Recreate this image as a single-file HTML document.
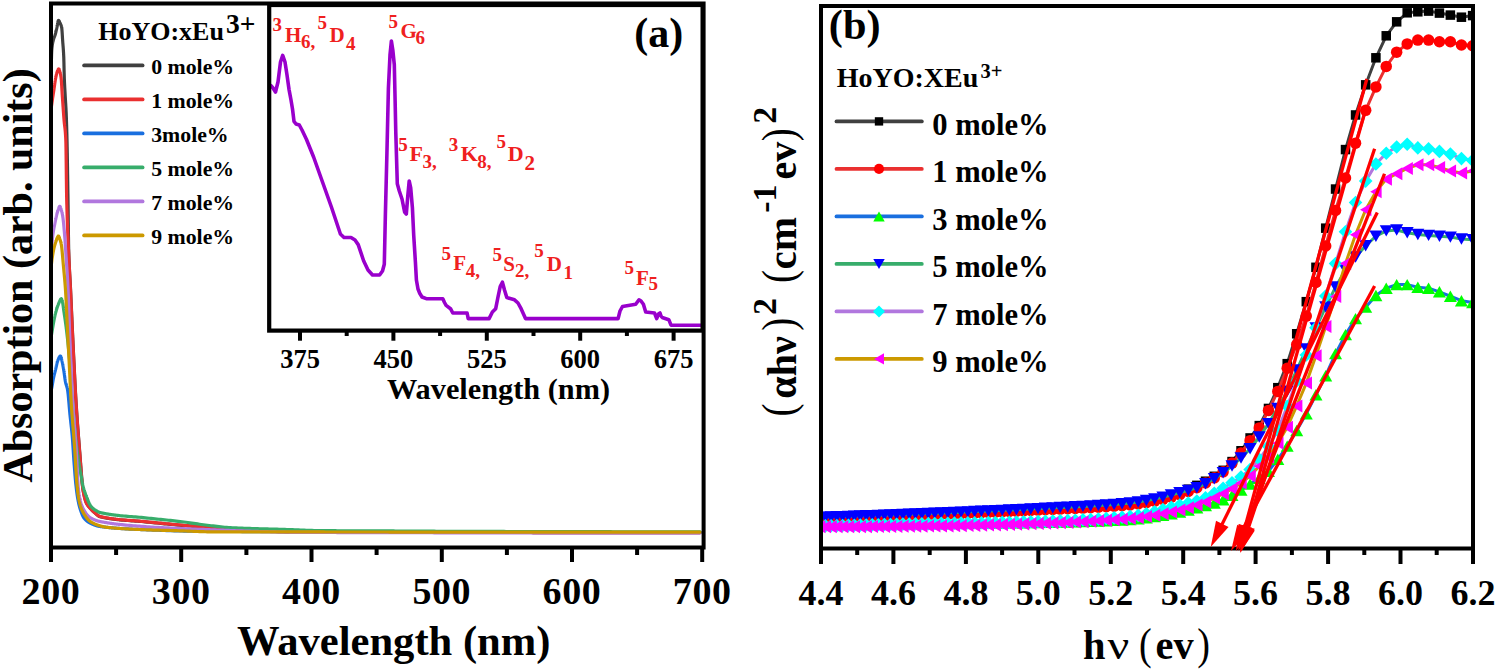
<!DOCTYPE html>
<html><head><meta charset="utf-8"><style>
html,body{margin:0;padding:0;background:#fff;}
svg{display:block;}
text{font-family:"Liberation Serif", serif;}
</style></head><body>
<svg width="1497" height="672" viewBox="0 0 1497 672">
<rect width="1497" height="672" fill="#fff"/>
<defs><clipPath id="clipL"><rect x="51" y="3.5" width="652.6" height="544.0"/></clipPath><clipPath id="clipR"><rect x="821" y="6" width="652" height="542.5"/></clipPath><clipPath id="clipI"><rect x="269.5" y="4.5" width="434" height="326"/></clipPath></defs>
<polyline points="51.20,68.30 51.26,66.08 51.31,63.84 51.37,61.62 51.43,59.46 51.49,57.40 51.54,55.47 51.60,53.72 51.66,52.19 51.72,50.92 51.77,49.94 51.83,49.25 51.89,48.62 51.95,48.03 52.00,47.47 52.06,46.95 52.12,46.45 52.18,45.98 52.23,45.54 52.29,45.12 52.35,44.73 52.41,44.36 52.46,44.01 52.52,43.67 52.58,43.36 52.63,43.06 52.69,42.77 52.75,42.50 52.81,42.24 52.86,41.98 52.92,41.74 52.98,41.50 53.04,41.26 53.09,41.03 53.15,40.80 53.21,40.57 53.27,40.34 53.32,40.11 53.38,39.88 53.44,39.66 53.50,39.45 53.55,39.25 53.61,39.05 53.67,38.86 53.72,38.68 53.78,38.50 53.84,38.33 53.90,38.16 53.95,38.00 54.01,37.84 54.07,37.68 54.13,37.53 54.18,37.38 54.24,37.23 54.30,37.09 54.36,36.94 54.41,36.80 54.47,36.66 54.53,36.51 54.59,36.37 54.64,36.22 54.70,36.08 54.76,35.93 54.82,35.78 54.87,35.62 54.93,35.47 54.99,35.31 55.04,35.14 55.10,34.97 55.16,34.80 55.22,34.62 55.27,34.43 55.33,34.24 55.39,34.04 55.45,33.83 55.50,33.62 55.56,33.40 55.62,33.18 55.68,32.95 55.73,32.71 55.79,32.48 55.85,32.23 55.91,31.98 55.96,31.73 56.02,31.48 56.08,31.22 56.13,30.96 56.19,30.70 56.25,30.44 56.31,30.17 56.36,29.91 56.42,29.64 56.48,29.38 56.54,29.11 56.59,28.84 56.65,28.58 56.71,28.31 56.77,28.05 56.82,27.79 56.88,27.53 56.94,27.27 57.00,27.02 57.05,26.76 57.11,26.48 57.17,26.19 57.23,25.89 57.28,25.57 57.34,25.25 57.40,24.91 57.45,24.58 57.51,24.24 57.57,23.91 57.63,23.57 57.68,23.25 57.74,22.92 57.80,22.61 57.86,22.31 57.91,22.02 57.97,21.75 58.03,21.50 58.09,21.27 58.14,21.06 58.20,20.87 58.26,20.72 58.32,20.59 58.37,20.49 58.43,20.43 58.49,20.40 58.54,20.40 58.60,20.42 58.66,20.45 58.72,20.49 58.77,20.54 58.83,20.60 58.89,20.68 58.95,20.76 59.00,20.84 59.06,20.94 59.12,21.04 59.18,21.15 59.23,21.27 59.29,21.39 59.35,21.51 59.41,21.64 59.46,21.77 59.52,21.90 59.58,22.04 59.64,22.17 59.69,22.30 59.75,22.44 59.81,22.57 59.86,22.70 59.92,22.83 59.98,22.96 60.04,23.08 60.09,23.20 60.15,23.31 60.21,23.43 60.27,23.54 60.32,23.65 60.38,23.77 60.44,23.88 60.50,23.99 60.55,24.11 60.61,24.23 60.67,24.35 60.73,24.48 60.78,24.61 60.84,24.74 60.90,24.88 60.95,25.03 61.01,25.18 61.07,25.34 61.13,25.50 61.18,25.68 61.24,25.86 61.30,26.05 61.36,26.25 61.41,26.47 61.47,26.69 61.53,26.92 61.59,27.17 61.64,27.43 61.70,27.70 61.76,28.04 61.82,28.47 61.87,29.00 61.93,29.61 61.99,30.29 62.05,31.04 62.10,31.84 62.16,32.69 62.22,33.57 62.27,34.49 62.33,35.42 62.39,36.36 62.45,37.31 62.50,38.24 62.56,39.16 62.62,40.05 62.68,40.91 62.73,41.72 62.79,42.50 62.85,43.26 62.91,43.99 62.96,44.71 63.02,45.42 63.08,46.14 63.14,46.87 63.19,47.61 63.25,48.37 63.31,49.16 63.36,49.99 63.42,50.86 63.48,51.78 63.54,52.75 63.59,53.80 63.65,54.91 63.71,56.10 63.77,57.39 63.82,59.05 63.88,61.10 63.94,63.42 64.00,65.92 64.05,68.50 64.11,71.05 64.17,73.47 64.23,75.66 64.28,77.52 64.34,79.05 64.40,80.47 64.46,81.81 64.51,83.08 64.57,84.28 64.63,85.43 64.68,86.53 64.74,87.59 64.80,88.62 64.86,89.63 64.91,90.63 64.97,91.62 65.03,92.62 65.09,93.63 65.14,94.66 65.20,95.72 65.26,96.77 65.32,97.78 65.37,98.76 65.43,99.72 65.49,100.65 65.55,101.57 65.60,102.49 65.66,103.41 65.72,104.35 65.77,105.30 65.83,106.27 65.89,107.28 65.95,108.33 66.00,109.42 66.06,110.57 66.12,111.78 66.18,113.05 66.23,114.41 66.29,115.84 66.35,117.36 66.41,118.96 66.46,120.63 66.52,122.38 66.58,124.22 66.64,126.12 66.69,128.11 66.75,130.17 66.81,132.31 66.87,134.52 66.92,136.80 66.98,139.15 67.04,141.61 67.09,144.24 67.15,147.06 67.21,150.03 67.27,153.15 67.32,156.41 67.38,159.78 67.44,163.26 67.50,166.84 67.55,170.49 67.61,174.20 67.67,177.97 67.73,181.77 67.78,185.59 67.84,189.42 67.90,193.25 67.96,197.06 68.01,200.84 68.07,204.90 68.13,209.28 68.18,213.90 68.24,218.66 68.30,223.46 68.36,228.20 68.41,232.79 68.47,237.13 68.53,241.12 68.59,244.66 68.64,247.67 68.70,250.04 68.76,252.03 68.82,253.92 68.87,255.71 68.93,257.42 68.99,259.04 69.05,260.59 69.10,262.06 69.16,263.46 69.22,264.80 69.28,266.08 69.33,267.30 69.39,268.47 69.45,269.60 69.50,270.69 69.56,271.74 69.62,272.76 69.68,273.75 69.73,274.73 69.79,275.68 69.85,276.62 69.91,277.56 69.96,278.49 70.02,279.42 70.08,280.36 70.14,281.31 70.19,282.28 70.25,283.27 70.31,284.28 70.37,285.32 70.42,286.40 70.48,287.52 70.54,288.68 70.59,289.89 70.65,291.13 70.71,292.38 70.77,293.64 70.82,294.90 70.88,296.17 70.94,297.45 71.00,298.73 71.05,300.01 71.11,301.29 71.17,302.58 71.23,303.87 71.28,305.17 71.34,306.46 71.40,307.76 71.46,309.05 71.51,310.35 71.57,311.65 71.63,312.94 71.69,314.23 71.74,315.52 71.80,316.81 71.86,318.10 71.91,319.38 71.97,320.66 72.03,321.93 72.09,323.19 72.14,324.46 72.20,325.71 72.26,326.96 72.32,328.20 72.37,329.44 72.43,330.66 72.49,331.89 72.55,333.11 72.60,334.32 72.66,335.54 72.72,336.75 72.78,337.96 72.83,339.16 72.89,340.37 72.95,341.57 73.00,342.76 73.06,343.96 73.12,345.15 73.18,346.34 73.23,347.52 73.29,348.70 73.35,349.88 73.41,351.06 73.46,352.23 73.52,353.40 73.58,354.56 73.64,355.73 73.69,356.88 73.75,358.04 73.81,359.19 73.87,360.34 73.92,361.49 73.98,362.63 74.04,363.77 74.10,364.90 74.15,366.04 74.21,367.18 74.27,368.32 74.32,369.46 74.38,370.61 74.44,371.75 74.50,372.90 74.55,374.04 74.61,375.19 74.67,376.33 74.73,377.48 74.78,378.62 74.84,379.75 74.90,380.88 74.96,382.01 75.01,383.13 75.07,384.25 75.13,385.36 75.19,386.46 75.24,387.56 75.30,388.65 75.36,389.72 75.41,390.79 75.47,391.85 75.53,392.90 75.59,393.93 75.64,394.96 75.70,395.97 75.76,396.97 75.82,397.95 75.87,398.92 75.93,399.88 75.99,400.82 76.05,401.74 76.10,402.66 76.16,403.57 76.22,404.48 76.28,405.38 76.33,406.27 76.39,407.16 76.45,408.04 76.51,408.91 76.56,409.78 76.62,410.64 76.68,411.50 76.73,412.35 76.79,413.20 76.85,414.04 76.91,414.88 76.96,415.71 77.02,416.53 77.08,417.35 77.14,418.17 77.19,418.98 77.25,419.79 77.31,420.59 77.37,421.39 77.42,422.18 77.48,422.97 77.54,423.76 77.60,424.54 77.65,425.32 77.71,426.09 77.77,426.86 77.82,427.63 77.88,428.39 77.94,429.15 78.00,429.91 78.05,430.66 78.11,431.42 78.17,432.16 78.23,432.91 78.28,433.65 78.34,434.39 78.40,435.13 78.46,435.87 78.51,436.60 78.57,437.34 78.63,438.07 78.69,438.79 78.74,439.52 78.80,440.25 78.86,440.97 78.92,441.69 78.97,442.41 79.03,443.13 79.09,443.85 79.14,444.57 79.20,445.29 79.26,446.00 79.32,446.72 79.37,447.43 79.43,448.15 79.49,448.86 79.55,449.58 79.60,450.30 79.66,451.03 79.72,451.76 79.78,452.50 79.83,453.24 79.89,453.99 79.95,454.74 80.01,455.50 80.06,456.26 80.12,457.02 80.18,457.78 80.23,458.54 80.29,459.31 80.35,460.07 80.41,460.84 80.46,461.61 80.52,462.37 80.58,463.14 80.64,463.91 80.69,464.67 80.75,465.43 80.81,466.19 80.87,466.95 80.92,467.70 80.98,468.45 81.04,469.20 81.10,469.94 81.15,470.67 81.21,471.41 81.27,472.13 81.33,472.85 81.38,473.57 81.44,474.27 81.50,474.97 81.55,475.67 81.61,476.35 81.67,477.03 81.73,477.69 81.78,478.35 81.84,479.00 81.90,479.64 81.96,480.27 82.01,480.88 82.07,481.49 82.13,482.09 82.19,482.67 82.24,483.24 82.30,483.80 82.36,484.34 82.42,484.87 82.47,485.39 82.53,485.89 82.59,486.37 82.64,486.85 82.70,487.30 82.76,487.74 82.82,488.17 82.87,488.57 82.93,488.96 82.99,489.33 83.05,489.69 83.10,490.02 83.16,490.35 83.22,490.67 83.28,490.99 83.33,491.30 83.39,491.61 83.45,491.91 83.51,492.22 83.56,492.51 83.62,492.81 83.68,493.10 83.74,493.39 83.79,493.67 83.85,493.95 83.91,494.23 83.96,494.50 84.02,494.77 84.08,495.03 84.14,495.29 84.19,495.55 84.25,495.80 84.31,496.06 84.37,496.30 84.42,496.55 84.48,496.78 84.54,497.02 84.60,497.25 84.65,497.48 84.71,497.71 84.77,497.93 84.83,498.15 84.88,498.36 84.94,498.57 85.00,498.78 85.05,498.98 85.11,499.19 85.17,499.38 85.23,499.58 85.28,499.77 85.34,499.95 85.40,500.14 85.46,500.32 85.51,500.49 85.57,500.67 85.63,500.84 85.69,501.00 85.74,501.16 85.80,501.32 85.86,501.48 85.92,501.63 85.97,501.78 86.03,501.93 86.09,502.07 86.15,502.21 86.20,502.35 86.26,502.48 86.32,502.61 86.37,502.74 86.43,502.86 86.49,502.98 86.55,503.10 86.60,503.21 86.66,503.32 86.72,503.44 86.78,503.55 86.83,503.65 86.89,503.76 86.95,503.86 87.01,503.97 87.06,504.07 87.12,504.17 87.18,504.27 87.24,504.36 87.29,504.46 87.35,504.55 87.41,504.65 87.46,504.74 87.52,504.83 87.58,504.92 87.64,505.01 87.69,505.09 87.75,505.18 87.81,505.26 87.87,505.34 87.92,505.43 87.98,505.51 88.04,505.59 88.10,505.66 88.15,505.74 88.21,505.82 88.27,505.90 88.33,505.97 88.38,506.04 88.44,506.12 88.50,506.19 88.56,506.26 88.61,506.33 88.67,506.40 88.73,506.47 88.78,506.54 88.84,506.61 88.90,506.68 88.96,506.75 89.01,506.82 89.07,506.88 89.13,506.95 89.19,507.02 89.24,507.08 89.30,507.15 89.36,507.21 89.42,507.28 89.47,507.34 89.53,507.41 89.59,507.47 89.65,507.53 89.70,507.60 89.76,507.66 89.82,507.73 89.87,507.79 89.93,507.86 89.99,507.92 90.05,507.98 90.10,508.05 90.16,508.11 90.22,508.18 90.28,508.24 90.33,508.31 90.39,508.37 90.45,508.44 90.51,508.51 90.56,508.57 90.62,508.64 90.68,508.71 90.74,508.77 90.79,508.84 90.85,508.90 90.91,508.97 90.97,509.03 91.02,509.10 91.08,509.16 91.14,509.22 91.19,509.29 91.25,509.35 91.31,509.41 91.37,509.48 91.42,509.54 91.48,509.60 91.54,509.67 91.60,509.73 91.65,509.79 91.71,509.85 91.77,509.91 91.83,509.97 91.88,510.03 91.94,510.09 92.00,510.15 92.06,510.21 92.11,510.27 92.17,510.33 92.23,510.39 92.28,510.45 92.34,510.51 92.40,510.57 92.46,510.63 92.51,510.69 92.57,510.74 92.63,510.80 92.69,510.86 92.74,510.92 92.80,510.97 92.86,511.03 92.92,511.09 92.97,511.14 93.03,511.20 93.09,511.26 93.15,511.31 93.20,511.37 93.26,511.42 93.32,511.48 93.38,511.53 93.43,511.59 93.49,511.64 93.55,511.70 93.60,511.75 93.66,511.80 93.72,511.86 93.78,511.91 93.83,511.96 93.89,512.02 93.95,512.07 94.01,512.12 94.06,512.18 94.12,512.23 94.18,512.28 94.24,512.33 94.29,512.38 94.35,512.43 94.41,512.48 94.47,512.54 94.52,512.59 94.58,512.64 94.64,512.69 94.69,512.74 94.75,512.79 94.81,512.84 94.87,512.89 94.92,512.94 94.98,512.98 95.04,513.03 95.10,513.08 95.15,513.13 95.21,513.18 95.27,513.23 95.33,513.28 95.38,513.33 95.44,513.39 95.50,513.44 95.56,513.49 95.61,513.54 95.67,513.59 95.73,513.64 95.79,513.70 95.84,513.75 95.90,513.80 95.96,513.85 96.01,513.90 96.07,513.96 96.13,514.01 96.19,514.06 96.24,514.12 96.30,514.17 96.36,514.22 96.42,514.27 96.47,514.32 96.53,514.38 96.59,514.43 96.65,514.48 96.70,514.53 96.76,514.59 96.82,514.64 96.88,514.69 96.93,514.74 96.99,514.79 97.05,514.84 97.10,514.89 97.16,514.94 97.22,514.99 97.28,515.04 97.33,515.09 97.39,515.14 97.45,515.19 97.51,515.24 97.56,515.28 97.62,515.33 97.68,515.38 97.74,515.42 97.79,515.47 97.85,515.52 97.91,515.56 97.97,515.60 98.02,515.65 98.08,515.69 98.14,515.73 98.20,515.78 98.25,515.82 98.31,515.86 98.37,515.90 98.42,515.94 98.48,515.98 98.54,516.02 98.60,516.05 98.65,516.09 98.71,516.13 98.77,516.16 98.83,516.20 98.88,516.23 98.94,516.26 99.00,516.29 99.06,516.33 99.11,516.36 99.17,516.38 99.23,516.41 99.29,516.44 99.34,516.47 99.40,516.49 99.46,516.52 99.51,516.54 99.57,516.56 99.63,516.59 99.69,516.61 99.74,516.63 99.80,516.64 99.86,516.66 99.92,516.68 99.97,516.69 100.03,516.71 100.09,516.72 100.15,516.74 100.20,516.75 100.26,516.76 100.32,516.78 100.38,516.79 100.43,516.80 100.49,516.82 100.55,516.83 100.61,516.85 100.66,516.86 100.72,516.87 100.78,516.89 100.83,516.90 100.89,516.91 100.95,516.93 101.01,516.94 101.06,516.95 101.12,516.97 101.18,516.98 101.24,516.99 101.29,517.01 101.35,517.02 101.41,517.03 101.47,517.05 101.52,517.06 101.58,517.07 101.64,517.09 101.70,517.10 101.75,517.11 101.81,517.13 101.87,517.14 101.92,517.15 101.98,517.16 102.04,517.18 102.10,517.19 102.15,517.20 102.21,517.22 102.27,517.23 102.33,517.24 102.38,517.25 102.44,517.27 102.50,517.28 102.56,517.29 102.61,517.30 102.67,517.32 102.73,517.33 102.79,517.34 102.84,517.35 102.90,517.37 102.96,517.38 103.02,517.39 103.07,517.40 103.13,517.41 103.19,517.43 103.24,517.44 103.30,517.45 103.36,517.46 103.42,517.48 103.47,517.49 103.53,517.50 103.59,517.51 103.65,517.52 103.70,517.54 103.76,517.55 103.82,517.56 103.88,517.57 103.93,517.58 103.99,517.59 104.05,517.61 104.11,517.62 104.16,517.63 104.22,517.64 104.28,517.65 104.33,517.66 104.39,517.68 104.45,517.69 104.51,517.70 104.56,517.71 104.62,517.72 104.68,517.73 104.74,517.74 104.79,517.76 104.85,517.77 104.91,517.78 104.97,517.79 105.02,517.80 105.08,517.81 105.14,517.82 105.20,517.83 105.25,517.84 105.31,517.86 105.37,517.87 105.43,517.88 105.48,517.89 105.54,517.90 105.60,517.91 105.65,517.92 105.71,517.93 105.77,517.94 105.83,517.95 105.88,517.96 105.94,517.97 106.00,517.99 106.06,518.00 106.11,518.01 106.17,518.02 106.23,518.03 106.29,518.04 106.34,518.05 106.40,518.06 106.46,518.07 106.52,518.08 106.57,518.09 106.63,518.10 106.69,518.11 106.74,518.12 106.80,518.13 106.86,518.14 106.92,518.15 106.97,518.16 107.03,518.17 107.09,518.18 107.15,518.19 107.20,518.20 107.26,518.21 107.32,518.22 107.38,518.23 107.43,518.24 107.49,518.25 107.55,518.26 107.61,518.27 107.66,518.28 107.72,518.29 107.78,518.30 107.84,518.31 107.89,518.32 107.95,518.33 108.01,518.34 108.06,518.35 108.12,518.36 108.18,518.37 108.24,518.38 108.29,518.39 108.35,518.40 108.41,518.41 108.47,518.42 108.52,518.43 108.58,518.44 108.64,518.45 108.70,518.46 108.75,518.47 108.81,518.47 108.87,518.48 108.93,518.49 108.98,518.50 109.04,518.51 109.10,518.52 109.15,518.53 109.21,518.54 109.27,518.55 109.33,518.56 109.38,518.57 109.44,518.58 109.50,518.58 109.56,518.59 109.61,518.60 109.67,518.61 109.73,518.62 109.79,518.63 109.84,518.64 109.90,518.65 109.96,518.66 110.02,518.66 110.07,518.67 110.13,518.68 110.19,518.69 110.25,518.70 110.30,518.71 110.36,518.72 110.42,518.73 110.47,518.73 110.53,518.74 110.59,518.75 110.65,518.76 110.70,518.77 110.76,518.78 110.82,518.78 110.88,518.79 110.93,518.80 110.99,518.81 111.05,518.82 111.11,518.83 111.16,518.84 111.22,518.84 111.28,518.85 111.34,518.86 111.39,518.87 111.45,518.88 111.51,518.88 111.56,518.89 111.62,518.90 111.68,518.91 111.74,518.92 111.79,518.93 111.85,518.93 111.91,518.94 111.97,518.95 112.02,518.96 112.08,518.97 112.14,518.97 112.20,518.98 112.25,518.99 112.31,519.00 112.37,519.00 112.43,519.01 112.48,519.02 112.54,519.03 112.60,519.04 112.66,519.04 112.71,519.05 112.77,519.06 112.83,519.07 112.88,519.07 112.94,519.08 113.00,519.09 113.06,519.10 113.11,519.10 113.17,519.11 113.23,519.12 113.29,519.13 113.34,519.13 113.40,519.14 113.46,519.15 113.52,519.16 113.57,519.16 113.63,519.17 113.69,519.18 113.75,519.19 113.80,519.19 113.86,519.20 113.92,519.21 113.97,519.22 114.03,519.22 114.09,519.23 114.15,519.24 114.20,519.24 114.26,519.25 114.32,519.26 114.38,519.27 114.43,519.27 114.49,519.28 114.55,519.29 114.61,519.29 114.66,519.30 114.72,519.31 114.78,519.31 114.84,519.32 114.89,519.33 114.95,519.34 115.01,519.34 115.07,519.35 115.12,519.36 115.18,519.36 115.24,519.37 115.29,519.38 115.35,519.38 115.41,519.39 115.47,519.40 115.52,519.40 115.58,519.41 115.64,519.42 115.70,519.42 115.75,519.43 115.81,519.44 115.87,519.44 115.93,519.45 115.98,519.46 116.04,519.46 116.10,519.47 116.16,519.48 116.21,519.48 116.27,519.49 116.33,519.50 116.38,519.50 116.44,519.51 116.50,519.51 116.56,519.52 116.61,519.53 116.67,519.53 116.73,519.54 116.79,519.55 116.84,519.55 116.90,519.56 116.96,519.57 117.02,519.57 117.07,519.58 117.13,519.58 117.19,519.59 117.25,519.60 117.30,519.60 117.36,519.61 117.42,519.61 117.48,519.62 117.53,519.63 117.59,519.63 117.65,519.64 117.70,519.65 117.76,519.65 117.82,519.66 117.88,519.66 117.93,519.67 117.99,519.68 118.05,519.68 118.11,519.69 118.16,519.69 118.22,519.70 118.28,519.70 118.34,519.71 118.39,519.72 118.45,519.72 118.51,519.73 118.57,519.73 118.62,519.74 118.68,519.75 118.74,519.75 118.79,519.76 118.85,519.76 118.91,519.77 118.97,519.77 119.02,519.78 119.08,519.79 119.14,519.79 119.20,519.80 119.25,519.80 119.31,519.81 119.37,519.81 119.43,519.82 119.48,519.83 119.54,519.83 119.60,519.84 119.66,519.84 119.71,519.85 119.77,519.85 119.83,519.86 119.89,519.86 119.94,519.87 120.00,519.87 121.94,520.05 123.88,520.21 125.82,520.37 127.76,520.51 129.70,520.65 131.64,520.79 133.58,520.92 135.52,521.06 137.46,521.20 139.40,521.34 141.34,521.50 143.28,521.66 145.22,521.84 147.16,522.04 149.10,522.24 151.04,522.44 152.98,522.63 154.92,522.83 156.86,523.03 158.80,523.22 160.74,523.41 162.68,523.60 164.62,523.79 166.56,523.98 168.49,524.16 170.43,524.34 172.37,524.52 174.31,524.70 176.25,524.87 178.19,525.04 180.13,525.21 182.07,525.38 184.01,525.54 185.95,525.70 187.89,525.86 189.83,526.01 191.77,526.16 193.71,526.32 195.65,526.46 197.59,526.61 199.53,526.76 201.47,526.91 203.41,527.05 205.35,527.20 207.29,527.34 209.23,527.49 211.17,527.64 213.11,527.79 215.05,527.94 216.99,528.09 218.93,528.25 220.87,528.41 222.81,528.58 224.75,528.74 226.69,528.90 228.63,529.06 230.57,529.22 232.51,529.37 234.45,529.53 236.39,529.67 238.33,529.81 240.27,529.95 242.21,530.08 244.15,530.20 246.09,530.31 248.03,530.41 249.97,530.50 251.91,530.58 253.85,530.67 255.79,530.75 257.73,530.83 259.67,530.91 261.61,530.99 263.55,531.07 265.48,531.15 267.42,531.23 269.36,531.30 271.30,531.37 273.24,531.44 275.18,531.50 277.12,531.57 279.06,531.63 281.00,531.68 282.94,531.73 284.88,531.78 286.82,531.83 288.76,531.87 290.70,531.90 292.64,531.93 294.58,531.96 296.52,531.98 298.46,531.99 300.40,532.00 302.34,532.01 304.28,532.02 306.22,532.02 308.16,532.03 310.10,532.04 312.04,532.04 313.98,532.05 315.92,532.06 317.86,532.06 319.80,532.07 321.74,532.08 323.68,532.08 325.62,532.09 327.56,532.10 329.50,532.10 331.44,532.11 333.38,532.12 335.32,532.12 337.26,532.13 339.20,532.14 341.14,532.14 343.08,532.15 345.02,532.15 346.96,532.16 348.90,532.17 350.84,532.17 352.78,532.18 354.72,532.18 356.66,532.19 358.60,532.19 360.54,532.20 362.47,532.21 364.41,532.21 366.35,532.22 368.29,532.22 370.23,532.23 372.17,532.23 374.11,532.24 376.05,532.24 377.99,532.25 379.93,532.25 381.87,532.26 383.81,532.26 385.75,532.27 387.69,532.27 389.63,532.28 391.57,532.28 393.51,532.29 395.45,532.29 397.39,532.30 399.33,532.30 401.27,532.31 403.21,532.31 405.15,532.32 407.09,532.32 409.03,532.32 410.97,532.33 412.91,532.33 414.85,532.34 416.79,532.34 418.73,532.35 420.67,532.35 422.61,532.35 424.55,532.36 426.49,532.36 428.43,532.37 430.37,532.37 432.31,532.37 434.25,532.38 436.19,532.38 438.13,532.39 440.07,532.39 442.01,532.39 443.95,532.40 445.89,532.40 447.83,532.40 449.77,532.41 451.71,532.41 453.65,532.42 455.59,532.42 457.53,532.42 459.46,532.43 461.40,532.43 463.34,532.43 465.28,532.44 467.22,532.44 469.16,532.44 471.10,532.44 473.04,532.45 474.98,532.45 476.92,532.45 478.86,532.46 480.80,532.46 482.74,532.46 484.68,532.47 486.62,532.47 488.56,532.47 490.50,532.47 492.44,532.48 494.38,532.48 496.32,532.48 498.26,532.48 500.20,532.49 502.14,532.49 504.08,532.49 506.02,532.49 507.96,532.50 509.90,532.50 511.84,532.50 513.78,532.50 515.72,532.51 517.66,532.51 519.60,532.51 521.54,532.51 523.48,532.52 525.42,532.52 527.36,532.52 529.30,532.52 531.24,532.52 533.18,532.53 535.12,532.53 537.06,532.53 539.00,532.53 540.94,532.53 542.88,532.53 544.82,532.54 546.76,532.54 548.70,532.54 550.64,532.54 552.58,532.54 554.52,532.55 556.45,532.55 558.39,532.55 560.33,532.55 562.27,532.55 564.21,532.55 566.15,532.55 568.09,532.56 570.03,532.56 571.97,532.56 573.91,532.56 575.85,532.56 577.79,532.56 579.73,532.56 581.67,532.57 583.61,532.57 585.55,532.57 587.49,532.57 589.43,532.57 591.37,532.57 593.31,532.57 595.25,532.57 597.19,532.57 599.13,532.58 601.07,532.58 603.01,532.58 604.95,532.58 606.89,532.58 608.83,532.58 610.77,532.58 612.71,532.58 614.65,532.58 616.59,532.58 618.53,532.58 620.47,532.59 622.41,532.59 624.35,532.59 626.29,532.59 628.23,532.59 630.17,532.59 632.11,532.59 634.05,532.59 635.99,532.59 637.93,532.59 639.87,532.59 641.81,532.59 643.75,532.59 645.69,532.59 647.63,532.59 649.57,532.59 651.51,532.59 653.44,532.60 655.38,532.60 657.32,532.60 659.26,532.60 661.20,532.60 663.14,532.60 665.08,532.60 667.02,532.60 668.96,532.60 670.90,532.60 672.84,532.60 674.78,532.60 676.72,532.60 678.66,532.60 680.60,532.60 682.54,532.60 684.48,532.60 686.42,532.60 688.36,532.60 690.30,532.60 692.24,532.60 694.18,532.60 696.12,532.60 698.06,532.60 700.00,532.60" fill="none" stroke="#404040" stroke-width="3.2" stroke-linejoin="round" stroke-linecap="round" clip-path="url(#clipL)"/>
<polyline points="50.50,113.60 50.56,113.15 50.62,112.70 50.67,112.25 50.73,111.80 50.79,111.35 50.85,110.91 50.91,110.46 50.96,110.02 51.02,109.58 51.08,109.14 51.14,108.70 51.20,108.27 51.25,107.83 51.31,107.40 51.37,106.97 51.43,106.54 51.49,106.11 51.54,105.69 51.60,105.27 51.66,104.84 51.72,104.42 51.78,104.01 51.83,103.59 51.89,103.18 51.95,102.76 52.01,102.35 52.07,101.95 52.12,101.54 52.18,101.14 52.24,100.73 52.30,100.34 52.35,99.94 52.41,99.55 52.47,99.16 52.53,98.77 52.59,98.38 52.64,97.99 52.70,97.61 52.76,97.23 52.82,96.85 52.88,96.47 52.93,96.09 52.99,95.71 53.05,95.33 53.11,94.96 53.17,94.58 53.22,94.20 53.28,93.83 53.34,93.45 53.40,93.08 53.46,92.70 53.51,92.32 53.57,91.95 53.63,91.57 53.69,91.19 53.75,90.81 53.80,90.43 53.86,90.05 53.92,89.67 53.98,89.28 54.04,88.89 54.09,88.49 54.15,88.08 54.21,87.67 54.27,87.26 54.33,86.85 54.38,86.44 54.44,86.02 54.50,85.60 54.56,85.18 54.62,84.77 54.67,84.35 54.73,83.94 54.79,83.53 54.85,83.12 54.91,82.72 54.96,82.32 55.02,81.92 55.08,81.54 55.14,81.15 55.20,80.78 55.25,80.41 55.31,80.05 55.37,79.70 55.43,79.36 55.48,79.03 55.54,78.71 55.60,78.40 55.66,78.10 55.72,77.82 55.77,77.54 55.83,77.26 55.89,76.99 55.95,76.71 56.01,76.44 56.06,76.18 56.12,75.91 56.18,75.65 56.24,75.40 56.30,75.14 56.35,74.90 56.41,74.65 56.47,74.41 56.53,74.17 56.59,73.94 56.64,73.71 56.70,73.49 56.76,73.27 56.82,73.06 56.88,72.85 56.93,72.65 56.99,72.45 57.05,72.26 57.11,72.08 57.17,71.90 57.22,71.73 57.28,71.56 57.34,71.40 57.40,71.25 57.46,71.11 57.51,70.97 57.57,70.83 57.63,70.69 57.69,70.55 57.75,70.41 57.80,70.27 57.86,70.13 57.92,69.99 57.98,69.86 58.04,69.73 58.09,69.61 58.15,69.50 58.21,69.39 58.27,69.29 58.33,69.20 58.38,69.12 58.44,69.05 58.50,68.99 58.56,68.95 58.62,68.92 58.67,68.90 58.73,68.90 58.79,68.92 58.85,68.96 58.90,69.02 58.96,69.09 59.02,69.17 59.08,69.28 59.14,69.39 59.19,69.52 59.25,69.65 59.31,69.80 59.37,69.96 59.43,70.12 59.48,70.30 59.54,70.48 59.60,70.66 59.66,70.85 59.72,71.04 59.77,71.24 59.83,71.43 59.89,71.63 59.95,71.83 60.01,72.02 60.06,72.22 60.12,72.43 60.18,72.65 60.24,72.88 60.30,73.12 60.35,73.38 60.41,73.65 60.47,73.93 60.53,74.22 60.59,74.52 60.64,74.84 60.70,75.18 60.76,75.53 60.82,75.89 60.88,76.27 60.93,76.67 60.99,77.08 61.05,77.51 61.11,77.96 61.17,78.46 61.22,79.04 61.28,79.69 61.34,80.39 61.40,81.15 61.46,81.97 61.51,82.82 61.57,83.72 61.63,84.64 61.69,85.60 61.75,86.57 61.80,87.55 61.86,88.55 61.92,89.54 61.98,90.53 62.04,91.52 62.09,92.48 62.15,93.42 62.21,94.34 62.27,95.22 62.32,96.06 62.38,96.90 62.44,97.74 62.50,98.58 62.56,99.42 62.61,100.26 62.67,101.11 62.73,101.95 62.79,102.79 62.85,103.63 62.90,104.47 62.96,105.31 63.02,106.14 63.08,106.97 63.14,107.80 63.19,108.62 63.25,109.45 63.31,110.26 63.37,111.07 63.43,111.88 63.48,112.68 63.54,113.48 63.60,114.27 63.66,115.05 63.72,115.82 63.77,116.59 63.83,117.35 63.89,118.10 63.95,118.84 64.01,119.57 64.06,120.28 64.12,120.94 64.18,121.56 64.24,122.15 64.30,122.72 64.35,123.25 64.41,123.77 64.47,124.27 64.53,124.76 64.59,125.23 64.64,125.71 64.70,126.17 64.76,126.65 64.82,127.13 64.88,127.62 64.93,128.12 64.99,128.64 65.05,129.18 65.11,129.75 65.17,130.35 65.22,130.99 65.28,131.66 65.34,132.37 65.40,133.13 65.45,133.94 65.51,134.80 65.57,135.72 65.63,136.71 65.69,137.75 65.74,138.87 65.80,140.06 65.86,141.74 65.92,144.19 65.98,147.29 66.03,150.96 66.09,155.08 66.15,159.55 66.21,164.27 66.27,169.15 66.32,174.06 66.38,178.92 66.44,183.62 66.50,188.06 66.56,192.14 66.61,195.74 66.67,198.78 66.73,201.23 66.79,203.53 66.85,205.75 66.90,207.90 66.96,209.97 67.02,211.98 67.08,213.92 67.14,215.80 67.19,217.62 67.25,219.39 67.31,221.10 67.37,222.76 67.43,224.38 67.48,225.96 67.54,227.49 67.60,228.99 67.66,230.46 67.72,231.89 67.77,233.30 67.83,234.69 67.89,236.05 67.95,237.40 68.01,238.73 68.06,240.06 68.12,241.37 68.18,242.68 68.24,243.99 68.30,245.30 68.35,246.62 68.41,247.95 68.47,249.28 68.53,250.63 68.59,251.96 68.64,253.26 68.70,254.54 68.76,255.80 68.82,257.04 68.87,258.26 68.93,259.46 68.99,260.65 69.05,261.82 69.11,262.98 69.16,264.12 69.22,265.25 69.28,266.38 69.34,267.49 69.40,268.60 69.45,269.70 69.51,270.80 69.57,271.89 69.63,272.98 69.69,274.07 69.74,275.16 69.80,276.26 69.86,277.35 69.92,278.45 69.98,279.56 70.03,280.67 70.09,281.79 70.15,282.91 70.21,284.05 70.27,285.21 70.32,286.37 70.38,287.55 70.44,288.74 70.50,289.96 70.56,291.18 70.61,292.42 70.67,293.67 70.73,294.93 70.79,296.19 70.85,297.47 70.90,298.75 70.96,300.04 71.02,301.34 71.08,302.64 71.14,303.94 71.19,305.25 71.25,306.56 71.31,307.88 71.37,309.19 71.43,310.51 71.48,311.83 71.54,313.14 71.60,314.46 71.66,315.77 71.72,317.08 71.77,318.39 71.83,319.70 71.89,320.99 71.95,322.29 72.01,323.57 72.06,324.85 72.12,326.13 72.18,327.39 72.24,328.64 72.29,329.89 72.35,331.13 72.41,332.36 72.47,333.59 72.53,334.82 72.58,336.05 72.64,337.27 72.70,338.49 72.76,339.71 72.82,340.92 72.87,342.13 72.93,343.34 72.99,344.54 73.05,345.74 73.11,346.94 73.16,348.14 73.22,349.33 73.28,350.52 73.34,351.70 73.40,352.89 73.45,354.07 73.51,355.24 73.57,356.41 73.63,357.58 73.69,358.75 73.74,359.91 73.80,361.07 73.86,362.22 73.92,363.37 73.98,364.52 74.03,365.67 74.09,366.82 74.15,367.97 74.21,369.12 74.27,370.28 74.32,371.44 74.38,372.60 74.44,373.75 74.50,374.91 74.56,376.07 74.61,377.22 74.67,378.37 74.73,379.52 74.79,380.67 74.85,381.81 74.90,382.94 74.96,384.07 75.02,385.19 75.08,386.31 75.14,387.41 75.19,388.51 75.25,389.60 75.31,390.68 75.37,391.75 75.42,392.81 75.48,393.86 75.54,394.90 75.60,395.92 75.66,396.93 75.71,397.92 75.77,398.90 75.83,399.87 75.89,400.82 75.95,401.75 76.00,402.68 76.06,403.60 76.12,404.52 76.18,405.42 76.24,406.33 76.29,407.22 76.35,408.11 76.41,408.99 76.47,409.87 76.53,410.74 76.58,411.61 76.64,412.47 76.70,413.32 76.76,414.17 76.82,415.01 76.87,415.85 76.93,416.68 76.99,417.51 77.05,418.34 77.11,419.15 77.16,419.97 77.22,420.78 77.28,421.58 77.34,422.38 77.40,423.18 77.45,423.97 77.51,424.76 77.57,425.55 77.63,426.33 77.69,427.10 77.74,427.88 77.80,428.65 77.86,429.41 77.92,430.18 77.98,430.94 78.03,431.70 78.09,432.45 78.15,433.21 78.21,433.96 78.27,434.70 78.32,435.45 78.38,436.19 78.44,436.93 78.50,437.67 78.56,438.41 78.61,439.14 78.67,439.87 78.73,440.61 78.79,441.34 78.84,442.07 78.90,442.79 78.96,443.52 79.02,444.25 79.08,444.97 79.13,445.69 79.19,446.42 79.25,447.14 79.31,447.86 79.37,448.58 79.42,449.31 79.48,450.03 79.54,450.77 79.60,451.51 79.66,452.25 79.71,453.00 79.77,453.75 79.83,454.51 79.89,455.27 79.95,456.03 80.00,456.79 80.06,457.56 80.12,458.33 80.18,459.10 80.24,459.88 80.29,460.65 80.35,461.42 80.41,462.19 80.47,462.96 80.53,463.74 80.58,464.50 80.64,465.27 80.70,466.04 80.76,466.80 80.82,467.56 80.87,468.32 80.93,469.07 80.99,469.81 81.05,470.56 81.11,471.30 81.16,472.03 81.22,472.75 81.28,473.47 81.34,474.19 81.40,474.89 81.45,475.59 81.51,476.28 81.57,476.97 81.63,477.64 81.69,478.30 81.74,478.96 81.80,479.60 81.86,480.24 81.92,480.86 81.97,481.47 82.03,482.07 82.09,482.66 82.15,483.24 82.21,483.80 82.26,484.35 82.32,484.89 82.38,485.41 82.44,485.92 82.50,486.41 82.55,486.89 82.61,487.35 82.67,487.79 82.73,488.22 82.79,488.63 82.84,489.03 82.90,489.41 82.96,489.77 83.02,490.11 83.08,490.44 83.13,490.77 83.19,491.10 83.25,491.42 83.31,491.74 83.37,492.05 83.42,492.36 83.48,492.67 83.54,492.97 83.60,493.27 83.66,493.57 83.71,493.86 83.77,494.15 83.83,494.43 83.89,494.71 83.95,494.99 84.00,495.26 84.06,495.53 84.12,495.80 84.18,496.06 84.24,496.31 84.29,496.57 84.35,496.82 84.41,497.06 84.47,497.31 84.53,497.54 84.58,497.78 84.64,498.01 84.70,498.24 84.76,498.46 84.82,498.68 84.87,498.89 84.93,499.11 84.99,499.31 85.05,499.52 85.11,499.72 85.16,499.92 85.22,500.11 85.28,500.30 85.34,500.48 85.39,500.66 85.45,500.84 85.51,501.01 85.57,501.18 85.63,501.35 85.68,501.51 85.74,501.67 85.80,501.83 85.86,501.98 85.92,502.12 85.97,502.27 86.03,502.41 86.09,502.54 86.15,502.67 86.21,502.80 86.26,502.93 86.32,503.05 86.38,503.16 86.44,503.28 86.50,503.40 86.55,503.51 86.61,503.62 86.67,503.73 86.73,503.84 86.79,503.94 86.84,504.05 86.90,504.15 86.96,504.25 87.02,504.35 87.08,504.45 87.13,504.54 87.19,504.64 87.25,504.73 87.31,504.82 87.37,504.91 87.42,505.00 87.48,505.09 87.54,505.18 87.60,505.26 87.66,505.35 87.71,505.43 87.77,505.51 87.83,505.60 87.89,505.68 87.95,505.75 88.00,505.83 88.06,505.91 88.12,505.99 88.18,506.06 88.24,506.14 88.29,506.21 88.35,506.28 88.41,506.35 88.47,506.43 88.53,506.50 88.58,506.57 88.64,506.64 88.70,506.70 88.76,506.77 88.81,506.84 88.87,506.91 88.93,506.97 88.99,507.04 89.05,507.11 89.10,507.17 89.16,507.24 89.22,507.30 89.28,507.37 89.34,507.43 89.39,507.50 89.45,507.56 89.51,507.62 89.57,507.69 89.63,507.75 89.68,507.82 89.74,507.88 89.80,507.94 89.86,508.01 89.92,508.07 89.97,508.14 90.03,508.20 90.09,508.26 90.15,508.33 90.21,508.39 90.26,508.46 90.32,508.52 90.38,508.59 90.44,508.66 90.50,508.72 90.55,508.79 90.61,508.85 90.67,508.91 90.73,508.98 90.79,509.04 90.84,509.10 90.90,509.17 90.96,509.23 91.02,509.29 91.08,509.35 91.13,509.42 91.19,509.48 91.25,509.54 91.31,509.60 91.37,509.66 91.42,509.72 91.48,509.78 91.54,509.84 91.60,509.90 91.66,509.96 91.71,510.02 91.77,510.08 91.83,510.14 91.89,510.19 91.94,510.25 92.00,510.31 92.06,510.37 92.12,510.43 92.18,510.48 92.23,510.54 92.29,510.60 92.35,510.65 92.41,510.71 92.47,510.77 92.52,510.82 92.58,510.88 92.64,510.93 92.70,510.99 92.76,511.04 92.81,511.10 92.87,511.15 92.93,511.20 92.99,511.26 93.05,511.31 93.10,511.37 93.16,511.42 93.22,511.47 93.28,511.52 93.34,511.58 93.39,511.63 93.45,511.68 93.51,511.73 93.57,511.78 93.63,511.84 93.68,511.89 93.74,511.94 93.80,511.99 93.86,512.04 93.92,512.09 93.97,512.14 94.03,512.19 94.09,512.24 94.15,512.29 94.21,512.34 94.26,512.39 94.32,512.44 94.38,512.49 94.44,512.54 94.50,512.58 94.55,512.63 94.61,512.68 94.67,512.73 94.73,512.78 94.79,512.82 94.84,512.87 94.90,512.92 94.96,512.97 95.02,513.01 95.08,513.06 95.13,513.11 95.19,513.16 95.25,513.20 95.31,513.25 95.36,513.30 95.42,513.35 95.48,513.40 95.54,513.45 95.60,513.50 95.65,513.55 95.71,513.60 95.77,513.65 95.83,513.70 95.89,513.75 95.94,513.80 96.00,513.85 96.06,513.90 96.12,513.95 96.18,514.00 96.23,514.05 96.29,514.10 96.35,514.15 96.41,514.20 96.47,514.25 96.52,514.30 96.58,514.35 96.64,514.40 96.70,514.44 96.76,514.49 96.81,514.54 96.87,514.59 96.93,514.64 96.99,514.69 97.05,514.74 97.10,514.79 97.16,514.83 97.22,514.88 97.28,514.93 97.34,514.97 97.39,515.02 97.45,515.07 97.51,515.11 97.57,515.16 97.63,515.20 97.68,515.25 97.74,515.29 97.80,515.34 97.86,515.38 97.92,515.42 97.97,515.46 98.03,515.51 98.09,515.55 98.15,515.59 98.21,515.63 98.26,515.67 98.32,515.71 98.38,515.74 98.44,515.78 98.49,515.82 98.55,515.85 98.61,515.89 98.67,515.93 98.73,515.96 98.78,515.99 98.84,516.03 98.90,516.06 98.96,516.09 99.02,516.12 99.07,516.15 99.13,516.18 99.19,516.21 99.25,516.23 99.31,516.26 99.36,516.28 99.42,516.31 99.48,516.33 99.54,516.36 99.60,516.38 99.65,516.40 99.71,516.42 99.77,516.44 99.83,516.45 99.89,516.47 99.94,516.49 100.00,516.50 100.06,516.51 100.12,516.53 100.18,516.54 100.23,516.56 100.29,516.57 100.35,516.58 100.41,516.60 100.47,516.61 100.52,516.63 100.58,516.64 100.64,516.65 100.70,516.67 100.76,516.68 100.81,516.69 100.87,516.71 100.93,516.72 100.99,516.73 101.05,516.75 101.10,516.76 101.16,516.77 101.22,516.79 101.28,516.80 101.34,516.81 101.39,516.83 101.45,516.84 101.51,516.85 101.57,516.87 101.63,516.88 101.68,516.89 101.74,516.91 101.80,516.92 101.86,516.93 101.91,516.94 101.97,516.96 102.03,516.97 102.09,516.98 102.15,517.00 102.20,517.01 102.26,517.02 102.32,517.03 102.38,517.05 102.44,517.06 102.49,517.07 102.55,517.08 102.61,517.10 102.67,517.11 102.73,517.12 102.78,517.13 102.84,517.15 102.90,517.16 102.96,517.17 103.02,517.18 103.07,517.20 103.13,517.21 103.19,517.22 103.25,517.23 103.31,517.24 103.36,517.26 103.42,517.27 103.48,517.28 103.54,517.29 103.60,517.30 103.65,517.32 103.71,517.33 103.77,517.34 103.83,517.35 103.89,517.36 103.94,517.37 104.00,517.39 104.06,517.40 104.12,517.41 104.18,517.42 104.23,517.43 104.29,517.44 104.35,517.46 104.41,517.47 104.47,517.48 104.52,517.49 104.58,517.50 104.64,517.51 104.70,517.53 104.76,517.54 104.81,517.55 104.87,517.56 104.93,517.57 104.99,517.58 105.05,517.59 105.10,517.60 105.16,517.61 105.22,517.63 105.28,517.64 105.33,517.65 105.39,517.66 105.45,517.67 105.51,517.68 105.57,517.69 105.62,517.70 105.68,517.71 105.74,517.72 105.80,517.74 105.86,517.75 105.91,517.76 105.97,517.77 106.03,517.78 106.09,517.79 106.15,517.80 106.20,517.81 106.26,517.82 106.32,517.83 106.38,517.84 106.44,517.85 106.49,517.86 106.55,517.87 106.61,517.88 106.67,517.89 106.73,517.90 106.78,517.91 106.84,517.92 106.90,517.93 106.96,517.95 107.02,517.96 107.07,517.97 107.13,517.98 107.19,517.99 107.25,518.00 107.31,518.01 107.36,518.02 107.42,518.03 107.48,518.04 107.54,518.05 107.60,518.06 107.65,518.07 107.71,518.08 107.77,518.09 107.83,518.10 107.89,518.10 107.94,518.11 108.00,518.12 108.06,518.13 108.12,518.14 108.18,518.15 108.23,518.16 108.29,518.17 108.35,518.18 108.41,518.19 108.46,518.20 108.52,518.21 108.58,518.22 108.64,518.23 108.70,518.24 108.75,518.25 108.81,518.26 108.87,518.27 108.93,518.28 108.99,518.29 109.04,518.30 109.10,518.30 109.16,518.31 109.22,518.32 109.28,518.33 109.33,518.34 109.39,518.35 109.45,518.36 109.51,518.37 109.57,518.38 109.62,518.39 109.68,518.40 109.74,518.40 109.80,518.41 109.86,518.42 109.91,518.43 109.97,518.44 110.03,518.45 110.09,518.46 110.15,518.47 110.20,518.47 110.26,518.48 110.32,518.49 110.38,518.50 110.44,518.51 110.49,518.52 110.55,518.53 110.61,518.54 110.67,518.54 110.73,518.55 110.78,518.56 110.84,518.57 110.90,518.58 110.96,518.59 111.02,518.60 111.07,518.60 111.13,518.61 111.19,518.62 111.25,518.63 111.31,518.64 111.36,518.65 111.42,518.65 111.48,518.66 111.54,518.67 111.60,518.68 111.65,518.69 111.71,518.69 111.77,518.70 111.83,518.71 111.88,518.72 111.94,518.73 112.00,518.73 112.06,518.74 112.12,518.75 112.17,518.76 112.23,518.77 112.29,518.77 112.35,518.78 112.41,518.79 112.46,518.80 112.52,518.81 112.58,518.81 112.64,518.82 112.70,518.83 112.75,518.84 112.81,518.84 112.87,518.85 112.93,518.86 112.99,518.87 113.04,518.88 113.10,518.88 113.16,518.89 113.22,518.90 113.28,518.91 113.33,518.91 113.39,518.92 113.45,518.93 113.51,518.94 113.57,518.94 113.62,518.95 113.68,518.96 113.74,518.97 113.80,518.97 113.86,518.98 113.91,518.99 113.97,518.99 114.03,519.00 114.09,519.01 114.15,519.02 114.20,519.02 114.26,519.03 114.32,519.04 114.38,519.05 114.44,519.05 114.49,519.06 114.55,519.07 114.61,519.07 114.67,519.08 114.73,519.09 114.78,519.09 114.84,519.10 114.90,519.11 114.96,519.12 115.02,519.12 115.07,519.13 115.13,519.14 115.19,519.14 115.25,519.15 115.30,519.16 115.36,519.16 115.42,519.17 115.48,519.18 115.54,519.18 115.59,519.19 115.65,519.20 115.71,519.20 115.77,519.21 115.83,519.22 115.88,519.22 115.94,519.23 116.00,519.24 116.06,519.24 116.12,519.25 116.17,519.26 116.23,519.26 116.29,519.27 116.35,519.28 116.41,519.28 116.46,519.29 116.52,519.30 116.58,519.30 116.64,519.31 116.70,519.32 116.75,519.32 116.81,519.33 116.87,519.34 116.93,519.34 116.99,519.35 117.04,519.35 117.10,519.36 117.16,519.37 117.22,519.37 117.28,519.38 117.33,519.39 117.39,519.39 117.45,519.40 117.51,519.40 117.57,519.41 117.62,519.42 117.68,519.42 117.74,519.43 117.80,519.44 117.86,519.44 117.91,519.45 117.97,519.45 118.03,519.46 118.09,519.47 118.15,519.47 118.20,519.48 118.26,519.48 118.32,519.49 118.38,519.50 118.43,519.50 118.49,519.51 118.55,519.51 118.61,519.52 118.67,519.52 118.72,519.53 118.78,519.54 118.84,519.54 118.90,519.55 118.96,519.55 119.01,519.56 119.07,519.57 119.13,519.57 119.19,519.58 119.25,519.58 119.30,519.59 119.36,519.59 119.42,519.60 119.48,519.61 119.54,519.61 119.59,519.62 119.65,519.62 119.71,519.63 119.77,519.63 119.83,519.64 119.88,519.64 119.94,519.65 120.00,519.66 121.94,519.83 123.88,520.00 125.82,520.15 127.76,520.30 129.70,520.44 131.64,520.58 133.58,520.71 135.52,520.85 137.46,520.99 139.40,521.14 141.34,521.29 143.28,521.46 145.22,521.64 147.16,521.84 149.10,522.04 151.04,522.24 152.98,522.43 154.92,522.63 156.86,522.83 158.80,523.02 160.74,523.21 162.68,523.40 164.62,523.59 166.56,523.78 168.49,523.96 170.43,524.14 172.37,524.32 174.31,524.50 176.25,524.67 178.19,524.84 180.13,525.01 182.07,525.18 184.01,525.34 185.95,525.50 187.89,525.66 189.83,525.81 191.77,525.96 193.71,526.12 195.65,526.26 197.59,526.41 199.53,526.56 201.47,526.71 203.41,526.85 205.35,527.00 207.29,527.14 209.23,527.29 211.17,527.44 213.11,527.58 215.05,527.74 216.99,527.89 218.93,528.05 220.87,528.21 222.81,528.37 224.75,528.53 226.69,528.69 228.63,528.84 230.57,529.00 232.51,529.16 234.45,529.31 236.39,529.45 238.33,529.59 240.27,529.73 242.21,529.86 244.15,529.98 246.09,530.10 248.03,530.20 249.97,530.30 251.91,530.39 253.85,530.48 255.79,530.57 257.73,530.67 259.67,530.76 261.61,530.85 263.55,530.94 265.48,531.02 267.42,531.11 269.36,531.19 271.30,531.28 273.24,531.35 275.18,531.43 277.12,531.50 279.06,531.57 281.00,531.63 282.94,531.69 284.88,531.75 286.82,531.80 288.76,531.85 290.70,531.89 292.64,531.92 294.58,531.95 296.52,531.98 298.46,531.99 300.40,532.00 302.34,532.01 304.28,532.02 306.22,532.02 308.16,532.03 310.10,532.04 312.04,532.04 313.98,532.05 315.92,532.06 317.86,532.06 319.80,532.07 321.74,532.08 323.68,532.09 325.62,532.09 327.56,532.10 329.50,532.10 331.44,532.11 333.38,532.12 335.32,532.12 337.26,532.13 339.20,532.14 341.14,532.14 343.08,532.15 345.02,532.15 346.96,532.16 348.90,532.17 350.84,532.17 352.78,532.18 354.72,532.18 356.66,532.19 358.60,532.20 360.54,532.20 362.47,532.21 364.41,532.21 366.35,532.22 368.29,532.22 370.23,532.23 372.17,532.23 374.11,532.24 376.05,532.24 377.99,532.25 379.93,532.26 381.87,532.26 383.81,532.27 385.75,532.27 387.69,532.28 389.63,532.28 391.57,532.29 393.51,532.29 395.45,532.29 397.39,532.30 399.33,532.30 401.27,532.31 403.21,532.31 405.15,532.32 407.09,532.32 409.03,532.33 410.97,532.33 412.91,532.34 414.85,532.34 416.79,532.34 418.73,532.35 420.67,532.35 422.61,532.36 424.55,532.36 426.49,532.36 428.43,532.37 430.37,532.37 432.31,532.38 434.25,532.38 436.19,532.38 438.13,532.39 440.07,532.39 442.01,532.40 443.95,532.40 445.89,532.40 447.83,532.41 449.77,532.41 451.71,532.41 453.65,532.42 455.59,532.42 457.53,532.42 459.46,532.43 461.40,532.43 463.34,532.43 465.28,532.44 467.22,532.44 469.16,532.44 471.10,532.45 473.04,532.45 474.98,532.45 476.92,532.46 478.86,532.46 480.80,532.46 482.74,532.46 484.68,532.47 486.62,532.47 488.56,532.47 490.50,532.48 492.44,532.48 494.38,532.48 496.32,532.48 498.26,532.49 500.20,532.49 502.14,532.49 504.08,532.49 506.02,532.50 507.96,532.50 509.90,532.50 511.84,532.50 513.78,532.51 515.72,532.51 517.66,532.51 519.60,532.51 521.54,532.51 523.48,532.52 525.42,532.52 527.36,532.52 529.30,532.52 531.24,532.52 533.18,532.53 535.12,532.53 537.06,532.53 539.00,532.53 540.94,532.53 542.88,532.54 544.82,532.54 546.76,532.54 548.70,532.54 550.64,532.54 552.58,532.54 554.52,532.55 556.45,532.55 558.39,532.55 560.33,532.55 562.27,532.55 564.21,532.55 566.15,532.56 568.09,532.56 570.03,532.56 571.97,532.56 573.91,532.56 575.85,532.56 577.79,532.56 579.73,532.57 581.67,532.57 583.61,532.57 585.55,532.57 587.49,532.57 589.43,532.57 591.37,532.57 593.31,532.57 595.25,532.57 597.19,532.58 599.13,532.58 601.07,532.58 603.01,532.58 604.95,532.58 606.89,532.58 608.83,532.58 610.77,532.58 612.71,532.58 614.65,532.58 616.59,532.58 618.53,532.59 620.47,532.59 622.41,532.59 624.35,532.59 626.29,532.59 628.23,532.59 630.17,532.59 632.11,532.59 634.05,532.59 635.99,532.59 637.93,532.59 639.87,532.59 641.81,532.59 643.75,532.59 645.69,532.59 647.63,532.59 649.57,532.59 651.51,532.60 653.44,532.60 655.38,532.60 657.32,532.60 659.26,532.60 661.20,532.60 663.14,532.60 665.08,532.60 667.02,532.60 668.96,532.60 670.90,532.60 672.84,532.60 674.78,532.60 676.72,532.60 678.66,532.60 680.60,532.60 682.54,532.60 684.48,532.60 686.42,532.60 688.36,532.60 690.30,532.60 692.24,532.60 694.18,532.60 696.12,532.60 698.06,532.60 700.00,532.60" fill="none" stroke="#EA3030" stroke-width="3.2" stroke-linejoin="round" stroke-linecap="round" clip-path="url(#clipL)"/>
<polyline points="51.30,390.00 51.36,389.75 51.41,389.50 51.47,389.24 51.53,388.99 51.59,388.72 51.64,388.46 51.70,388.18 51.76,387.91 51.82,387.62 51.87,387.33 51.93,387.03 51.99,386.72 52.04,386.40 52.10,386.08 52.16,385.75 52.22,385.42 52.27,385.08 52.33,384.74 52.39,384.40 52.45,384.05 52.50,383.70 52.56,383.35 52.62,383.00 52.68,382.65 52.73,382.30 52.79,381.95 52.85,381.61 52.90,381.26 52.96,380.92 53.02,380.59 53.08,380.25 53.13,379.93 53.19,379.61 53.25,379.29 53.31,378.98 53.36,378.68 53.42,378.39 53.48,378.11 53.53,377.84 53.59,377.57 53.65,377.30 53.71,377.04 53.76,376.78 53.82,376.53 53.88,376.28 53.94,376.03 53.99,375.79 54.05,375.55 54.11,375.31 54.16,375.07 54.22,374.84 54.28,374.61 54.34,374.38 54.39,374.15 54.45,373.93 54.51,373.70 54.57,373.48 54.62,373.25 54.68,373.03 54.74,372.81 54.80,372.58 54.85,372.36 54.91,372.14 54.97,371.92 55.02,371.69 55.08,371.47 55.14,371.24 55.20,371.01 55.25,370.79 55.31,370.56 55.37,370.32 55.43,370.09 55.48,369.85 55.54,369.61 55.60,369.36 55.65,369.12 55.71,368.87 55.77,368.62 55.83,368.37 55.88,368.11 55.94,367.86 56.00,367.61 56.06,367.35 56.11,367.10 56.17,366.84 56.23,366.58 56.28,366.33 56.34,366.07 56.40,365.82 56.46,365.57 56.51,365.32 56.57,365.07 56.63,364.82 56.69,364.57 56.74,364.33 56.80,364.09 56.86,363.85 56.92,363.61 56.97,363.38 57.03,363.15 57.09,362.92 57.14,362.70 57.20,362.48 57.26,362.27 57.32,362.06 57.37,361.86 57.43,361.66 57.49,361.46 57.55,361.27 57.60,361.09 57.66,360.91 57.72,360.74 57.77,360.58 57.83,360.42 57.89,360.27 57.95,360.13 58.00,359.99 58.06,359.86 58.12,359.72 58.18,359.59 58.23,359.45 58.29,359.32 58.35,359.18 58.40,359.05 58.46,358.91 58.52,358.78 58.58,358.65 58.63,358.51 58.69,358.38 58.75,358.25 58.81,358.12 58.86,358.00 58.92,357.87 58.98,357.75 59.04,357.63 59.09,357.52 59.15,357.40 59.21,357.29 59.26,357.18 59.32,357.08 59.38,356.98 59.44,356.88 59.49,356.79 59.55,356.70 59.61,356.61 59.67,356.53 59.72,356.46 59.78,356.39 59.84,356.32 59.89,356.26 59.95,356.21 60.01,356.16 60.07,356.12 60.12,356.08 60.18,356.05 60.24,356.03 60.30,356.01 60.35,356.00 60.41,356.00 60.47,356.02 60.52,356.05 60.58,356.11 60.64,356.18 60.70,356.28 60.75,356.39 60.81,356.51 60.87,356.66 60.93,356.81 60.98,356.98 61.04,357.16 61.10,357.35 61.16,357.55 61.21,357.76 61.27,357.98 61.33,358.20 61.38,358.44 61.44,358.67 61.50,358.91 61.56,359.15 61.61,359.39 61.67,359.64 61.73,359.88 61.79,360.12 61.84,360.36 61.90,360.60 61.96,360.83 62.01,361.06 62.07,361.29 62.13,361.53 62.19,361.77 62.24,362.03 62.30,362.29 62.36,362.55 62.42,362.82 62.47,363.10 62.53,363.39 62.59,363.68 62.64,363.97 62.70,364.27 62.76,364.58 62.82,364.89 62.87,365.20 62.93,365.52 62.99,365.84 63.05,366.16 63.10,366.49 63.16,366.82 63.22,367.15 63.28,367.49 63.33,367.82 63.39,368.16 63.45,368.50 63.50,368.84 63.56,369.18 63.62,369.52 63.68,369.86 63.73,370.20 63.79,370.55 63.85,370.89 63.91,371.25 63.96,371.62 64.02,372.00 64.08,372.38 64.13,372.78 64.19,373.18 64.25,373.59 64.31,374.00 64.36,374.42 64.42,374.84 64.48,375.27 64.54,375.69 64.59,376.11 64.65,376.54 64.71,376.96 64.76,377.37 64.82,377.79 64.88,378.20 64.94,378.60 64.99,378.99 65.05,379.38 65.11,379.75 65.17,380.12 65.22,380.48 65.28,380.82 65.34,381.15 65.40,381.46 65.45,381.76 65.51,382.05 65.57,382.32 65.62,382.57 65.68,382.82 65.74,383.06 65.80,383.29 65.85,383.50 65.91,383.72 65.97,383.92 66.03,384.12 66.08,384.31 66.14,384.50 66.20,384.68 66.25,384.86 66.31,385.04 66.37,385.21 66.43,385.39 66.48,385.56 66.54,385.74 66.60,385.92 66.66,386.10 66.71,386.28 66.77,386.47 66.83,386.66 66.88,386.85 66.94,387.06 67.00,387.26 67.06,387.48 67.11,387.71 67.17,387.94 67.23,388.19 67.29,388.44 67.34,388.71 67.40,388.99 67.46,389.28 67.52,389.58 67.57,389.91 67.63,390.27 67.69,390.64 67.74,391.04 67.80,391.47 67.86,391.91 67.92,392.38 67.97,392.86 68.03,393.36 68.09,393.88 68.15,394.42 68.20,394.97 68.26,395.54 68.32,396.12 68.37,396.71 68.43,397.32 68.49,397.93 68.55,398.56 68.60,399.20 68.66,399.84 68.72,400.49 68.78,401.15 68.83,401.81 68.89,402.48 68.95,403.15 69.01,403.82 69.06,404.50 69.12,405.18 69.18,405.85 69.23,406.53 69.29,407.20 69.35,407.87 69.41,408.54 69.46,409.20 69.52,409.86 69.58,410.51 69.64,411.15 69.69,411.78 69.75,412.41 69.81,413.02 69.86,413.62 69.92,414.22 69.98,414.79 70.04,415.36 70.09,415.91 70.15,416.46 70.21,417.01 70.27,417.54 70.32,418.08 70.38,418.60 70.44,419.13 70.49,419.65 70.55,420.16 70.61,420.67 70.67,421.18 70.72,421.69 70.78,422.20 70.84,422.71 70.90,423.21 70.95,423.72 71.01,424.23 71.07,424.73 71.13,425.25 71.18,425.76 71.24,426.27 71.30,426.79 71.35,427.32 71.41,427.85 71.47,428.38 71.53,428.92 71.58,429.46 71.64,430.01 71.70,430.57 71.76,431.14 71.81,431.71 71.87,432.29 71.93,432.89 71.98,433.49 72.04,434.10 72.10,434.72 72.16,435.36 72.21,436.00 72.27,436.66 72.33,437.33 72.39,438.03 72.44,438.76 72.50,439.51 72.56,440.28 72.61,441.07 72.67,441.89 72.73,442.72 72.79,443.56 72.84,444.42 72.90,445.29 72.96,446.17 73.02,447.07 73.07,447.96 73.13,448.87 73.19,449.77 73.25,450.68 73.30,451.59 73.36,452.50 73.42,453.40 73.47,454.30 73.53,455.19 73.59,456.07 73.65,456.95 73.70,457.81 73.76,458.65 73.82,459.48 73.88,460.30 73.93,461.09 73.99,461.87 74.05,462.63 74.10,463.39 74.16,464.15 74.22,464.91 74.28,465.67 74.33,466.43 74.39,467.19 74.45,467.94 74.51,468.69 74.56,469.44 74.62,470.19 74.68,470.93 74.73,471.67 74.79,472.40 74.85,473.13 74.91,473.85 74.96,474.56 75.02,475.27 75.08,475.97 75.14,476.66 75.19,477.34 75.25,478.01 75.31,478.67 75.37,479.32 75.42,479.96 75.48,480.59 75.54,481.21 75.59,481.81 75.65,482.40 75.71,482.98 75.77,483.54 75.82,484.09 75.88,484.62 75.94,485.14 76.00,485.66 76.05,486.17 76.11,486.67 76.17,487.17 76.22,487.66 76.28,488.15 76.34,488.63 76.40,489.11 76.45,489.58 76.51,490.04 76.57,490.50 76.63,490.96 76.68,491.40 76.74,491.85 76.80,492.28 76.85,492.71 76.91,493.14 76.97,493.56 77.03,493.97 77.08,494.38 77.14,494.78 77.20,495.17 77.26,495.56 77.31,495.94 77.37,496.32 77.43,496.68 77.49,497.05 77.54,497.40 77.60,497.75 77.66,498.09 77.71,498.43 77.77,498.76 77.83,499.08 77.89,499.39 77.94,499.70 78.00,500.00 78.06,500.30 78.12,500.59 78.17,500.88 78.23,501.17 78.29,501.45 78.34,501.73 78.40,502.00 78.46,502.27 78.52,502.54 78.57,502.81 78.63,503.07 78.69,503.33 78.75,503.58 78.80,503.84 78.86,504.09 78.92,504.33 78.97,504.58 79.03,504.82 79.09,505.05 79.15,505.29 79.20,505.52 79.26,505.75 79.32,505.97 79.38,506.19 79.43,506.41 79.49,506.63 79.55,506.84 79.61,507.05 79.66,507.26 79.72,507.47 79.78,507.67 79.83,507.87 79.89,508.06 79.95,508.26 80.01,508.45 80.06,508.64 80.12,508.83 80.18,509.01 80.24,509.19 80.29,509.37 80.35,509.55 80.41,509.72 80.46,509.89 80.52,510.06 80.58,510.23 80.64,510.40 80.69,510.57 80.75,510.74 80.81,510.90 80.87,511.07 80.92,511.23 80.98,511.39 81.04,511.56 81.09,511.72 81.15,511.88 81.21,512.04 81.27,512.20 81.32,512.36 81.38,512.51 81.44,512.67 81.50,512.82 81.55,512.98 81.61,513.13 81.67,513.28 81.73,513.43 81.78,513.58 81.84,513.72 81.90,513.87 81.95,514.01 82.01,514.16 82.07,514.30 82.13,514.44 82.18,514.58 82.24,514.71 82.30,514.85 82.36,514.98 82.41,515.11 82.47,515.25 82.53,515.37 82.58,515.50 82.64,515.63 82.70,515.75 82.76,515.87 82.81,515.99 82.87,516.11 82.93,516.22 82.99,516.34 83.04,516.45 83.10,516.56 83.16,516.67 83.21,516.77 83.27,516.88 83.33,516.98 83.39,517.08 83.44,517.18 83.50,517.27 83.56,517.36 83.62,517.46 83.67,517.54 83.73,517.63 83.79,517.71 83.85,517.79 83.90,517.87 83.96,517.95 84.02,518.02 84.07,518.09 84.13,518.17 84.19,518.24 84.25,518.31 84.30,518.38 84.36,518.45 84.42,518.52 84.48,518.58 84.53,518.65 84.59,518.72 84.65,518.79 84.70,518.85 84.76,518.92 84.82,518.98 84.88,519.05 84.93,519.11 84.99,519.17 85.05,519.24 85.11,519.30 85.16,519.36 85.22,519.42 85.28,519.48 85.33,519.54 85.39,519.60 85.45,519.66 85.51,519.72 85.56,519.78 85.62,519.83 85.68,519.89 85.74,519.95 85.79,520.00 85.85,520.06 85.91,520.11 85.97,520.17 86.02,520.22 86.08,520.28 86.14,520.33 86.19,520.38 86.25,520.43 86.31,520.49 86.37,520.54 86.42,520.59 86.48,520.64 86.54,520.69 86.60,520.74 86.65,520.79 86.71,520.83 86.77,520.88 86.82,520.93 86.88,520.98 86.94,521.02 87.00,521.07 87.05,521.12 87.11,521.16 87.17,521.21 87.23,521.25 87.28,521.29 87.34,521.34 87.40,521.38 87.45,521.43 87.51,521.47 87.57,521.51 87.63,521.55 87.68,521.59 87.74,521.63 87.80,521.68 87.86,521.72 87.91,521.76 87.97,521.80 88.03,521.84 88.09,521.87 88.14,521.91 88.20,521.95 88.26,521.99 88.31,522.03 88.37,522.06 88.43,522.10 88.49,522.14 88.54,522.17 88.60,522.21 88.66,522.25 88.72,522.28 88.77,522.32 88.83,522.35 88.89,522.39 88.94,522.42 89.00,522.45 89.06,522.49 89.12,522.52 89.17,522.55 89.23,522.59 89.29,522.62 89.35,522.65 89.40,522.68 89.46,522.71 89.52,522.75 89.57,522.78 89.63,522.81 89.69,522.84 89.75,522.87 89.80,522.90 89.86,522.93 89.92,522.96 89.98,522.99 90.03,523.02 90.09,523.05 90.15,523.08 90.21,523.10 90.26,523.13 90.32,523.16 90.38,523.19 90.43,523.22 90.49,523.25 90.55,523.28 90.61,523.31 90.66,523.33 90.72,523.36 90.78,523.39 90.84,523.42 90.89,523.45 90.95,523.47 91.01,523.50 91.06,523.53 91.12,523.56 91.18,523.59 91.24,523.61 91.29,523.64 91.35,523.67 91.41,523.70 91.47,523.72 91.52,523.75 91.58,523.78 91.64,523.80 91.69,523.83 91.75,523.86 91.81,523.89 91.87,523.91 91.92,523.94 91.98,523.96 92.04,523.99 92.10,524.02 92.15,524.04 92.21,524.07 92.27,524.10 92.33,524.12 92.38,524.15 92.44,524.17 92.50,524.20 92.55,524.22 92.61,524.25 92.67,524.28 92.73,524.30 92.78,524.33 92.84,524.35 92.90,524.38 92.96,524.40 93.01,524.43 93.07,524.45 93.13,524.47 93.18,524.50 93.24,524.52 93.30,524.55 93.36,524.57 93.41,524.60 93.47,524.62 93.53,524.64 93.59,524.67 93.64,524.69 93.70,524.71 93.76,524.74 93.81,524.76 93.87,524.78 93.93,524.81 93.99,524.83 94.04,524.85 94.10,524.88 94.16,524.90 94.22,524.92 94.27,524.94 94.33,524.97 94.39,524.99 94.45,525.01 94.50,525.03 94.56,525.05 94.62,525.07 94.67,525.10 94.73,525.12 94.79,525.14 94.85,525.16 94.90,525.18 94.96,525.20 95.02,525.22 95.08,525.24 95.13,525.26 95.19,525.28 95.25,525.31 95.30,525.33 95.36,525.35 95.42,525.37 95.48,525.39 95.53,525.41 95.59,525.42 95.65,525.44 95.71,525.46 95.76,525.48 95.82,525.50 95.88,525.52 95.93,525.54 95.99,525.56 96.05,525.58 96.11,525.59 96.16,525.61 96.22,525.63 96.28,525.65 96.34,525.67 96.39,525.68 96.45,525.70 96.51,525.72 96.57,525.74 96.62,525.75 96.68,525.77 96.74,525.79 96.79,525.81 96.85,525.82 96.91,525.84 96.97,525.85 97.02,525.87 97.08,525.89 97.14,525.90 97.20,525.92 97.25,525.93 97.31,525.95 97.37,525.96 97.42,525.98 97.48,525.99 97.54,526.01 97.60,526.02 97.65,526.04 97.71,526.05 97.77,526.07 97.83,526.08 97.88,526.10 97.94,526.11 98.00,526.12 98.05,526.14 98.11,526.15 98.17,526.16 98.23,526.18 98.28,526.19 98.34,526.20 98.40,526.21 98.46,526.23 98.51,526.24 98.57,526.25 98.63,526.26 98.69,526.28 98.74,526.29 98.80,526.30 98.86,526.31 98.91,526.32 98.97,526.33 99.03,526.34 99.09,526.35 99.14,526.36 99.20,526.37 99.26,526.38 99.32,526.39 99.37,526.40 99.43,526.41 99.49,526.42 99.54,526.43 99.60,526.44 99.66,526.45 99.72,526.46 99.77,526.47 99.83,526.48 99.89,526.48 99.95,526.49 100.00,526.50 100.06,526.51 100.12,526.52 100.17,526.52 100.23,526.53 100.29,526.54 100.35,526.55 100.40,526.56 100.46,526.56 100.52,526.57 100.58,526.58 100.63,526.59 100.69,526.59 100.75,526.60 100.81,526.61 100.86,526.62 100.92,526.62 100.98,526.63 101.03,526.64 101.09,526.65 101.15,526.65 101.21,526.66 101.26,526.67 101.32,526.68 101.38,526.68 101.44,526.69 101.49,526.70 101.55,526.71 101.61,526.71 101.66,526.72 101.72,526.73 101.78,526.74 101.84,526.74 101.89,526.75 101.95,526.76 102.01,526.77 102.07,526.77 102.12,526.78 102.18,526.79 102.24,526.80 102.29,526.80 102.35,526.81 102.41,526.82 102.47,526.82 102.52,526.83 102.58,526.84 102.64,526.85 102.70,526.85 102.75,526.86 102.81,526.87 102.87,526.88 102.93,526.88 102.98,526.89 103.04,526.90 103.10,526.90 103.15,526.91 103.21,526.92 103.27,526.93 103.33,526.93 103.38,526.94 103.44,526.95 103.50,526.95 103.56,526.96 103.61,526.97 103.67,526.97 103.73,526.98 103.78,526.99 103.84,526.99 103.90,527.00 103.96,527.01 104.01,527.02 104.07,527.02 104.13,527.03 104.19,527.04 104.24,527.04 104.30,527.05 104.36,527.06 104.42,527.06 104.47,527.07 104.53,527.08 104.59,527.08 104.64,527.09 104.70,527.10 104.76,527.10 104.82,527.11 104.87,527.12 104.93,527.12 104.99,527.13 105.05,527.14 105.10,527.14 105.16,527.15 105.22,527.16 105.27,527.16 105.33,527.17 105.39,527.18 105.45,527.18 105.50,527.19 105.56,527.20 105.62,527.20 105.68,527.21 105.73,527.22 105.79,527.22 105.85,527.23 105.90,527.24 105.96,527.24 106.02,527.25 106.08,527.26 106.13,527.26 106.19,527.27 106.25,527.27 106.31,527.28 106.36,527.29 106.42,527.29 106.48,527.30 106.54,527.31 106.59,527.31 106.65,527.32 106.71,527.33 106.76,527.33 106.82,527.34 106.88,527.34 106.94,527.35 106.99,527.36 107.05,527.36 107.11,527.37 107.17,527.37 107.22,527.38 107.28,527.39 107.34,527.39 107.39,527.40 107.45,527.41 107.51,527.41 107.57,527.42 107.62,527.42 107.68,527.43 107.74,527.44 107.80,527.44 107.85,527.45 107.91,527.45 107.97,527.46 108.02,527.47 108.08,527.47 108.14,527.48 108.20,527.48 108.25,527.49 108.31,527.50 108.37,527.50 108.43,527.51 108.48,527.51 108.54,527.52 108.60,527.53 108.66,527.53 108.71,527.54 108.77,527.54 108.83,527.55 108.88,527.56 108.94,527.56 109.00,527.57 109.06,527.57 109.11,527.58 109.17,527.58 109.23,527.59 109.29,527.60 109.34,527.60 109.40,527.61 109.46,527.61 109.51,527.62 109.57,527.62 109.63,527.63 109.69,527.64 109.74,527.64 109.80,527.65 109.86,527.65 109.92,527.66 109.97,527.66 110.03,527.67 110.09,527.68 110.14,527.68 110.20,527.69 110.26,527.69 110.32,527.70 110.37,527.70 110.43,527.71 110.49,527.71 110.55,527.72 110.60,527.73 110.66,527.73 110.72,527.74 110.78,527.74 110.83,527.75 110.89,527.75 110.95,527.76 111.00,527.76 111.06,527.77 111.12,527.77 111.18,527.78 111.23,527.78 111.29,527.79 111.35,527.80 111.41,527.80 111.46,527.81 111.52,527.81 111.58,527.82 111.63,527.82 111.69,527.83 111.75,527.83 111.81,527.84 111.86,527.84 111.92,527.85 111.98,527.85 112.04,527.86 112.09,527.86 112.15,527.87 112.21,527.87 112.26,527.88 112.32,527.89 112.38,527.89 112.44,527.90 112.49,527.90 112.55,527.91 112.61,527.91 112.67,527.92 112.72,527.92 112.78,527.93 112.84,527.93 112.90,527.94 112.95,527.94 113.01,527.95 113.07,527.95 113.12,527.96 113.18,527.96 113.24,527.97 113.30,527.97 113.35,527.98 113.41,527.98 113.47,527.99 113.53,527.99 113.58,528.00 113.64,528.00 113.70,528.01 113.75,528.01 113.81,528.02 113.87,528.02 113.93,528.03 113.98,528.03 114.04,528.04 114.10,528.04 114.16,528.05 114.21,528.05 114.27,528.06 114.33,528.06 114.38,528.06 114.44,528.07 114.50,528.07 114.56,528.08 114.61,528.08 114.67,528.09 114.73,528.09 114.79,528.10 114.84,528.10 114.90,528.11 114.96,528.11 115.02,528.12 115.07,528.12 115.13,528.13 115.19,528.13 115.24,528.14 115.30,528.14 115.36,528.15 115.42,528.15 115.47,528.15 115.53,528.16 115.59,528.16 115.65,528.17 115.70,528.17 115.76,528.18 115.82,528.18 115.87,528.19 115.93,528.19 115.99,528.20 116.05,528.20 116.10,528.21 116.16,528.21 116.22,528.21 116.28,528.22 116.33,528.22 116.39,528.23 116.45,528.23 116.50,528.24 116.56,528.24 116.62,528.25 116.68,528.25 116.73,528.25 116.79,528.26 116.85,528.26 116.91,528.27 116.96,528.27 117.02,528.28 117.08,528.28 117.14,528.29 117.19,528.29 117.25,528.29 117.31,528.30 117.36,528.30 117.42,528.31 117.48,528.31 117.54,528.32 117.59,528.32 117.65,528.32 117.71,528.33 117.77,528.33 117.82,528.34 117.88,528.34 117.94,528.35 117.99,528.35 118.05,528.35 118.11,528.36 118.17,528.36 118.22,528.37 118.28,528.37 118.34,528.37 118.40,528.38 118.45,528.38 118.51,528.39 118.57,528.39 118.62,528.40 118.68,528.40 118.74,528.40 118.80,528.41 118.85,528.41 118.91,528.42 118.97,528.42 119.03,528.42 119.08,528.43 119.14,528.43 119.20,528.44 119.26,528.44 119.31,528.44 119.37,528.45 119.43,528.45 119.48,528.46 119.54,528.46 119.60,528.46 119.66,528.47 119.71,528.47 119.77,528.48 119.83,528.48 119.89,528.48 119.94,528.49 120.00,528.49 121.94,528.62 123.88,528.74 125.82,528.86 127.76,528.96 129.70,529.06 131.64,529.16 133.58,529.25 135.52,529.34 137.46,529.42 139.40,529.50 141.34,529.58 143.28,529.66 145.22,529.74 147.16,529.81 149.10,529.89 151.04,529.97 152.98,530.05 154.92,530.13 156.86,530.20 158.80,530.27 160.74,530.35 162.68,530.42 164.62,530.49 166.56,530.56 168.49,530.62 170.43,530.69 172.37,530.75 174.31,530.81 176.25,530.87 178.19,530.92 180.13,530.97 182.07,531.02 184.01,531.07 185.95,531.11 187.89,531.15 189.83,531.18 191.77,531.21 193.71,531.24 195.65,531.26 197.59,531.28 199.53,531.30 201.47,531.31 203.41,531.32 205.35,531.33 207.29,531.34 209.23,531.35 211.17,531.36 213.11,531.37 215.05,531.38 216.99,531.39 218.93,531.41 220.87,531.42 222.81,531.43 224.75,531.44 226.69,531.45 228.63,531.46 230.57,531.47 232.51,531.48 234.45,531.49 236.39,531.50 238.33,531.51 240.27,531.52 242.21,531.53 244.15,531.54 246.09,531.55 248.03,531.56 249.97,531.57 251.91,531.57 253.85,531.58 255.79,531.59 257.73,531.60 259.67,531.61 261.61,531.62 263.55,531.63 265.48,531.64 267.42,531.65 269.36,531.66 271.30,531.67 273.24,531.68 275.18,531.68 277.12,531.69 279.06,531.70 281.00,531.71 282.94,531.72 284.88,531.73 286.82,531.74 288.76,531.74 290.70,531.75 292.64,531.76 294.58,531.77 296.52,531.78 298.46,531.78 300.40,531.79 302.34,531.80 304.28,531.81 306.22,531.82 308.16,531.82 310.10,531.83 312.04,531.84 313.98,531.85 315.92,531.86 317.86,531.86 319.80,531.87 321.74,531.88 323.68,531.88 325.62,531.89 327.56,531.90 329.50,531.91 331.44,531.91 333.38,531.92 335.32,531.93 337.26,531.94 339.20,531.94 341.14,531.95 343.08,531.96 345.02,531.96 346.96,531.97 348.90,531.98 350.84,531.98 352.78,531.99 354.72,532.00 356.66,532.00 358.60,532.01 360.54,532.02 362.47,532.02 364.41,532.03 366.35,532.03 368.29,532.04 370.23,532.05 372.17,532.05 374.11,532.06 376.05,532.06 377.99,532.07 379.93,532.08 381.87,532.08 383.81,532.09 385.75,532.09 387.69,532.10 389.63,532.11 391.57,532.11 393.51,532.12 395.45,532.12 397.39,532.13 399.33,532.13 401.27,532.14 403.21,532.14 405.15,532.15 407.09,532.15 409.03,532.16 410.97,532.16 412.91,532.17 414.85,532.17 416.79,532.18 418.73,532.18 420.67,532.19 422.61,532.19 424.55,532.20 426.49,532.20 428.43,532.21 430.37,532.21 432.31,532.22 434.25,532.22 436.19,532.23 438.13,532.23 440.07,532.24 442.01,532.24 443.95,532.24 445.89,532.25 447.83,532.25 449.77,532.26 451.71,532.26 453.65,532.27 455.59,532.27 457.53,532.27 459.46,532.28 461.40,532.28 463.34,532.29 465.28,532.29 467.22,532.29 469.16,532.30 471.10,532.30 473.04,532.30 474.98,532.31 476.92,532.31 478.86,532.32 480.80,532.32 482.74,532.32 484.68,532.33 486.62,532.33 488.56,532.33 490.50,532.34 492.44,532.34 494.38,532.34 496.32,532.35 498.26,532.35 500.20,532.35 502.14,532.36 504.08,532.36 506.02,532.36 507.96,532.36 509.90,532.37 511.84,532.37 513.78,532.37 515.72,532.38 517.66,532.38 519.60,532.38 521.54,532.38 523.48,532.39 525.42,532.39 527.36,532.39 529.30,532.40 531.24,532.40 533.18,532.40 535.12,532.40 537.06,532.41 539.00,532.41 540.94,532.41 542.88,532.41 544.82,532.42 546.76,532.42 548.70,532.42 550.64,532.42 552.58,532.42 554.52,532.43 556.45,532.43 558.39,532.43 560.33,532.43 562.27,532.43 564.21,532.44 566.15,532.44 568.09,532.44 570.03,532.44 571.97,532.44 573.91,532.45 575.85,532.45 577.79,532.45 579.73,532.45 581.67,532.45 583.61,532.45 585.55,532.46 587.49,532.46 589.43,532.46 591.37,532.46 593.31,532.46 595.25,532.46 597.19,532.46 599.13,532.47 601.07,532.47 603.01,532.47 604.95,532.47 606.89,532.47 608.83,532.47 610.77,532.47 612.71,532.48 614.65,532.48 616.59,532.48 618.53,532.48 620.47,532.48 622.41,532.48 624.35,532.48 626.29,532.48 628.23,532.48 630.17,532.48 632.11,532.49 634.05,532.49 635.99,532.49 637.93,532.49 639.87,532.49 641.81,532.49 643.75,532.49 645.69,532.49 647.63,532.49 649.57,532.49 651.51,532.49 653.44,532.49 655.38,532.49 657.32,532.49 659.26,532.49 661.20,532.50 663.14,532.50 665.08,532.50 667.02,532.50 668.96,532.50 670.90,532.50 672.84,532.50 674.78,532.50 676.72,532.50 678.66,532.50 680.60,532.50 682.54,532.50 684.48,532.50 686.42,532.50 688.36,532.50 690.30,532.50 692.24,532.50 694.18,532.50 696.12,532.50 698.06,532.50 700.00,532.50" fill="none" stroke="#1A6FDF" stroke-width="3.2" stroke-linejoin="round" stroke-linecap="round" clip-path="url(#clipL)"/>
<polyline points="51.30,336.00 51.36,335.65 51.41,335.31 51.47,334.96 51.53,334.62 51.59,334.28 51.64,333.93 51.70,333.59 51.76,333.25 51.82,332.91 51.87,332.56 51.93,332.22 51.99,331.88 52.04,331.53 52.10,331.19 52.16,330.84 52.22,330.49 52.27,330.15 52.33,329.80 52.39,329.45 52.45,329.11 52.50,328.76 52.56,328.42 52.62,328.07 52.68,327.73 52.73,327.39 52.79,327.04 52.85,326.71 52.90,326.37 52.96,326.03 53.02,325.70 53.08,325.37 53.13,325.04 53.19,324.71 53.25,324.39 53.31,324.07 53.36,323.75 53.42,323.43 53.48,323.12 53.53,322.81 53.59,322.51 53.65,322.20 53.71,321.89 53.76,321.58 53.82,321.27 53.88,320.96 53.94,320.66 53.99,320.35 54.05,320.05 54.11,319.74 54.16,319.44 54.22,319.14 54.28,318.84 54.34,318.55 54.39,318.26 54.45,317.96 54.51,317.68 54.57,317.39 54.62,317.11 54.68,316.83 54.74,316.56 54.80,316.29 54.85,316.02 54.91,315.76 54.97,315.50 55.02,315.25 55.08,315.00 55.14,314.76 55.20,314.52 55.25,314.28 55.31,314.06 55.37,313.83 55.43,313.61 55.48,313.39 55.54,313.17 55.60,312.95 55.65,312.73 55.71,312.52 55.77,312.31 55.83,312.09 55.88,311.88 55.94,311.68 56.00,311.47 56.06,311.26 56.11,311.06 56.17,310.86 56.23,310.66 56.28,310.46 56.34,310.26 56.40,310.06 56.46,309.87 56.51,309.67 56.57,309.48 56.63,309.29 56.69,309.11 56.74,308.92 56.80,308.73 56.86,308.55 56.92,308.37 56.97,308.19 57.03,308.01 57.09,307.83 57.14,307.66 57.20,307.49 57.26,307.31 57.32,307.14 57.37,306.98 57.43,306.81 57.49,306.64 57.55,306.48 57.60,306.32 57.66,306.16 57.72,306.00 57.77,305.84 57.83,305.69 57.89,305.53 57.95,305.38 58.00,305.23 58.06,305.08 58.12,304.94 58.18,304.79 58.23,304.65 58.29,304.50 58.35,304.36 58.40,304.23 58.46,304.09 58.52,303.95 58.58,303.82 58.63,303.68 58.69,303.54 58.75,303.40 58.81,303.25 58.86,303.11 58.92,302.96 58.98,302.82 59.04,302.67 59.09,302.52 59.15,302.37 59.21,302.23 59.26,302.08 59.32,301.93 59.38,301.79 59.44,301.64 59.49,301.50 59.55,301.36 59.61,301.21 59.67,301.07 59.72,300.94 59.78,300.80 59.84,300.67 59.89,300.54 59.95,300.41 60.01,300.29 60.07,300.16 60.12,300.05 60.18,299.93 60.24,299.82 60.30,299.71 60.35,299.61 60.41,299.51 60.47,299.42 60.52,299.33 60.58,299.24 60.64,299.17 60.70,299.09 60.75,299.02 60.81,298.96 60.87,298.91 60.93,298.86 60.98,298.81 61.04,298.78 61.10,298.75 61.16,298.72 61.21,298.71 61.27,298.70 61.33,298.70 61.38,298.73 61.44,298.77 61.50,298.84 61.56,298.92 61.61,299.02 61.67,299.14 61.73,299.28 61.79,299.43 61.84,299.59 61.90,299.77 61.96,299.95 62.01,300.15 62.07,300.35 62.13,300.56 62.19,300.78 62.24,301.00 62.30,301.22 62.36,301.45 62.42,301.67 62.47,301.90 62.53,302.12 62.59,302.37 62.64,302.65 62.70,302.94 62.76,303.26 62.82,303.60 62.87,303.95 62.93,304.33 62.99,304.71 63.05,305.11 63.10,305.52 63.16,305.94 63.22,306.36 63.28,306.80 63.33,307.23 63.39,307.67 63.45,308.11 63.50,308.54 63.56,308.97 63.62,309.40 63.68,309.82 63.73,310.24 63.79,310.64 63.85,311.03 63.91,311.42 63.96,311.82 64.02,312.21 64.08,312.60 64.13,312.98 64.19,313.37 64.25,313.76 64.31,314.15 64.36,314.53 64.42,314.92 64.48,315.31 64.54,315.69 64.59,316.08 64.65,316.47 64.71,316.85 64.76,317.24 64.82,317.63 64.88,318.02 64.94,318.41 64.99,318.81 65.05,319.20 65.11,319.59 65.17,319.99 65.22,320.39 65.28,320.79 65.34,321.19 65.40,321.60 65.45,322.00 65.51,322.41 65.57,322.83 65.62,323.24 65.68,323.66 65.74,324.08 65.80,324.50 65.85,324.93 65.91,325.36 65.97,325.79 66.03,326.23 66.08,326.67 66.14,327.11 66.20,327.56 66.25,328.01 66.31,328.47 66.37,328.93 66.43,329.40 66.48,329.87 66.54,330.34 66.60,330.82 66.66,331.30 66.71,331.78 66.77,332.27 66.83,332.76 66.88,333.25 66.94,333.75 67.00,334.25 67.06,334.75 67.11,335.25 67.17,335.76 67.23,336.27 67.29,336.78 67.34,337.30 67.40,337.82 67.46,338.34 67.52,338.87 67.57,339.40 67.63,339.93 67.69,340.47 67.74,341.01 67.80,341.55 67.86,342.09 67.92,342.64 67.97,343.20 68.03,343.75 68.09,344.31 68.15,344.87 68.20,345.44 68.26,346.01 68.32,346.58 68.37,347.15 68.43,347.73 68.49,348.32 68.55,348.90 68.60,349.49 68.66,350.09 68.72,350.68 68.78,351.28 68.83,351.89 68.89,352.50 68.95,353.11 69.01,353.72 69.06,354.34 69.12,354.96 69.18,355.59 69.23,356.22 69.29,356.85 69.35,357.49 69.41,358.13 69.46,358.77 69.52,359.42 69.58,360.08 69.64,360.73 69.69,361.39 69.75,362.06 69.81,362.72 69.86,363.40 69.92,364.07 69.98,364.75 70.04,365.44 70.09,366.14 70.15,366.86 70.21,367.60 70.27,368.35 70.32,369.11 70.38,369.89 70.44,370.69 70.49,371.49 70.55,372.31 70.61,373.13 70.67,373.97 70.72,374.81 70.78,375.67 70.84,376.53 70.90,377.39 70.95,378.26 71.01,379.14 71.07,380.02 71.13,380.91 71.18,381.79 71.24,382.68 71.30,383.57 71.35,384.46 71.41,385.35 71.47,386.23 71.53,387.12 71.58,388.00 71.64,388.87 71.70,389.75 71.76,390.61 71.81,391.47 71.87,392.33 71.93,393.17 71.98,394.01 72.04,394.83 72.10,395.65 72.16,396.45 72.21,397.25 72.27,398.03 72.33,398.79 72.39,399.54 72.44,400.28 72.50,401.00 72.56,401.71 72.61,402.42 72.67,403.13 72.73,403.84 72.79,404.55 72.84,405.25 72.90,405.95 72.96,406.65 73.02,407.35 73.07,408.05 73.13,408.75 73.19,409.44 73.25,410.13 73.30,410.82 73.36,411.51 73.42,412.20 73.47,412.88 73.53,413.56 73.59,414.24 73.65,414.92 73.70,415.59 73.76,416.27 73.82,416.94 73.88,417.60 73.93,418.27 73.99,418.93 74.05,419.59 74.10,420.25 74.16,420.90 74.22,421.56 74.28,422.21 74.33,422.85 74.39,423.50 74.45,424.14 74.51,424.78 74.56,425.41 74.62,426.04 74.68,426.67 74.73,427.30 74.79,427.92 74.85,428.54 74.91,429.16 74.96,429.77 75.02,430.38 75.08,430.98 75.14,431.59 75.19,432.18 75.25,432.78 75.31,433.37 75.37,433.96 75.42,434.54 75.48,435.13 75.54,435.70 75.59,436.28 75.65,436.84 75.71,437.41 75.77,437.97 75.82,438.53 75.88,439.08 75.94,439.63 76.00,440.18 76.05,440.72 76.11,441.25 76.17,441.78 76.22,442.31 76.28,442.84 76.34,443.35 76.40,443.87 76.45,444.38 76.51,444.88 76.57,445.38 76.63,445.88 76.68,446.37 76.74,446.86 76.80,447.34 76.85,447.81 76.91,448.29 76.97,448.75 77.03,449.21 77.08,449.67 77.14,450.13 77.20,450.57 77.26,451.02 77.31,451.46 77.37,451.90 77.43,452.33 77.49,452.76 77.54,453.19 77.60,453.61 77.66,454.03 77.71,454.45 77.77,454.86 77.83,455.27 77.89,455.67 77.94,456.08 78.00,456.48 78.06,456.87 78.12,457.27 78.17,457.66 78.23,458.04 78.29,458.43 78.34,458.81 78.40,459.19 78.46,459.57 78.52,459.95 78.57,460.32 78.63,460.69 78.69,461.06 78.75,461.43 78.80,461.79 78.86,462.15 78.92,462.51 78.97,462.87 79.03,463.23 79.09,463.58 79.15,463.94 79.20,464.29 79.26,464.64 79.32,464.99 79.38,465.34 79.43,465.68 79.49,466.03 79.55,466.37 79.61,466.72 79.66,467.06 79.72,467.40 79.78,467.74 79.83,468.08 79.89,468.42 79.95,468.76 80.01,469.10 80.06,469.44 80.12,469.77 80.18,470.11 80.24,470.45 80.29,470.78 80.35,471.12 80.41,471.46 80.46,471.79 80.52,472.13 80.58,472.47 80.64,472.80 80.69,473.14 80.75,473.48 80.81,473.82 80.87,474.17 80.92,474.51 80.98,474.85 81.04,475.19 81.09,475.53 81.15,475.88 81.21,476.22 81.27,476.56 81.32,476.90 81.38,477.24 81.44,477.58 81.50,477.91 81.55,478.25 81.61,478.58 81.67,478.92 81.73,479.25 81.78,479.58 81.84,479.91 81.90,480.24 81.95,480.56 82.01,480.88 82.07,481.20 82.13,481.52 82.18,481.83 82.24,482.14 82.30,482.45 82.36,482.76 82.41,483.06 82.47,483.36 82.53,483.65 82.58,483.95 82.64,484.23 82.70,484.52 82.76,484.80 82.81,485.07 82.87,485.35 82.93,485.61 82.99,485.87 83.04,486.13 83.10,486.38 83.16,486.63 83.21,486.87 83.27,487.11 83.33,487.34 83.39,487.57 83.44,487.79 83.50,488.00 83.56,488.21 83.62,488.42 83.67,488.62 83.73,488.83 83.79,489.02 83.85,489.22 83.90,489.41 83.96,489.60 84.02,489.78 84.07,489.97 84.13,490.15 84.19,490.32 84.25,490.50 84.30,490.67 84.36,490.85 84.42,491.02 84.48,491.18 84.53,491.35 84.59,491.51 84.65,491.67 84.70,491.83 84.76,491.99 84.82,492.15 84.88,492.30 84.93,492.46 84.99,492.61 85.05,492.76 85.11,492.91 85.16,493.06 85.22,493.21 85.28,493.36 85.33,493.51 85.39,493.65 85.45,493.80 85.51,493.94 85.56,494.09 85.62,494.23 85.68,494.38 85.74,494.52 85.79,494.66 85.85,494.81 85.91,494.95 85.97,495.10 86.02,495.24 86.08,495.39 86.14,495.53 86.19,495.68 86.25,495.82 86.31,495.97 86.37,496.12 86.42,496.27 86.48,496.42 86.54,496.57 86.60,496.72 86.65,496.87 86.71,497.03 86.77,497.18 86.82,497.34 86.88,497.50 86.94,497.66 87.00,497.82 87.05,497.98 87.11,498.14 87.17,498.30 87.23,498.46 87.28,498.63 87.34,498.79 87.40,498.95 87.45,499.11 87.51,499.28 87.57,499.44 87.63,499.60 87.68,499.76 87.74,499.92 87.80,500.08 87.86,500.24 87.91,500.40 87.97,500.55 88.03,500.71 88.09,500.86 88.14,501.01 88.20,501.16 88.26,501.31 88.31,501.45 88.37,501.60 88.43,501.74 88.49,501.88 88.54,502.02 88.60,502.15 88.66,502.28 88.72,502.41 88.77,502.53 88.83,502.66 88.89,502.78 88.94,502.89 89.00,503.00 89.06,503.11 89.12,503.22 89.17,503.33 89.23,503.44 89.29,503.55 89.35,503.65 89.40,503.76 89.46,503.86 89.52,503.96 89.57,504.07 89.63,504.17 89.69,504.27 89.75,504.37 89.80,504.47 89.86,504.56 89.92,504.66 89.98,504.76 90.03,504.85 90.09,504.95 90.15,505.04 90.21,505.13 90.26,505.22 90.32,505.31 90.38,505.40 90.43,505.49 90.49,505.58 90.55,505.67 90.61,505.75 90.66,505.84 90.72,505.92 90.78,506.00 90.84,506.08 90.89,506.16 90.95,506.24 91.01,506.32 91.06,506.40 91.12,506.47 91.18,506.55 91.24,506.62 91.29,506.69 91.35,506.77 91.41,506.84 91.47,506.91 91.52,506.98 91.58,507.04 91.64,507.11 91.69,507.17 91.75,507.24 91.81,507.30 91.87,507.36 91.92,507.42 91.98,507.48 92.04,507.54 92.10,507.60 92.15,507.65 92.21,507.71 92.27,507.77 92.33,507.82 92.38,507.88 92.44,507.93 92.50,507.98 92.55,508.04 92.61,508.09 92.67,508.14 92.73,508.19 92.78,508.24 92.84,508.29 92.90,508.34 92.96,508.39 93.01,508.44 93.07,508.49 93.13,508.53 93.18,508.58 93.24,508.63 93.30,508.67 93.36,508.72 93.41,508.77 93.47,508.81 93.53,508.86 93.59,508.90 93.64,508.94 93.70,508.99 93.76,509.03 93.81,509.07 93.87,509.12 93.93,509.16 93.99,509.20 94.04,509.24 94.10,509.28 94.16,509.32 94.22,509.36 94.27,509.40 94.33,509.44 94.39,509.48 94.45,509.52 94.50,509.56 94.56,509.60 94.62,509.63 94.67,509.67 94.73,509.71 94.79,509.75 94.85,509.79 94.90,509.82 94.96,509.86 95.02,509.90 95.08,509.93 95.13,509.97 95.19,510.00 95.25,510.04 95.30,510.08 95.36,510.11 95.42,510.15 95.48,510.18 95.53,510.22 95.59,510.25 95.65,510.29 95.71,510.32 95.76,510.36 95.82,510.39 95.88,510.43 95.93,510.46 95.99,510.50 96.05,510.53 96.11,510.56 96.16,510.60 96.22,510.63 96.28,510.67 96.34,510.70 96.39,510.74 96.45,510.77 96.51,510.81 96.57,510.84 96.62,510.88 96.68,510.91 96.74,510.95 96.79,510.98 96.85,511.02 96.91,511.05 96.97,511.09 97.02,511.12 97.08,511.16 97.14,511.19 97.20,511.22 97.25,511.26 97.31,511.29 97.37,511.33 97.42,511.36 97.48,511.39 97.54,511.43 97.60,511.46 97.65,511.49 97.71,511.52 97.77,511.56 97.83,511.59 97.88,511.62 97.94,511.65 98.00,511.68 98.05,511.71 98.11,511.75 98.17,511.78 98.23,511.81 98.28,511.83 98.34,511.86 98.40,511.89 98.46,511.92 98.51,511.95 98.57,511.98 98.63,512.00 98.69,512.03 98.74,512.06 98.80,512.08 98.86,512.11 98.91,512.13 98.97,512.16 99.03,512.18 99.09,512.21 99.14,512.23 99.20,512.25 99.26,512.27 99.32,512.29 99.37,512.31 99.43,512.34 99.49,512.35 99.54,512.37 99.60,512.39 99.66,512.41 99.72,512.43 99.77,512.44 99.83,512.46 99.89,512.47 99.95,512.49 100.00,512.50 100.06,512.51 100.12,512.53 100.17,512.54 100.23,512.55 100.29,512.57 100.35,512.58 100.40,512.59 100.46,512.61 100.52,512.62 100.58,512.63 100.63,512.64 100.69,512.66 100.75,512.67 100.81,512.68 100.86,512.70 100.92,512.71 100.98,512.72 101.03,512.73 101.09,512.75 101.15,512.76 101.21,512.77 101.26,512.78 101.32,512.80 101.38,512.81 101.44,512.82 101.49,512.83 101.55,512.85 101.61,512.86 101.66,512.87 101.72,512.88 101.78,512.90 101.84,512.91 101.89,512.92 101.95,512.93 102.01,512.94 102.07,512.96 102.12,512.97 102.18,512.98 102.24,512.99 102.29,513.00 102.35,513.02 102.41,513.03 102.47,513.04 102.52,513.05 102.58,513.06 102.64,513.08 102.70,513.09 102.75,513.10 102.81,513.11 102.87,513.12 102.93,513.14 102.98,513.15 103.04,513.16 103.10,513.17 103.15,513.18 103.21,513.19 103.27,513.20 103.33,513.22 103.38,513.23 103.44,513.24 103.50,513.25 103.56,513.26 103.61,513.27 103.67,513.28 103.73,513.30 103.78,513.31 103.84,513.32 103.90,513.33 103.96,513.34 104.01,513.35 104.07,513.36 104.13,513.37 104.19,513.39 104.24,513.40 104.30,513.41 104.36,513.42 104.42,513.43 104.47,513.44 104.53,513.45 104.59,513.46 104.64,513.47 104.70,513.48 104.76,513.50 104.82,513.51 104.87,513.52 104.93,513.53 104.99,513.54 105.05,513.55 105.10,513.56 105.16,513.57 105.22,513.58 105.27,513.59 105.33,513.60 105.39,513.61 105.45,513.62 105.50,513.63 105.56,513.64 105.62,513.66 105.68,513.67 105.73,513.68 105.79,513.69 105.85,513.70 105.90,513.71 105.96,513.72 106.02,513.73 106.08,513.74 106.13,513.75 106.19,513.76 106.25,513.77 106.31,513.78 106.36,513.79 106.42,513.80 106.48,513.81 106.54,513.82 106.59,513.83 106.65,513.84 106.71,513.85 106.76,513.86 106.82,513.87 106.88,513.88 106.94,513.89 106.99,513.90 107.05,513.91 107.11,513.92 107.17,513.93 107.22,513.94 107.28,513.95 107.34,513.96 107.39,513.97 107.45,513.98 107.51,513.99 107.57,514.00 107.62,514.01 107.68,514.02 107.74,514.03 107.80,514.03 107.85,514.04 107.91,514.05 107.97,514.06 108.02,514.07 108.08,514.08 108.14,514.09 108.20,514.10 108.25,514.11 108.31,514.12 108.37,514.13 108.43,514.14 108.48,514.15 108.54,514.16 108.60,514.17 108.66,514.17 108.71,514.18 108.77,514.19 108.83,514.20 108.88,514.21 108.94,514.22 109.00,514.23 109.06,514.24 109.11,514.25 109.17,514.26 109.23,514.27 109.29,514.27 109.34,514.28 109.40,514.29 109.46,514.30 109.51,514.31 109.57,514.32 109.63,514.33 109.69,514.34 109.74,514.35 109.80,514.35 109.86,514.36 109.92,514.37 109.97,514.38 110.03,514.39 110.09,514.40 110.14,514.41 110.20,514.41 110.26,514.42 110.32,514.43 110.37,514.44 110.43,514.45 110.49,514.46 110.55,514.47 110.60,514.47 110.66,514.48 110.72,514.49 110.78,514.50 110.83,514.51 110.89,514.52 110.95,514.52 111.00,514.53 111.06,514.54 111.12,514.55 111.18,514.56 111.23,514.57 111.29,514.57 111.35,514.58 111.41,514.59 111.46,514.60 111.52,514.61 111.58,514.62 111.63,514.62 111.69,514.63 111.75,514.64 111.81,514.65 111.86,514.66 111.92,514.66 111.98,514.67 112.04,514.68 112.09,514.69 112.15,514.70 112.21,514.70 112.26,514.71 112.32,514.72 112.38,514.73 112.44,514.73 112.49,514.74 112.55,514.75 112.61,514.76 112.67,514.77 112.72,514.77 112.78,514.78 112.84,514.79 112.90,514.80 112.95,514.80 113.01,514.81 113.07,514.82 113.12,514.83 113.18,514.83 113.24,514.84 113.30,514.85 113.35,514.86 113.41,514.86 113.47,514.87 113.53,514.88 113.58,514.89 113.64,514.89 113.70,514.90 113.75,514.91 113.81,514.92 113.87,514.92 113.93,514.93 113.98,514.94 114.04,514.95 114.10,514.95 114.16,514.96 114.21,514.97 114.27,514.98 114.33,514.98 114.38,514.99 114.44,515.00 114.50,515.00 114.56,515.01 114.61,515.02 114.67,515.03 114.73,515.03 114.79,515.04 114.84,515.05 114.90,515.05 114.96,515.06 115.02,515.07 115.07,515.08 115.13,515.08 115.19,515.09 115.24,515.10 115.30,515.10 115.36,515.11 115.42,515.12 115.47,515.12 115.53,515.13 115.59,515.14 115.65,515.14 115.70,515.15 115.76,515.16 115.82,515.17 115.87,515.17 115.93,515.18 115.99,515.19 116.05,515.19 116.10,515.20 116.16,515.21 116.22,515.21 116.28,515.22 116.33,515.23 116.39,515.23 116.45,515.24 116.50,515.25 116.56,515.25 116.62,515.26 116.68,515.27 116.73,515.27 116.79,515.28 116.85,515.29 116.91,515.29 116.96,515.30 117.02,515.30 117.08,515.31 117.14,515.32 117.19,515.32 117.25,515.33 117.31,515.34 117.36,515.34 117.42,515.35 117.48,515.36 117.54,515.36 117.59,515.37 117.65,515.38 117.71,515.38 117.77,515.39 117.82,515.39 117.88,515.40 117.94,515.41 117.99,515.41 118.05,515.42 118.11,515.43 118.17,515.43 118.22,515.44 118.28,515.44 118.34,515.45 118.40,515.46 118.45,515.46 118.51,515.47 118.57,515.47 118.62,515.48 118.68,515.49 118.74,515.49 118.80,515.50 118.85,515.50 118.91,515.51 118.97,515.52 119.03,515.52 119.08,515.53 119.14,515.54 119.20,515.54 119.26,515.55 119.31,515.55 119.37,515.56 119.43,515.56 119.48,515.57 119.54,515.58 119.60,515.58 119.66,515.59 119.71,515.59 119.77,515.60 119.83,515.61 119.89,515.61 119.94,515.62 120.00,515.62 121.94,515.81 123.88,515.99 125.82,516.16 127.76,516.33 129.70,516.48 131.64,516.64 133.58,516.79 135.52,516.95 137.46,517.11 139.40,517.28 141.34,517.45 143.28,517.63 145.22,517.83 147.16,518.04 149.10,518.25 151.04,518.46 152.98,518.66 154.92,518.86 156.86,519.06 158.80,519.25 160.74,519.45 162.68,519.64 164.62,519.84 166.56,520.03 168.49,520.23 170.43,520.43 172.37,520.64 174.31,520.85 176.25,521.07 178.19,521.29 180.13,521.52 182.07,521.76 184.01,522.01 185.95,522.27 187.89,522.54 189.83,522.82 191.77,523.10 193.71,523.38 195.65,523.66 197.59,523.95 199.53,524.23 201.47,524.50 203.41,524.77 205.35,525.03 207.29,525.28 209.23,525.51 211.17,525.73 213.11,525.96 215.05,526.19 216.99,526.41 218.93,526.63 220.87,526.84 222.81,527.04 224.75,527.22 226.69,527.38 228.63,527.52 230.57,527.63 232.51,527.73 234.45,527.83 236.39,527.92 238.33,528.01 240.27,528.09 242.21,528.17 244.15,528.25 246.09,528.32 248.03,528.39 249.97,528.45 251.91,528.52 253.85,528.58 255.79,528.64 257.73,528.69 259.67,528.75 261.61,528.80 263.55,528.86 265.48,528.91 267.42,528.96 269.36,529.01 271.30,529.06 273.24,529.11 275.18,529.16 277.12,529.22 279.06,529.27 281.00,529.32 282.94,529.38 284.88,529.44 286.82,529.50 288.76,529.56 290.70,529.62 292.64,529.69 294.58,529.77 296.52,529.84 298.46,529.92 300.40,530.00 302.34,530.08 304.28,530.16 306.22,530.24 308.16,530.31 310.10,530.37 312.04,530.44 313.98,530.49 315.92,530.54 317.86,530.57 319.80,530.60 321.74,530.62 323.68,530.63 325.62,530.65 327.56,530.67 329.50,530.68 331.44,530.70 333.38,530.71 335.32,530.72 337.26,530.74 339.20,530.75 341.14,530.76 343.08,530.77 345.02,530.78 346.96,530.79 348.90,530.80 350.84,530.81 352.78,530.81 354.72,530.82 356.66,530.83 358.60,530.84 360.54,530.84 362.47,530.85 364.41,530.86 366.35,530.87 368.29,530.87 370.23,530.88 372.17,530.89 374.11,530.89 376.05,530.90 377.99,530.91 379.93,530.91 381.87,530.92 383.81,530.93 385.75,530.93 387.69,530.94 389.63,530.95 391.57,530.96 393.51,530.97 395.45,530.98 397.39,530.99 399.33,531.00 401.27,531.01 403.21,531.02 405.15,531.03 407.09,531.04 409.03,531.05 410.97,531.07 412.91,531.08 414.85,531.09 416.79,531.11 418.73,531.12 420.67,531.13 422.61,531.15 424.55,531.16 426.49,531.17 428.43,531.19 430.37,531.20 432.31,531.21 434.25,531.22 436.19,531.23 438.13,531.25 440.07,531.26 442.01,531.27 443.95,531.28 445.89,531.28 447.83,531.29 449.77,531.30 451.71,531.31 453.65,531.31 455.59,531.32 457.53,531.33 459.46,531.33 461.40,531.34 463.34,531.34 465.28,531.35 467.22,531.36 469.16,531.36 471.10,531.37 473.04,531.38 474.98,531.38 476.92,531.39 478.86,531.39 480.80,531.40 482.74,531.41 484.68,531.41 486.62,531.42 488.56,531.43 490.50,531.43 492.44,531.44 494.38,531.44 496.32,531.45 498.26,531.45 500.20,531.46 502.14,531.47 504.08,531.47 506.02,531.48 507.96,531.48 509.90,531.49 511.84,531.49 513.78,531.50 515.72,531.51 517.66,531.51 519.60,531.52 521.54,531.52 523.48,531.53 525.42,531.53 527.36,531.54 529.30,531.54 531.24,531.55 533.18,531.55 535.12,531.56 537.06,531.56 539.00,531.57 540.94,531.57 542.88,531.58 544.82,531.58 546.76,531.59 548.70,531.59 550.64,531.60 552.58,531.60 554.52,531.61 556.45,531.61 558.39,531.62 560.33,531.62 562.27,531.63 564.21,531.63 566.15,531.64 568.09,531.64 570.03,531.64 571.97,531.65 573.91,531.65 575.85,531.66 577.79,531.66 579.73,531.67 581.67,531.67 583.61,531.67 585.55,531.68 587.49,531.68 589.43,531.69 591.37,531.69 593.31,531.69 595.25,531.70 597.19,531.70 599.13,531.70 601.07,531.71 603.01,531.71 604.95,531.71 606.89,531.72 608.83,531.72 610.77,531.72 612.71,531.73 614.65,531.73 616.59,531.73 618.53,531.74 620.47,531.74 622.41,531.74 624.35,531.74 626.29,531.75 628.23,531.75 630.17,531.75 632.11,531.75 634.05,531.76 635.99,531.76 637.93,531.76 639.87,531.76 641.81,531.77 643.75,531.77 645.69,531.77 647.63,531.77 649.57,531.77 651.51,531.78 653.44,531.78 655.38,531.78 657.32,531.78 659.26,531.78 661.20,531.78 663.14,531.79 665.08,531.79 667.02,531.79 668.96,531.79 670.90,531.79 672.84,531.79 674.78,531.79 676.72,531.79 678.66,531.80 680.60,531.80 682.54,531.80 684.48,531.80 686.42,531.80 688.36,531.80 690.30,531.80 692.24,531.80 694.18,531.80 696.12,531.80 698.06,531.80 700.00,531.80" fill="none" stroke="#37AD6B" stroke-width="3.2" stroke-linejoin="round" stroke-linecap="round" clip-path="url(#clipL)"/>
<polyline points="51.30,256.00 51.36,255.10 51.41,254.15 51.47,253.13 51.53,252.03 51.59,250.88 51.64,249.71 51.70,248.52 51.76,247.35 51.82,246.20 51.87,245.11 51.93,244.09 51.99,243.17 52.04,242.36 52.10,241.68 52.16,241.08 52.22,240.49 52.27,239.92 52.33,239.36 52.39,238.82 52.45,238.29 52.50,237.78 52.56,237.28 52.62,236.79 52.68,236.31 52.73,235.85 52.79,235.40 52.85,234.96 52.90,234.53 52.96,234.11 53.02,233.70 53.08,233.30 53.13,232.91 53.19,232.53 53.25,232.15 53.31,231.79 53.36,231.43 53.42,231.08 53.48,230.73 53.53,230.40 53.59,230.07 53.65,229.74 53.71,229.42 53.76,229.11 53.82,228.80 53.88,228.49 53.94,228.19 53.99,227.89 54.05,227.59 54.11,227.30 54.16,227.01 54.22,226.72 54.28,226.43 54.34,226.15 54.39,225.86 54.45,225.57 54.51,225.29 54.57,225.00 54.62,224.71 54.68,224.43 54.74,224.13 54.80,223.84 54.85,223.55 54.91,223.25 54.97,222.95 55.02,222.65 55.08,222.36 55.14,222.06 55.20,221.77 55.25,221.48 55.31,221.19 55.37,220.90 55.43,220.62 55.48,220.33 55.54,220.05 55.60,219.77 55.65,219.49 55.71,219.22 55.77,218.94 55.83,218.67 55.88,218.40 55.94,218.14 56.00,217.87 56.06,217.61 56.11,217.35 56.17,217.09 56.23,216.84 56.28,216.59 56.34,216.34 56.40,216.09 56.46,215.85 56.51,215.61 56.57,215.37 56.63,215.14 56.69,214.91 56.74,214.68 56.80,214.45 56.86,214.23 56.92,214.01 56.97,213.80 57.03,213.59 57.09,213.38 57.14,213.18 57.20,212.98 57.26,212.78 57.32,212.59 57.37,212.40 57.43,212.22 57.49,212.04 57.55,211.86 57.60,211.68 57.66,211.49 57.72,211.31 57.77,211.12 57.83,210.93 57.89,210.74 57.95,210.55 58.00,210.36 58.06,210.17 58.12,209.98 58.18,209.79 58.23,209.61 58.29,209.42 58.35,209.24 58.40,209.06 58.46,208.88 58.52,208.70 58.58,208.53 58.63,208.36 58.69,208.19 58.75,208.03 58.81,207.88 58.86,207.73 58.92,207.58 58.98,207.44 59.04,207.31 59.09,207.18 59.15,207.06 59.21,206.95 59.26,206.85 59.32,206.75 59.38,206.66 59.44,206.58 59.49,206.51 59.55,206.45 59.61,206.40 59.67,206.36 59.72,206.33 59.78,206.31 59.84,206.30 59.89,206.31 59.95,206.34 60.01,206.38 60.07,206.45 60.12,206.54 60.18,206.64 60.24,206.76 60.30,206.89 60.35,207.03 60.41,207.18 60.47,207.34 60.52,207.51 60.58,207.69 60.64,207.87 60.70,208.05 60.75,208.23 60.81,208.42 60.87,208.60 60.93,208.78 60.98,208.95 61.04,209.12 61.10,209.30 61.16,209.47 61.21,209.66 61.27,209.84 61.33,210.03 61.38,210.23 61.44,210.42 61.50,210.63 61.56,210.83 61.61,211.05 61.67,211.27 61.73,211.49 61.79,211.72 61.84,211.95 61.90,212.19 61.96,212.43 62.01,212.69 62.07,212.94 62.13,213.21 62.19,213.48 62.24,213.75 62.30,214.04 62.36,214.32 62.42,214.62 62.47,214.92 62.53,215.24 62.59,215.55 62.64,215.88 62.70,216.21 62.76,216.56 62.82,216.93 62.87,217.31 62.93,217.72 62.99,218.14 63.05,218.57 63.10,219.03 63.16,219.50 63.22,219.98 63.28,220.48 63.33,220.99 63.39,221.52 63.45,222.06 63.50,222.62 63.56,223.18 63.62,223.76 63.68,224.35 63.73,224.95 63.79,225.56 63.85,226.18 63.91,226.81 63.96,227.44 64.02,228.09 64.08,228.74 64.13,229.40 64.19,230.07 64.25,230.74 64.31,231.41 64.36,232.10 64.42,232.78 64.48,233.48 64.54,234.17 64.59,234.87 64.65,235.57 64.71,236.27 64.76,236.97 64.82,237.68 64.88,238.40 64.94,239.15 64.99,239.93 65.05,240.72 65.11,241.54 65.17,242.37 65.22,243.22 65.28,244.08 65.34,244.96 65.40,245.85 65.45,246.74 65.51,247.65 65.57,248.56 65.62,249.48 65.68,250.40 65.74,251.32 65.80,252.24 65.85,253.16 65.91,254.08 65.97,254.99 66.03,255.90 66.08,256.80 66.14,257.68 66.20,258.56 66.25,259.42 66.31,260.27 66.37,261.11 66.43,261.95 66.48,262.77 66.54,263.59 66.60,264.40 66.66,265.21 66.71,266.03 66.77,266.84 66.83,267.66 66.88,268.48 66.94,269.31 67.00,270.15 67.06,270.99 67.11,271.85 67.17,272.73 67.23,273.62 67.29,274.53 67.34,275.46 67.40,276.41 67.46,277.38 67.52,278.38 67.57,279.40 67.63,280.45 67.69,281.54 67.74,282.66 67.80,283.81 67.86,284.99 67.92,286.20 67.97,287.44 68.03,288.71 68.09,290.01 68.15,291.33 68.20,292.67 68.26,294.04 68.32,295.43 68.37,296.84 68.43,298.28 68.49,299.73 68.55,301.22 68.60,302.78 68.66,304.41 68.72,306.09 68.78,307.82 68.83,309.59 68.89,311.39 68.95,313.21 69.01,315.04 69.06,316.88 69.12,318.70 69.18,320.51 69.23,322.30 69.29,324.05 69.35,325.76 69.41,327.42 69.46,329.02 69.52,330.55 69.58,332.04 69.64,333.51 69.69,334.96 69.75,336.39 69.81,337.80 69.86,339.19 69.92,340.56 69.98,341.92 70.04,343.26 70.09,344.59 70.15,345.91 70.21,347.22 70.27,348.52 70.32,349.81 70.38,351.10 70.44,352.38 70.49,353.66 70.55,354.93 70.61,356.21 70.67,357.49 70.72,358.77 70.78,360.05 70.84,361.34 70.90,362.63 70.95,363.93 71.01,365.24 71.07,366.56 71.13,367.90 71.18,369.26 71.24,370.62 71.30,371.99 71.35,373.38 71.41,374.76 71.47,376.15 71.53,377.54 71.58,378.93 71.64,380.31 71.70,381.69 71.76,383.06 71.81,384.42 71.87,385.77 71.93,387.10 71.98,388.42 72.04,389.72 72.10,391.00 72.16,392.26 72.21,393.49 72.27,394.70 72.33,395.87 72.39,397.02 72.44,398.13 72.50,399.21 72.56,400.25 72.61,401.25 72.67,402.23 72.73,403.19 72.79,404.14 72.84,405.06 72.90,405.97 72.96,406.87 73.02,407.75 73.07,408.62 73.13,409.47 73.19,410.31 73.25,411.13 73.30,411.94 73.36,412.75 73.42,413.54 73.47,414.32 73.53,415.08 73.59,415.84 73.65,416.59 73.70,417.33 73.76,418.07 73.82,418.79 73.88,419.51 73.93,420.22 73.99,420.93 74.05,421.63 74.10,422.32 74.16,423.02 74.22,423.70 74.28,424.39 74.33,425.07 74.39,425.75 74.45,426.42 74.51,427.10 74.56,427.77 74.62,428.45 74.68,429.12 74.73,429.80 74.79,430.47 74.85,431.15 74.91,431.83 74.96,432.52 75.02,433.20 75.08,433.90 75.14,434.59 75.19,435.29 75.25,436.00 75.31,436.71 75.37,437.43 75.42,438.16 75.48,438.89 75.54,439.64 75.59,440.39 75.65,441.15 75.71,441.92 75.77,442.70 75.82,443.49 75.88,444.29 75.94,445.11 76.00,445.93 76.05,446.78 76.11,447.63 76.17,448.50 76.22,449.38 76.28,450.30 76.34,451.26 76.40,452.25 76.45,453.28 76.51,454.34 76.57,455.42 76.63,456.53 76.68,457.66 76.74,458.81 76.80,459.98 76.85,461.16 76.91,462.36 76.97,463.56 77.03,464.77 77.08,465.98 77.14,467.20 77.20,468.41 77.26,469.63 77.31,470.83 77.37,472.03 77.43,473.21 77.49,474.38 77.54,475.54 77.60,476.67 77.66,477.79 77.71,478.88 77.77,479.94 77.83,480.97 77.89,481.97 77.94,482.94 78.00,483.87 78.06,484.76 78.12,485.61 78.17,486.41 78.23,487.16 78.29,487.87 78.34,488.52 78.40,489.11 78.46,489.65 78.52,490.13 78.57,490.59 78.63,491.04 78.69,491.47 78.75,491.90 78.80,492.32 78.86,492.73 78.92,493.13 78.97,493.52 79.03,493.90 79.09,494.28 79.15,494.64 79.20,495.00 79.26,495.35 79.32,495.69 79.38,496.02 79.43,496.35 79.49,496.67 79.55,496.98 79.61,497.28 79.66,497.58 79.72,497.87 79.78,498.15 79.83,498.43 79.89,498.70 79.95,498.97 80.01,499.23 80.06,499.49 80.12,499.73 80.18,499.98 80.24,500.22 80.29,500.45 80.35,500.68 80.41,500.90 80.46,501.12 80.52,501.34 80.58,501.55 80.64,501.76 80.69,501.96 80.75,502.16 80.81,502.36 80.87,502.56 80.92,502.75 80.98,502.94 81.04,503.12 81.09,503.30 81.15,503.49 81.21,503.66 81.27,503.84 81.32,504.02 81.38,504.19 81.44,504.36 81.50,504.53 81.55,504.69 81.61,504.86 81.67,505.02 81.73,505.18 81.78,505.33 81.84,505.49 81.90,505.64 81.95,505.80 82.01,505.95 82.07,506.09 82.13,506.24 82.18,506.39 82.24,506.53 82.30,506.67 82.36,506.81 82.41,506.95 82.47,507.08 82.53,507.22 82.58,507.35 82.64,507.48 82.70,507.61 82.76,507.74 82.81,507.86 82.87,507.99 82.93,508.11 82.99,508.23 83.04,508.35 83.10,508.47 83.16,508.59 83.21,508.70 83.27,508.82 83.33,508.93 83.39,509.04 83.44,509.16 83.50,509.26 83.56,509.37 83.62,509.48 83.67,509.59 83.73,509.69 83.79,509.79 83.85,509.90 83.90,510.00 83.96,510.10 84.02,510.20 84.07,510.30 84.13,510.39 84.19,510.49 84.25,510.59 84.30,510.68 84.36,510.78 84.42,510.87 84.48,510.96 84.53,511.05 84.59,511.14 84.65,511.23 84.70,511.32 84.76,511.41 84.82,511.50 84.88,511.59 84.93,511.68 84.99,511.77 85.05,511.86 85.11,511.95 85.16,512.03 85.22,512.12 85.28,512.21 85.33,512.29 85.39,512.38 85.45,512.47 85.51,512.55 85.56,512.64 85.62,512.72 85.68,512.80 85.74,512.89 85.79,512.97 85.85,513.05 85.91,513.13 85.97,513.22 86.02,513.30 86.08,513.38 86.14,513.46 86.19,513.54 86.25,513.62 86.31,513.70 86.37,513.77 86.42,513.85 86.48,513.93 86.54,514.01 86.60,514.08 86.65,514.16 86.71,514.23 86.77,514.31 86.82,514.38 86.88,514.46 86.94,514.53 87.00,514.60 87.05,514.67 87.11,514.74 87.17,514.82 87.23,514.89 87.28,514.96 87.34,515.02 87.40,515.09 87.45,515.16 87.51,515.23 87.57,515.30 87.63,515.36 87.68,515.43 87.74,515.49 87.80,515.56 87.86,515.62 87.91,515.68 87.97,515.74 88.03,515.81 88.09,515.87 88.14,515.93 88.20,515.99 88.26,516.05 88.31,516.11 88.37,516.16 88.43,516.22 88.49,516.28 88.54,516.33 88.60,516.39 88.66,516.44 88.72,516.50 88.77,516.55 88.83,516.60 88.89,516.65 88.94,516.70 89.00,516.75 89.06,516.80 89.12,516.85 89.17,516.90 89.23,516.94 89.29,516.99 89.35,517.04 89.40,517.08 89.46,517.13 89.52,517.17 89.57,517.21 89.63,517.25 89.69,517.29 89.75,517.33 89.80,517.37 89.86,517.41 89.92,517.45 89.98,517.48 90.03,517.52 90.09,517.56 90.15,517.59 90.21,517.63 90.26,517.66 90.32,517.70 90.38,517.73 90.43,517.77 90.49,517.80 90.55,517.84 90.61,517.87 90.66,517.91 90.72,517.94 90.78,517.97 90.84,518.01 90.89,518.04 90.95,518.07 91.01,518.11 91.06,518.14 91.12,518.17 91.18,518.21 91.24,518.24 91.29,518.27 91.35,518.30 91.41,518.33 91.47,518.37 91.52,518.40 91.58,518.43 91.64,518.46 91.69,518.49 91.75,518.52 91.81,518.55 91.87,518.59 91.92,518.62 91.98,518.65 92.04,518.68 92.10,518.71 92.15,518.74 92.21,518.77 92.27,518.80 92.33,518.83 92.38,518.86 92.44,518.88 92.50,518.91 92.55,518.94 92.61,518.97 92.67,519.00 92.73,519.03 92.78,519.06 92.84,519.08 92.90,519.11 92.96,519.14 93.01,519.17 93.07,519.20 93.13,519.22 93.18,519.25 93.24,519.28 93.30,519.30 93.36,519.33 93.41,519.36 93.47,519.38 93.53,519.41 93.59,519.44 93.64,519.46 93.70,519.49 93.76,519.51 93.81,519.54 93.87,519.57 93.93,519.59 93.99,519.62 94.04,519.64 94.10,519.67 94.16,519.69 94.22,519.72 94.27,519.74 94.33,519.76 94.39,519.79 94.45,519.81 94.50,519.84 94.56,519.86 94.62,519.88 94.67,519.91 94.73,519.93 94.79,519.95 94.85,519.98 94.90,520.00 94.96,520.02 95.02,520.04 95.08,520.07 95.13,520.09 95.19,520.11 95.25,520.13 95.30,520.15 95.36,520.18 95.42,520.20 95.48,520.22 95.53,520.24 95.59,520.26 95.65,520.28 95.71,520.30 95.76,520.32 95.82,520.35 95.88,520.37 95.93,520.39 95.99,520.41 96.05,520.43 96.11,520.45 96.16,520.47 96.22,520.49 96.28,520.51 96.34,520.53 96.39,520.54 96.45,520.56 96.51,520.58 96.57,520.60 96.62,520.62 96.68,520.64 96.74,520.66 96.79,520.68 96.85,520.69 96.91,520.71 96.97,520.73 97.02,520.75 97.08,520.77 97.14,520.78 97.20,520.80 97.25,520.82 97.31,520.83 97.37,520.85 97.42,520.87 97.48,520.89 97.54,520.90 97.60,520.92 97.65,520.93 97.71,520.95 97.77,520.97 97.83,520.98 97.88,521.00 97.94,521.02 98.00,521.03 98.05,521.05 98.11,521.06 98.17,521.08 98.23,521.09 98.28,521.11 98.34,521.12 98.40,521.14 98.46,521.15 98.51,521.17 98.57,521.18 98.63,521.19 98.69,521.21 98.74,521.22 98.80,521.24 98.86,521.25 98.91,521.26 98.97,521.28 99.03,521.29 99.09,521.30 99.14,521.32 99.20,521.33 99.26,521.34 99.32,521.36 99.37,521.37 99.43,521.38 99.49,521.39 99.54,521.41 99.60,521.42 99.66,521.43 99.72,521.44 99.77,521.45 99.83,521.47 99.89,521.48 99.95,521.49 100.00,521.50 100.06,521.51 100.12,521.52 100.17,521.53 100.23,521.55 100.29,521.56 100.35,521.57 100.40,521.58 100.46,521.59 100.52,521.60 100.58,521.61 100.63,521.62 100.69,521.64 100.75,521.65 100.81,521.66 100.86,521.67 100.92,521.68 100.98,521.69 101.03,521.70 101.09,521.71 101.15,521.72 101.21,521.73 101.26,521.75 101.32,521.76 101.38,521.77 101.44,521.78 101.49,521.79 101.55,521.80 101.61,521.81 101.66,521.82 101.72,521.83 101.78,521.84 101.84,521.85 101.89,521.87 101.95,521.88 102.01,521.89 102.07,521.90 102.12,521.91 102.18,521.92 102.24,521.93 102.29,521.94 102.35,521.95 102.41,521.96 102.47,521.97 102.52,521.98 102.58,521.99 102.64,522.00 102.70,522.01 102.75,522.02 102.81,522.03 102.87,522.05 102.93,522.06 102.98,522.07 103.04,522.08 103.10,522.09 103.15,522.10 103.21,522.11 103.27,522.12 103.33,522.13 103.38,522.14 103.44,522.15 103.50,522.16 103.56,522.17 103.61,522.18 103.67,522.19 103.73,522.20 103.78,522.21 103.84,522.22 103.90,522.23 103.96,522.24 104.01,522.25 104.07,522.26 104.13,522.27 104.19,522.28 104.24,522.29 104.30,522.30 104.36,522.31 104.42,522.32 104.47,522.33 104.53,522.34 104.59,522.35 104.64,522.36 104.70,522.37 104.76,522.38 104.82,522.39 104.87,522.40 104.93,522.41 104.99,522.42 105.05,522.43 105.10,522.44 105.16,522.45 105.22,522.46 105.27,522.47 105.33,522.48 105.39,522.49 105.45,522.50 105.50,522.51 105.56,522.52 105.62,522.53 105.68,522.54 105.73,522.55 105.79,522.55 105.85,522.56 105.90,522.57 105.96,522.58 106.02,522.59 106.08,522.60 106.13,522.61 106.19,522.62 106.25,522.63 106.31,522.64 106.36,522.65 106.42,522.66 106.48,522.67 106.54,522.68 106.59,522.69 106.65,522.70 106.71,522.71 106.76,522.72 106.82,522.72 106.88,522.73 106.94,522.74 106.99,522.75 107.05,522.76 107.11,522.77 107.17,522.78 107.22,522.79 107.28,522.80 107.34,522.81 107.39,522.82 107.45,522.83 107.51,522.83 107.57,522.84 107.62,522.85 107.68,522.86 107.74,522.87 107.80,522.88 107.85,522.89 107.91,522.90 107.97,522.91 108.02,522.92 108.08,522.92 108.14,522.93 108.20,522.94 108.25,522.95 108.31,522.96 108.37,522.97 108.43,522.98 108.48,522.99 108.54,523.00 108.60,523.00 108.66,523.01 108.71,523.02 108.77,523.03 108.83,523.04 108.88,523.05 108.94,523.06 109.00,523.07 109.06,523.07 109.11,523.08 109.17,523.09 109.23,523.10 109.29,523.11 109.34,523.12 109.40,523.13 109.46,523.13 109.51,523.14 109.57,523.15 109.63,523.16 109.69,523.17 109.74,523.18 109.80,523.19 109.86,523.19 109.92,523.20 109.97,523.21 110.03,523.22 110.09,523.23 110.14,523.24 110.20,523.25 110.26,523.25 110.32,523.26 110.37,523.27 110.43,523.28 110.49,523.29 110.55,523.30 110.60,523.30 110.66,523.31 110.72,523.32 110.78,523.33 110.83,523.34 110.89,523.34 110.95,523.35 111.00,523.36 111.06,523.37 111.12,523.38 111.18,523.39 111.23,523.39 111.29,523.40 111.35,523.41 111.41,523.42 111.46,523.43 111.52,523.43 111.58,523.44 111.63,523.45 111.69,523.46 111.75,523.47 111.81,523.47 111.86,523.48 111.92,523.49 111.98,523.50 112.04,523.51 112.09,523.51 112.15,523.52 112.21,523.53 112.26,523.54 112.32,523.55 112.38,523.55 112.44,523.56 112.49,523.57 112.55,523.58 112.61,523.58 112.67,523.59 112.72,523.60 112.78,523.61 112.84,523.62 112.90,523.62 112.95,523.63 113.01,523.64 113.07,523.65 113.12,523.65 113.18,523.66 113.24,523.67 113.30,523.68 113.35,523.68 113.41,523.69 113.47,523.70 113.53,523.71 113.58,523.72 113.64,523.72 113.70,523.73 113.75,523.74 113.81,523.75 113.87,523.75 113.93,523.76 113.98,523.77 114.04,523.78 114.10,523.78 114.16,523.79 114.21,523.80 114.27,523.81 114.33,523.81 114.38,523.82 114.44,523.83 114.50,523.83 114.56,523.84 114.61,523.85 114.67,523.86 114.73,523.86 114.79,523.87 114.84,523.88 114.90,523.89 114.96,523.89 115.02,523.90 115.07,523.91 115.13,523.91 115.19,523.92 115.24,523.93 115.30,523.94 115.36,523.94 115.42,523.95 115.47,523.96 115.53,523.97 115.59,523.97 115.65,523.98 115.70,523.99 115.76,523.99 115.82,524.00 115.87,524.01 115.93,524.01 115.99,524.02 116.05,524.03 116.10,524.04 116.16,524.04 116.22,524.05 116.28,524.06 116.33,524.06 116.39,524.07 116.45,524.08 116.50,524.08 116.56,524.09 116.62,524.10 116.68,524.11 116.73,524.11 116.79,524.12 116.85,524.13 116.91,524.13 116.96,524.14 117.02,524.15 117.08,524.15 117.14,524.16 117.19,524.17 117.25,524.17 117.31,524.18 117.36,524.19 117.42,524.19 117.48,524.20 117.54,524.21 117.59,524.21 117.65,524.22 117.71,524.23 117.77,524.23 117.82,524.24 117.88,524.25 117.94,524.25 117.99,524.26 118.05,524.27 118.11,524.27 118.17,524.28 118.22,524.29 118.28,524.29 118.34,524.30 118.40,524.31 118.45,524.31 118.51,524.32 118.57,524.33 118.62,524.33 118.68,524.34 118.74,524.35 118.80,524.35 118.85,524.36 118.91,524.37 118.97,524.37 119.03,524.38 119.08,524.39 119.14,524.39 119.20,524.40 119.26,524.40 119.31,524.41 119.37,524.42 119.43,524.42 119.48,524.43 119.54,524.44 119.60,524.44 119.66,524.45 119.71,524.46 119.77,524.46 119.83,524.47 119.89,524.47 119.94,524.48 120.00,524.49 121.94,524.69 123.88,524.89 125.82,525.07 127.76,525.25 129.70,525.42 131.64,525.58 133.58,525.73 135.52,525.88 137.46,526.03 139.40,526.17 141.34,526.31 143.28,526.45 145.22,526.59 147.16,526.73 149.10,526.86 151.04,526.99 152.98,527.11 154.92,527.23 156.86,527.35 158.80,527.46 160.74,527.56 162.68,527.67 164.62,527.77 166.56,527.86 168.49,527.96 170.43,528.05 172.37,528.15 174.31,528.24 176.25,528.33 178.19,528.42 180.13,528.51 182.07,528.60 184.01,528.68 185.95,528.77 187.89,528.85 189.83,528.93 191.77,529.01 193.71,529.09 195.65,529.17 197.59,529.25 199.53,529.32 201.47,529.40 203.41,529.47 205.35,529.55 207.29,529.62 209.23,529.69 211.17,529.77 213.11,529.84 215.05,529.92 216.99,529.99 218.93,530.07 220.87,530.14 222.81,530.21 224.75,530.29 226.69,530.36 228.63,530.44 230.57,530.51 232.51,530.58 234.45,530.66 236.39,530.73 238.33,530.80 240.27,530.87 242.21,530.94 244.15,531.01 246.09,531.07 248.03,531.14 249.97,531.20 251.91,531.26 253.85,531.32 255.79,531.38 257.73,531.44 259.67,531.49 261.61,531.54 263.55,531.60 265.48,531.66 267.42,531.71 269.36,531.77 271.30,531.83 273.24,531.88 275.18,531.94 277.12,531.99 279.06,532.04 281.00,532.09 282.94,532.14 284.88,532.19 286.82,532.23 288.76,532.27 290.70,532.30 292.64,532.33 294.58,532.36 296.52,532.38 298.46,532.39 300.40,532.40 302.34,532.41 304.28,532.42 306.22,532.42 308.16,532.43 310.10,532.44 312.04,532.44 313.98,532.45 315.92,532.46 317.86,532.46 319.80,532.47 321.74,532.48 323.68,532.48 325.62,532.49 327.56,532.50 329.50,532.50 331.44,532.51 333.38,532.52 335.32,532.52 337.26,532.53 339.20,532.53 341.14,532.54 343.08,532.55 345.02,532.55 346.96,532.56 348.90,532.56 350.84,532.57 352.78,532.58 354.72,532.58 356.66,532.59 358.60,532.59 360.54,532.60 362.47,532.60 364.41,532.61 366.35,532.61 368.29,532.62 370.23,532.63 372.17,532.63 374.11,532.64 376.05,532.64 377.99,532.65 379.93,532.65 381.87,532.66 383.81,532.66 385.75,532.67 387.69,532.67 389.63,532.68 391.57,532.68 393.51,532.69 395.45,532.69 397.39,532.70 399.33,532.70 401.27,532.70 403.21,532.71 405.15,532.71 407.09,532.72 409.03,532.72 410.97,532.73 412.91,532.73 414.85,532.74 416.79,532.74 418.73,532.74 420.67,532.75 422.61,532.75 424.55,532.76 426.49,532.76 428.43,532.76 430.37,532.77 432.31,532.77 434.25,532.78 436.19,532.78 438.13,532.78 440.07,532.79 442.01,532.79 443.95,532.80 445.89,532.80 447.83,532.80 449.77,532.81 451.71,532.81 453.65,532.81 455.59,532.82 457.53,532.82 459.46,532.82 461.40,532.83 463.34,532.83 465.28,532.83 467.22,532.84 469.16,532.84 471.10,532.84 473.04,532.85 474.98,532.85 476.92,532.85 478.86,532.85 480.80,532.86 482.74,532.86 484.68,532.86 486.62,532.87 488.56,532.87 490.50,532.87 492.44,532.87 494.38,532.88 496.32,532.88 498.26,532.88 500.20,532.88 502.14,532.89 504.08,532.89 506.02,532.89 507.96,532.89 509.90,532.90 511.84,532.90 513.78,532.90 515.72,532.90 517.66,532.91 519.60,532.91 521.54,532.91 523.48,532.91 525.42,532.92 527.36,532.92 529.30,532.92 531.24,532.92 533.18,532.92 535.12,532.93 537.06,532.93 539.00,532.93 540.94,532.93 542.88,532.93 544.82,532.94 546.76,532.94 548.70,532.94 550.64,532.94 552.58,532.94 554.52,532.94 556.45,532.95 558.39,532.95 560.33,532.95 562.27,532.95 564.21,532.95 566.15,532.95 568.09,532.95 570.03,532.96 571.97,532.96 573.91,532.96 575.85,532.96 577.79,532.96 579.73,532.96 581.67,532.96 583.61,532.97 585.55,532.97 587.49,532.97 589.43,532.97 591.37,532.97 593.31,532.97 595.25,532.97 597.19,532.97 599.13,532.98 601.07,532.98 603.01,532.98 604.95,532.98 606.89,532.98 608.83,532.98 610.77,532.98 612.71,532.98 614.65,532.98 616.59,532.98 618.53,532.98 620.47,532.99 622.41,532.99 624.35,532.99 626.29,532.99 628.23,532.99 630.17,532.99 632.11,532.99 634.05,532.99 635.99,532.99 637.93,532.99 639.87,532.99 641.81,532.99 643.75,532.99 645.69,532.99 647.63,532.99 649.57,532.99 651.51,532.99 653.44,533.00 655.38,533.00 657.32,533.00 659.26,533.00 661.20,533.00 663.14,533.00 665.08,533.00 667.02,533.00 668.96,533.00 670.90,533.00 672.84,533.00 674.78,533.00 676.72,533.00 678.66,533.00 680.60,533.00 682.54,533.00 684.48,533.00 686.42,533.00 688.36,533.00 690.30,533.00 692.24,533.00 694.18,533.00 696.12,533.00 698.06,533.00 700.00,533.00" fill="none" stroke="#B177DE" stroke-width="3.2" stroke-linejoin="round" stroke-linecap="round" clip-path="url(#clipL)"/>
<polyline points="51.30,265.00 51.36,264.61 51.41,264.19 51.47,263.75 51.53,263.28 51.59,262.80 51.64,262.31 51.70,261.82 51.76,261.32 51.82,260.82 51.87,260.34 51.93,259.87 51.99,259.41 52.04,258.98 52.10,258.59 52.16,258.20 52.22,257.83 52.27,257.45 52.33,257.08 52.39,256.71 52.45,256.35 52.50,255.99 52.56,255.64 52.62,255.29 52.68,254.95 52.73,254.60 52.79,254.27 52.85,253.93 52.90,253.60 52.96,253.28 53.02,252.96 53.08,252.64 53.13,252.33 53.19,252.02 53.25,251.72 53.31,251.42 53.36,251.12 53.42,250.83 53.48,250.55 53.53,250.26 53.59,249.98 53.65,249.71 53.71,249.44 53.76,249.18 53.82,248.92 53.88,248.66 53.94,248.41 53.99,248.16 54.05,247.92 54.11,247.68 54.16,247.44 54.22,247.21 54.28,246.98 54.34,246.76 54.39,246.54 54.45,246.32 54.51,246.10 54.57,245.89 54.62,245.68 54.68,245.47 54.74,245.27 54.80,245.06 54.85,244.86 54.91,244.66 54.97,244.47 55.02,244.28 55.08,244.08 55.14,243.90 55.20,243.71 55.25,243.53 55.31,243.34 55.37,243.16 55.43,242.99 55.48,242.81 55.54,242.64 55.60,242.47 55.65,242.30 55.71,242.13 55.77,241.96 55.83,241.80 55.88,241.64 55.94,241.48 56.00,241.32 56.06,241.16 56.11,241.01 56.17,240.85 56.23,240.70 56.28,240.55 56.34,240.40 56.40,240.25 56.46,240.11 56.51,239.96 56.57,239.82 56.63,239.67 56.69,239.51 56.74,239.35 56.80,239.20 56.86,239.03 56.92,238.87 56.97,238.71 57.03,238.55 57.09,238.39 57.14,238.22 57.20,238.06 57.26,237.91 57.32,237.75 57.37,237.60 57.43,237.45 57.49,237.31 57.55,237.17 57.60,237.03 57.66,236.90 57.72,236.78 57.77,236.67 57.83,236.56 57.89,236.46 57.95,236.37 58.00,236.28 58.06,236.21 58.12,236.15 58.18,236.10 58.23,236.05 58.29,236.02 58.35,236.01 58.40,236.00 58.46,236.01 58.52,236.04 58.58,236.08 58.63,236.14 58.69,236.21 58.75,236.29 58.81,236.39 58.86,236.49 58.92,236.61 58.98,236.73 59.04,236.87 59.09,237.01 59.15,237.16 59.21,237.31 59.26,237.47 59.32,237.63 59.38,237.79 59.44,237.96 59.49,238.13 59.55,238.29 59.61,238.46 59.67,238.63 59.72,238.79 59.78,238.95 59.84,239.10 59.89,239.26 59.95,239.42 60.01,239.58 60.07,239.74 60.12,239.91 60.18,240.08 60.24,240.25 60.30,240.43 60.35,240.61 60.41,240.80 60.47,240.99 60.52,241.18 60.58,241.39 60.64,241.59 60.70,241.81 60.75,242.03 60.81,242.25 60.87,242.49 60.93,242.73 60.98,242.98 61.04,243.23 61.10,243.50 61.16,243.77 61.21,244.05 61.27,244.34 61.33,244.65 61.38,244.97 61.44,245.33 61.50,245.71 61.56,246.11 61.61,246.54 61.67,246.99 61.73,247.46 61.79,247.95 61.84,248.46 61.90,248.99 61.96,249.53 62.01,250.10 62.07,250.67 62.13,251.26 62.19,251.87 62.24,252.48 62.30,253.11 62.36,253.74 62.42,254.38 62.47,255.03 62.53,255.69 62.59,256.35 62.64,257.02 62.70,257.69 62.76,258.36 62.82,259.04 62.87,259.71 62.93,260.38 62.99,261.05 63.05,261.72 63.10,262.38 63.16,263.04 63.22,263.69 63.28,264.33 63.33,264.97 63.39,265.59 63.45,266.21 63.50,266.82 63.56,267.43 63.62,268.03 63.68,268.63 63.73,269.24 63.79,269.83 63.85,270.43 63.91,271.03 63.96,271.63 64.02,272.23 64.08,272.83 64.13,273.44 64.19,274.04 64.25,274.65 64.31,275.27 64.36,275.88 64.42,276.51 64.48,277.14 64.54,277.77 64.59,278.42 64.65,279.07 64.71,279.73 64.76,280.39 64.82,281.07 64.88,281.76 64.94,282.46 64.99,283.16 65.05,283.88 65.11,284.62 65.17,285.36 65.22,286.12 65.28,286.90 65.34,287.69 65.40,288.49 65.45,289.31 65.51,290.15 65.57,291.01 65.62,291.91 65.68,292.84 65.74,293.80 65.80,294.80 65.85,295.82 65.91,296.86 65.97,297.93 66.03,299.02 66.08,300.14 66.14,301.27 66.20,302.42 66.25,303.59 66.31,304.78 66.37,305.97 66.43,307.18 66.48,308.40 66.54,309.63 66.60,310.86 66.66,312.10 66.71,313.35 66.77,314.59 66.83,315.84 66.88,317.09 66.94,318.33 67.00,319.57 67.06,320.81 67.11,322.04 67.17,323.26 67.23,324.46 67.29,325.66 67.34,326.85 67.40,328.01 67.46,329.17 67.52,330.30 67.57,331.43 67.63,332.55 67.69,333.67 67.74,334.79 67.80,335.91 67.86,337.03 67.92,338.14 67.97,339.25 68.03,340.36 68.09,341.47 68.15,342.58 68.20,343.69 68.26,344.80 68.32,345.90 68.37,347.01 68.43,348.12 68.49,349.22 68.55,350.33 68.60,351.44 68.66,352.55 68.72,353.65 68.78,354.76 68.83,355.88 68.89,356.99 68.95,358.10 69.01,359.22 69.06,360.34 69.12,361.46 69.18,362.58 69.23,363.70 69.29,364.83 69.35,365.97 69.41,367.12 69.46,368.28 69.52,369.45 69.58,370.64 69.64,371.83 69.69,373.03 69.75,374.23 69.81,375.44 69.86,376.66 69.92,377.87 69.98,379.09 70.04,380.30 70.09,381.51 70.15,382.72 70.21,383.93 70.27,385.13 70.32,386.32 70.38,387.50 70.44,388.67 70.49,389.83 70.55,390.97 70.61,392.10 70.67,393.22 70.72,394.32 70.78,395.40 70.84,396.46 70.90,397.49 70.95,398.51 71.01,399.50 71.07,400.47 71.13,401.41 71.18,402.33 71.24,403.25 71.30,404.15 71.35,405.04 71.41,405.91 71.47,406.78 71.53,407.63 71.58,408.48 71.64,409.31 71.70,410.14 71.76,410.95 71.81,411.76 71.87,412.56 71.93,413.35 71.98,414.13 72.04,414.90 72.10,415.67 72.16,416.43 72.21,417.18 72.27,417.93 72.33,418.67 72.39,419.41 72.44,420.14 72.50,420.87 72.56,421.59 72.61,422.31 72.67,423.03 72.73,423.74 72.79,424.45 72.84,425.16 72.90,425.86 72.96,426.56 73.02,427.27 73.07,427.97 73.13,428.67 73.19,429.37 73.25,430.07 73.30,430.77 73.36,431.47 73.42,432.17 73.47,432.88 73.53,433.58 73.59,434.29 73.65,435.00 73.70,435.72 73.76,436.43 73.82,437.16 73.88,437.88 73.93,438.61 73.99,439.35 74.05,440.09 74.10,440.83 74.16,441.58 74.22,442.34 74.28,443.11 74.33,443.88 74.39,444.66 74.45,445.44 74.51,446.24 74.56,447.04 74.62,447.85 74.68,448.67 74.73,449.51 74.79,450.36 74.85,451.24 74.91,452.13 74.96,453.04 75.02,453.97 75.08,454.91 75.14,455.86 75.19,456.83 75.25,457.80 75.31,458.79 75.37,459.78 75.42,460.78 75.48,461.78 75.54,462.79 75.59,463.80 75.65,464.80 75.71,465.81 75.77,466.81 75.82,467.81 75.88,468.80 75.94,469.79 76.00,470.77 76.05,471.74 76.11,472.69 76.17,473.64 76.22,474.57 76.28,475.48 76.34,476.38 76.40,477.25 76.45,478.11 76.51,478.95 76.57,479.76 76.63,480.55 76.68,481.31 76.74,482.05 76.80,482.75 76.85,483.43 76.91,484.08 76.97,484.69 77.03,485.27 77.08,485.84 77.14,486.40 77.20,486.95 77.26,487.49 77.31,488.03 77.37,488.55 77.43,489.07 77.49,489.58 77.54,490.08 77.60,490.57 77.66,491.06 77.71,491.53 77.77,492.00 77.83,492.46 77.89,492.91 77.94,493.35 78.00,493.79 78.06,494.21 78.12,494.63 78.17,495.04 78.23,495.44 78.29,495.83 78.34,496.22 78.40,496.59 78.46,496.96 78.52,497.31 78.57,497.66 78.63,498.01 78.69,498.34 78.75,498.66 78.80,498.98 78.86,499.29 78.92,499.58 78.97,499.88 79.03,500.16 79.09,500.44 79.15,500.71 79.20,500.98 79.26,501.25 79.32,501.51 79.38,501.77 79.43,502.02 79.49,502.27 79.55,502.52 79.61,502.76 79.66,503.00 79.72,503.24 79.78,503.47 79.83,503.70 79.89,503.93 79.95,504.15 80.01,504.37 80.06,504.58 80.12,504.80 80.18,505.00 80.24,505.21 80.29,505.41 80.35,505.61 80.41,505.81 80.46,506.00 80.52,506.19 80.58,506.38 80.64,506.56 80.69,506.74 80.75,506.92 80.81,507.09 80.87,507.27 80.92,507.44 80.98,507.60 81.04,507.77 81.09,507.93 81.15,508.09 81.21,508.24 81.27,508.40 81.32,508.55 81.38,508.70 81.44,508.85 81.50,508.99 81.55,509.13 81.61,509.27 81.67,509.41 81.73,509.55 81.78,509.68 81.84,509.82 81.90,509.95 81.95,510.08 82.01,510.21 82.07,510.34 82.13,510.47 82.18,510.60 82.24,510.72 82.30,510.84 82.36,510.97 82.41,511.09 82.47,511.21 82.53,511.32 82.58,511.44 82.64,511.56 82.70,511.67 82.76,511.79 82.81,511.90 82.87,512.01 82.93,512.12 82.99,512.23 83.04,512.34 83.10,512.44 83.16,512.55 83.21,512.66 83.27,512.76 83.33,512.86 83.39,512.97 83.44,513.07 83.50,513.17 83.56,513.27 83.62,513.37 83.67,513.46 83.73,513.56 83.79,513.66 83.85,513.75 83.90,513.85 83.96,513.94 84.02,514.04 84.07,514.13 84.13,514.22 84.19,514.31 84.25,514.40 84.30,514.49 84.36,514.58 84.42,514.67 84.48,514.76 84.53,514.85 84.59,514.94 84.65,515.03 84.70,515.11 84.76,515.20 84.82,515.29 84.88,515.37 84.93,515.46 84.99,515.54 85.05,515.63 85.11,515.71 85.16,515.80 85.22,515.88 85.28,515.97 85.33,516.05 85.39,516.13 85.45,516.22 85.51,516.30 85.56,516.38 85.62,516.47 85.68,516.55 85.74,516.63 85.79,516.71 85.85,516.79 85.91,516.88 85.97,516.96 86.02,517.04 86.08,517.12 86.14,517.20 86.19,517.28 86.25,517.36 86.31,517.43 86.37,517.51 86.42,517.59 86.48,517.67 86.54,517.74 86.60,517.82 86.65,517.90 86.71,517.97 86.77,518.05 86.82,518.12 86.88,518.20 86.94,518.27 87.00,518.34 87.05,518.42 87.11,518.49 87.17,518.56 87.23,518.63 87.28,518.70 87.34,518.77 87.40,518.84 87.45,518.91 87.51,518.98 87.57,519.04 87.63,519.11 87.68,519.18 87.74,519.24 87.80,519.31 87.86,519.37 87.91,519.44 87.97,519.50 88.03,519.56 88.09,519.62 88.14,519.68 88.20,519.74 88.26,519.80 88.31,519.86 88.37,519.92 88.43,519.98 88.49,520.03 88.54,520.09 88.60,520.14 88.66,520.20 88.72,520.25 88.77,520.30 88.83,520.35 88.89,520.40 88.94,520.45 89.00,520.50 89.06,520.55 89.12,520.60 89.17,520.64 89.23,520.69 89.29,520.74 89.35,520.78 89.40,520.83 89.46,520.88 89.52,520.92 89.57,520.97 89.63,521.01 89.69,521.05 89.75,521.10 89.80,521.14 89.86,521.18 89.92,521.23 89.98,521.27 90.03,521.31 90.09,521.35 90.15,521.39 90.21,521.44 90.26,521.48 90.32,521.52 90.38,521.56 90.43,521.60 90.49,521.64 90.55,521.67 90.61,521.71 90.66,521.75 90.72,521.79 90.78,521.83 90.84,521.87 90.89,521.90 90.95,521.94 91.01,521.98 91.06,522.01 91.12,522.05 91.18,522.09 91.24,522.12 91.29,522.16 91.35,522.19 91.41,522.23 91.47,522.26 91.52,522.30 91.58,522.33 91.64,522.36 91.69,522.40 91.75,522.43 91.81,522.46 91.87,522.50 91.92,522.53 91.98,522.56 92.04,522.59 92.10,522.63 92.15,522.66 92.21,522.69 92.27,522.72 92.33,522.75 92.38,522.78 92.44,522.81 92.50,522.84 92.55,522.87 92.61,522.90 92.67,522.93 92.73,522.96 92.78,522.99 92.84,523.02 92.90,523.05 92.96,523.08 93.01,523.11 93.07,523.14 93.13,523.17 93.18,523.19 93.24,523.22 93.30,523.25 93.36,523.28 93.41,523.31 93.47,523.33 93.53,523.36 93.59,523.39 93.64,523.42 93.70,523.44 93.76,523.47 93.81,523.50 93.87,523.52 93.93,523.55 93.99,523.58 94.04,523.60 94.10,523.63 94.16,523.66 94.22,523.68 94.27,523.71 94.33,523.74 94.39,523.76 94.45,523.79 94.50,523.81 94.56,523.84 94.62,523.86 94.67,523.89 94.73,523.91 94.79,523.94 94.85,523.96 94.90,523.99 94.96,524.01 95.02,524.04 95.08,524.06 95.13,524.09 95.19,524.11 95.25,524.14 95.30,524.16 95.36,524.18 95.42,524.21 95.48,524.23 95.53,524.26 95.59,524.28 95.65,524.30 95.71,524.33 95.76,524.35 95.82,524.37 95.88,524.40 95.93,524.42 95.99,524.44 96.05,524.46 96.11,524.49 96.16,524.51 96.22,524.53 96.28,524.55 96.34,524.58 96.39,524.60 96.45,524.62 96.51,524.64 96.57,524.67 96.62,524.69 96.68,524.71 96.74,524.73 96.79,524.75 96.85,524.77 96.91,524.79 96.97,524.82 97.02,524.84 97.08,524.86 97.14,524.88 97.20,524.90 97.25,524.92 97.31,524.94 97.37,524.96 97.42,524.98 97.48,525.00 97.54,525.02 97.60,525.04 97.65,525.06 97.71,525.08 97.77,525.10 97.83,525.12 97.88,525.14 97.94,525.16 98.00,525.18 98.05,525.20 98.11,525.22 98.17,525.24 98.23,525.26 98.28,525.28 98.34,525.29 98.40,525.31 98.46,525.33 98.51,525.35 98.57,525.37 98.63,525.39 98.69,525.41 98.74,525.42 98.80,525.44 98.86,525.46 98.91,525.48 98.97,525.50 99.03,525.51 99.09,525.53 99.14,525.55 99.20,525.57 99.26,525.58 99.32,525.60 99.37,525.62 99.43,525.64 99.49,525.65 99.54,525.67 99.60,525.69 99.66,525.70 99.72,525.72 99.77,525.74 99.83,525.75 99.89,525.77 99.95,525.78 100.00,525.80 100.06,525.82 100.12,525.83 100.17,525.85 100.23,525.87 100.29,525.88 100.35,525.90 100.40,525.91 100.46,525.93 100.52,525.95 100.58,525.96 100.63,525.98 100.69,525.99 100.75,526.01 100.81,526.03 100.86,526.04 100.92,526.06 100.98,526.07 101.03,526.09 101.09,526.11 101.15,526.12 101.21,526.14 101.26,526.15 101.32,526.17 101.38,526.18 101.44,526.20 101.49,526.22 101.55,526.23 101.61,526.25 101.66,526.26 101.72,526.28 101.78,526.29 101.84,526.31 101.89,526.32 101.95,526.34 102.01,526.35 102.07,526.37 102.12,526.38 102.18,526.40 102.24,526.41 102.29,526.43 102.35,526.44 102.41,526.46 102.47,526.47 102.52,526.49 102.58,526.50 102.64,526.52 102.70,526.53 102.75,526.55 102.81,526.56 102.87,526.57 102.93,526.59 102.98,526.60 103.04,526.62 103.10,526.63 103.15,526.64 103.21,526.66 103.27,526.67 103.33,526.69 103.38,526.70 103.44,526.71 103.50,526.73 103.56,526.74 103.61,526.75 103.67,526.77 103.73,526.78 103.78,526.79 103.84,526.81 103.90,526.82 103.96,526.83 104.01,526.84 104.07,526.86 104.13,526.87 104.19,526.88 104.24,526.89 104.30,526.90 104.36,526.92 104.42,526.93 104.47,526.94 104.53,526.95 104.59,526.96 104.64,526.97 104.70,526.99 104.76,527.00 104.82,527.01 104.87,527.02 104.93,527.03 104.99,527.04 105.05,527.05 105.10,527.06 105.16,527.07 105.22,527.08 105.27,527.09 105.33,527.10 105.39,527.11 105.45,527.12 105.50,527.13 105.56,527.14 105.62,527.15 105.68,527.16 105.73,527.17 105.79,527.18 105.85,527.19 105.90,527.20 105.96,527.20 106.02,527.21 106.08,527.22 106.13,527.23 106.19,527.24 106.25,527.24 106.31,527.25 106.36,527.26 106.42,527.27 106.48,527.27 106.54,527.28 106.59,527.29 106.65,527.29 106.71,527.30 106.76,527.31 106.82,527.31 106.88,527.32 106.94,527.33 106.99,527.33 107.05,527.34 107.11,527.35 107.17,527.35 107.22,527.36 107.28,527.36 107.34,527.37 107.39,527.38 107.45,527.38 107.51,527.39 107.57,527.40 107.62,527.40 107.68,527.41 107.74,527.41 107.80,527.42 107.85,527.43 107.91,527.43 107.97,527.44 108.02,527.45 108.08,527.45 108.14,527.46 108.20,527.46 108.25,527.47 108.31,527.48 108.37,527.48 108.43,527.49 108.48,527.49 108.54,527.50 108.60,527.51 108.66,527.51 108.71,527.52 108.77,527.52 108.83,527.53 108.88,527.54 108.94,527.54 109.00,527.55 109.06,527.55 109.11,527.56 109.17,527.57 109.23,527.57 109.29,527.58 109.34,527.58 109.40,527.59 109.46,527.60 109.51,527.60 109.57,527.61 109.63,527.61 109.69,527.62 109.74,527.63 109.80,527.63 109.86,527.64 109.92,527.64 109.97,527.65 110.03,527.65 110.09,527.66 110.14,527.67 110.20,527.67 110.26,527.68 110.32,527.68 110.37,527.69 110.43,527.69 110.49,527.70 110.55,527.71 110.60,527.71 110.66,527.72 110.72,527.72 110.78,527.73 110.83,527.73 110.89,527.74 110.95,527.74 111.00,527.75 111.06,527.76 111.12,527.76 111.18,527.77 111.23,527.77 111.29,527.78 111.35,527.78 111.41,527.79 111.46,527.79 111.52,527.80 111.58,527.80 111.63,527.81 111.69,527.82 111.75,527.82 111.81,527.83 111.86,527.83 111.92,527.84 111.98,527.84 112.04,527.85 112.09,527.85 112.15,527.86 112.21,527.86 112.26,527.87 112.32,527.87 112.38,527.88 112.44,527.89 112.49,527.89 112.55,527.90 112.61,527.90 112.67,527.91 112.72,527.91 112.78,527.92 112.84,527.92 112.90,527.93 112.95,527.93 113.01,527.94 113.07,527.94 113.12,527.95 113.18,527.95 113.24,527.96 113.30,527.96 113.35,527.97 113.41,527.97 113.47,527.98 113.53,527.98 113.58,527.99 113.64,527.99 113.70,528.00 113.75,528.00 113.81,528.01 113.87,528.01 113.93,528.02 113.98,528.02 114.04,528.03 114.10,528.03 114.16,528.04 114.21,528.04 114.27,528.05 114.33,528.05 114.38,528.06 114.44,528.06 114.50,528.07 114.56,528.07 114.61,528.08 114.67,528.08 114.73,528.09 114.79,528.09 114.84,528.10 114.90,528.10 114.96,528.11 115.02,528.11 115.07,528.12 115.13,528.12 115.19,528.13 115.24,528.13 115.30,528.14 115.36,528.14 115.42,528.14 115.47,528.15 115.53,528.15 115.59,528.16 115.65,528.16 115.70,528.17 115.76,528.17 115.82,528.18 115.87,528.18 115.93,528.19 115.99,528.19 116.05,528.20 116.10,528.20 116.16,528.21 116.22,528.21 116.28,528.21 116.33,528.22 116.39,528.22 116.45,528.23 116.50,528.23 116.56,528.24 116.62,528.24 116.68,528.25 116.73,528.25 116.79,528.26 116.85,528.26 116.91,528.26 116.96,528.27 117.02,528.27 117.08,528.28 117.14,528.28 117.19,528.29 117.25,528.29 117.31,528.30 117.36,528.30 117.42,528.30 117.48,528.31 117.54,528.31 117.59,528.32 117.65,528.32 117.71,528.33 117.77,528.33 117.82,528.34 117.88,528.34 117.94,528.34 117.99,528.35 118.05,528.35 118.11,528.36 118.17,528.36 118.22,528.37 118.28,528.37 118.34,528.37 118.40,528.38 118.45,528.38 118.51,528.39 118.57,528.39 118.62,528.39 118.68,528.40 118.74,528.40 118.80,528.41 118.85,528.41 118.91,528.42 118.97,528.42 119.03,528.42 119.08,528.43 119.14,528.43 119.20,528.44 119.26,528.44 119.31,528.44 119.37,528.45 119.43,528.45 119.48,528.46 119.54,528.46 119.60,528.47 119.66,528.47 119.71,528.47 119.77,528.48 119.83,528.48 119.89,528.49 119.94,528.49 120.00,528.49 121.94,528.62 123.88,528.75 125.82,528.86 127.76,528.97 129.70,529.07 131.64,529.16 133.58,529.25 135.52,529.34 137.46,529.42 139.40,529.50 141.34,529.58 143.28,529.66 145.22,529.74 147.16,529.81 149.10,529.89 151.04,529.96 152.98,530.03 154.92,530.09 156.86,530.15 158.80,530.21 160.74,530.26 162.68,530.32 164.62,530.37 166.56,530.42 168.49,530.47 170.43,530.52 172.37,530.58 174.31,530.63 176.25,530.69 178.19,530.74 180.13,530.80 182.07,530.87 184.01,530.94 185.95,531.02 187.89,531.10 189.83,531.19 191.77,531.27 193.71,531.35 195.65,531.43 197.59,531.51 199.53,531.58 201.47,531.64 203.41,531.70 205.35,531.74 207.29,531.78 209.23,531.80 211.17,531.80 213.11,531.81 215.05,531.82 216.99,531.82 218.93,531.83 220.87,531.83 222.81,531.84 224.75,531.84 226.69,531.85 228.63,531.85 230.57,531.86 232.51,531.86 234.45,531.87 236.39,531.87 238.33,531.88 240.27,531.88 242.21,531.88 244.15,531.89 246.09,531.89 248.03,531.89 249.97,531.90 251.91,531.90 253.85,531.90 255.79,531.91 257.73,531.91 259.67,531.91 261.61,531.92 263.55,531.92 265.48,531.92 267.42,531.92 269.36,531.93 271.30,531.93 273.24,531.93 275.18,531.93 277.12,531.94 279.06,531.94 281.00,531.94 282.94,531.94 284.88,531.94 286.82,531.95 288.76,531.95 290.70,531.95 292.64,531.95 294.58,531.95 296.52,531.95 298.46,531.96 300.40,531.96 302.34,531.96 304.28,531.96 306.22,531.96 308.16,531.96 310.10,531.96 312.04,531.97 313.98,531.97 315.92,531.97 317.86,531.97 319.80,531.97 321.74,531.97 323.68,531.97 325.62,531.98 327.56,531.98 329.50,531.98 331.44,531.98 333.38,531.98 335.32,531.98 337.26,531.98 339.20,531.98 341.14,531.99 343.08,531.99 345.02,531.99 346.96,531.99 348.90,531.99 350.84,531.99 352.78,531.99 354.72,532.00 356.66,532.00 358.60,532.00 360.54,532.00 362.47,532.00 364.41,532.00 366.35,532.01 368.29,532.01 370.23,532.01 372.17,532.01 374.11,532.01 376.05,532.01 377.99,532.02 379.93,532.02 381.87,532.02 383.81,532.02 385.75,532.02 387.69,532.02 389.63,532.03 391.57,532.03 393.51,532.03 395.45,532.03 397.39,532.03 399.33,532.03 401.27,532.04 403.21,532.04 405.15,532.04 407.09,532.04 409.03,532.04 410.97,532.04 412.91,532.04 414.85,532.05 416.79,532.05 418.73,532.05 420.67,532.05 422.61,532.05 424.55,532.05 426.49,532.06 428.43,532.06 430.37,532.06 432.31,532.06 434.25,532.06 436.19,532.06 438.13,532.07 440.07,532.07 442.01,532.07 443.95,532.07 445.89,532.07 447.83,532.07 449.77,532.08 451.71,532.08 453.65,532.08 455.59,532.08 457.53,532.08 459.46,532.08 461.40,532.08 463.34,532.09 465.28,532.09 467.22,532.09 469.16,532.09 471.10,532.09 473.04,532.09 474.98,532.09 476.92,532.10 478.86,532.10 480.80,532.10 482.74,532.10 484.68,532.10 486.62,532.10 488.56,532.10 490.50,532.11 492.44,532.11 494.38,532.11 496.32,532.11 498.26,532.11 500.20,532.11 502.14,532.11 504.08,532.12 506.02,532.12 507.96,532.12 509.90,532.12 511.84,532.12 513.78,532.12 515.72,532.12 517.66,532.13 519.60,532.13 521.54,532.13 523.48,532.13 525.42,532.13 527.36,532.13 529.30,532.13 531.24,532.13 533.18,532.14 535.12,532.14 537.06,532.14 539.00,532.14 540.94,532.14 542.88,532.14 544.82,532.14 546.76,532.14 548.70,532.15 550.64,532.15 552.58,532.15 554.52,532.15 556.45,532.15 558.39,532.15 560.33,532.15 562.27,532.15 564.21,532.15 566.15,532.16 568.09,532.16 570.03,532.16 571.97,532.16 573.91,532.16 575.85,532.16 577.79,532.16 579.73,532.16 581.67,532.16 583.61,532.16 585.55,532.17 587.49,532.17 589.43,532.17 591.37,532.17 593.31,532.17 595.25,532.17 597.19,532.17 599.13,532.17 601.07,532.17 603.01,532.17 604.95,532.17 606.89,532.18 608.83,532.18 610.77,532.18 612.71,532.18 614.65,532.18 616.59,532.18 618.53,532.18 620.47,532.18 622.41,532.18 624.35,532.18 626.29,532.18 628.23,532.18 630.17,532.18 632.11,532.19 634.05,532.19 635.99,532.19 637.93,532.19 639.87,532.19 641.81,532.19 643.75,532.19 645.69,532.19 647.63,532.19 649.57,532.19 651.51,532.19 653.44,532.19 655.38,532.19 657.32,532.19 659.26,532.19 661.20,532.19 663.14,532.19 665.08,532.19 667.02,532.20 668.96,532.20 670.90,532.20 672.84,532.20 674.78,532.20 676.72,532.20 678.66,532.20 680.60,532.20 682.54,532.20 684.48,532.20 686.42,532.20 688.36,532.20 690.30,532.20 692.24,532.20 694.18,532.20 696.12,532.20 698.06,532.20 700.00,532.20" fill="none" stroke="#CC9900" stroke-width="3.2" stroke-linejoin="round" stroke-linecap="round" clip-path="url(#clipL)"/>
<rect x="51" y="3.5" width="652.6" height="544.0" fill="none" stroke="#000" stroke-width="4"/>
<line x1="51.0" y1="547.5" x2="51.0" y2="562" stroke="#000" stroke-width="4"/>
<text x="51.0" y="604.0" font-size="38" text-anchor="middle" fill="#000" font-weight="bold" letter-spacing="0.6">200</text>
<line x1="116.1" y1="547.5" x2="116.1" y2="555" stroke="#000" stroke-width="4"/>
<line x1="181.2" y1="547.5" x2="181.2" y2="562" stroke="#000" stroke-width="4"/>
<text x="181.2" y="604.0" font-size="38" text-anchor="middle" fill="#000" font-weight="bold" letter-spacing="0.6">300</text>
<line x1="246.4" y1="547.5" x2="246.4" y2="555" stroke="#000" stroke-width="4"/>
<line x1="311.5" y1="547.5" x2="311.5" y2="562" stroke="#000" stroke-width="4"/>
<text x="311.5" y="604.0" font-size="38" text-anchor="middle" fill="#000" font-weight="bold" letter-spacing="0.6">400</text>
<line x1="376.6" y1="547.5" x2="376.6" y2="555" stroke="#000" stroke-width="4"/>
<line x1="441.8" y1="547.5" x2="441.8" y2="562" stroke="#000" stroke-width="4"/>
<text x="441.8" y="604.0" font-size="38" text-anchor="middle" fill="#000" font-weight="bold" letter-spacing="0.6">500</text>
<line x1="506.9" y1="547.5" x2="506.9" y2="555" stroke="#000" stroke-width="4"/>
<line x1="572.0" y1="547.5" x2="572.0" y2="562" stroke="#000" stroke-width="4"/>
<text x="572.0" y="604.0" font-size="38" text-anchor="middle" fill="#000" font-weight="bold" letter-spacing="0.6">600</text>
<line x1="637.1" y1="547.5" x2="637.1" y2="555" stroke="#000" stroke-width="4"/>
<line x1="702.2" y1="547.5" x2="702.2" y2="562" stroke="#000" stroke-width="4"/>
<text x="702.2" y="604.0" font-size="38" text-anchor="middle" fill="#000" font-weight="bold" letter-spacing="0.6">700</text>
<text x="393.7" y="655.0" font-size="42.6" text-anchor="middle" fill="#000" font-weight="bold" >Wavelength (nm)</text>
<text x="0" y="0" font-size="42" font-weight="bold" text-anchor="middle" transform="translate(31.5,275.5) rotate(-90)">Absorption (arb. units)</text>
<text x="98.2" y="40.4" font-size="26" text-anchor="start" fill="#000" font-weight="bold" >HoYO:xEu</text>
<text x="226.0" y="32.8" font-size="27.5" text-anchor="start" fill="#000" font-weight="bold" >3+</text>
<line x1="84.1" y1="65.4" x2="142.6" y2="65.4" stroke="#404040" stroke-width="3.8" stroke-linecap="round"/>
<text x="151.2" y="74.3" font-size="21.8" text-anchor="start" fill="#000" font-weight="bold" >0 mole%</text>
<line x1="84.1" y1="99.4" x2="142.6" y2="99.4" stroke="#EA3030" stroke-width="3.8" stroke-linecap="round"/>
<text x="151.2" y="108.3" font-size="21.8" text-anchor="start" fill="#000" font-weight="bold" >1 mole%</text>
<line x1="84.1" y1="133.4" x2="142.6" y2="133.4" stroke="#1A6FDF" stroke-width="3.8" stroke-linecap="round"/>
<text x="151.2" y="142.3" font-size="21.8" text-anchor="start" fill="#000" font-weight="bold" >3mole%</text>
<line x1="84.1" y1="167.4" x2="142.6" y2="167.4" stroke="#37AD6B" stroke-width="3.8" stroke-linecap="round"/>
<text x="151.2" y="176.3" font-size="21.8" text-anchor="start" fill="#000" font-weight="bold" >5 mole%</text>
<line x1="84.1" y1="201.4" x2="142.6" y2="201.4" stroke="#B177DE" stroke-width="3.8" stroke-linecap="round"/>
<text x="151.2" y="210.3" font-size="21.8" text-anchor="start" fill="#000" font-weight="bold" >7 mole%</text>
<line x1="84.1" y1="235.4" x2="142.6" y2="235.4" stroke="#CC9900" stroke-width="3.8" stroke-linecap="round"/>
<text x="151.2" y="244.3" font-size="21.8" text-anchor="start" fill="#000" font-weight="bold" >9 mole%</text>
<text x="634.3" y="46.8" font-size="42" text-anchor="start" fill="#000" font-weight="bold" >(a)</text>
<polyline points="271.00,85.70 273.00,88.00 275.50,92.00 278.00,82.00 280.50,62.00 282.70,55.40 285.00,62.00 287.00,75.00 289.00,89.30 291.00,100.00 292.50,109.00 294.00,121.40 296.00,124.00 299.30,125.00 302.00,130.00 306.40,139.30 313.60,157.00 322.50,182.00 331.40,207.00 340.40,234.00 344.00,237.50 351.00,237.50 355.00,240.00 358.20,244.60 363.60,260.70 368.00,270.00 372.50,275.00 379.60,275.00 382.50,271.00 384.30,264.30 385.40,213.60 386.90,154.00 388.40,88.60 390.00,55.00 391.40,41.00 392.80,50.00 394.30,64.80 395.10,100.00 395.80,133.00 397.30,183.80 399.30,191.00 402.00,199.00 404.60,212.00 406.30,214.00 407.80,196.00 409.20,181.00 410.70,188.00 412.40,207.60 413.70,235.00 415.40,262.00 416.40,280.00 418.00,289.00 419.70,293.20 422.00,297.00 426.30,298.70 442.80,298.70 444.50,302.50 446.10,305.40 450.50,308.70 452.80,313.00 467.10,313.00 468.20,318.60 489.10,318.60 492.40,312.00 495.70,308.70 498.00,297.00 500.20,286.60 502.40,282.20 504.50,290.00 506.80,297.60 514.50,299.80 518.00,303.00 521.10,308.70 525.50,318.60 618.10,318.60 620.00,311.00 622.50,306.50 635.70,304.30 639.00,299.80 641.00,301.00 643.40,304.30 645.70,312.00 654.50,313.00 656.70,318.60 658.50,314.00 660.00,313.00 661.00,316.00 662.20,317.50 668.80,319.70 671.00,325.20 701.90,325.20" fill="none" stroke="#9900CC" stroke-width="3.6" stroke-linejoin="round" stroke-linecap="round" stroke-linejoin="miter" clip-path="url(#clipI)"/>
<rect x="269.2" y="5" width="433.4" height="325.6" fill="none" stroke="#000" stroke-width="4.2"/>
<line x1="300.0" y1="330.5" x2="300.0" y2="340.7" stroke="#000" stroke-width="4"/>
<text x="300.0" y="368.0" font-size="26.5" text-anchor="middle" fill="#000" font-weight="bold" >375</text>
<line x1="346.7" y1="330.5" x2="346.7" y2="336" stroke="#000" stroke-width="4"/>
<line x1="393.4" y1="330.5" x2="393.4" y2="340.7" stroke="#000" stroke-width="4"/>
<text x="393.4" y="368.0" font-size="26.5" text-anchor="middle" fill="#000" font-weight="bold" >450</text>
<line x1="440.1" y1="330.5" x2="440.1" y2="336" stroke="#000" stroke-width="4"/>
<line x1="486.8" y1="330.5" x2="486.8" y2="340.7" stroke="#000" stroke-width="4"/>
<text x="486.8" y="368.0" font-size="26.5" text-anchor="middle" fill="#000" font-weight="bold" >525</text>
<line x1="533.5" y1="330.5" x2="533.5" y2="336" stroke="#000" stroke-width="4"/>
<line x1="580.2" y1="330.5" x2="580.2" y2="340.7" stroke="#000" stroke-width="4"/>
<text x="580.2" y="368.0" font-size="26.5" text-anchor="middle" fill="#000" font-weight="bold" >600</text>
<line x1="626.9" y1="330.5" x2="626.9" y2="336" stroke="#000" stroke-width="4"/>
<line x1="673.6" y1="330.5" x2="673.6" y2="340.7" stroke="#000" stroke-width="4"/>
<text x="673.6" y="368.0" font-size="26.5" text-anchor="middle" fill="#000" font-weight="bold" >675</text>
<text x="498.5" y="399.0" font-size="30.3" text-anchor="middle" fill="#000" font-weight="bold" >Wavelength (nm)</text>
<text x="272.5" y="31.2" font-size="19" text-anchor="start" fill="#EF2020" font-weight="bold" >3</text>
<text x="285.0" y="42.0" font-size="21" text-anchor="start" fill="#EF2020" font-weight="bold" >H</text>
<text x="301.0" y="48.2" font-size="19" text-anchor="start" fill="#EF2020" font-weight="bold" >6,</text>
<text x="317.5" y="28.6" font-size="19" text-anchor="start" fill="#EF2020" font-weight="bold" >5</text>
<text x="329.5" y="42.0" font-size="21" text-anchor="start" fill="#EF2020" font-weight="bold" >D</text>
<text x="346.0" y="50.0" font-size="19" text-anchor="start" fill="#EF2020" font-weight="bold" >4</text>
<text x="388.5" y="27.7" font-size="19" text-anchor="start" fill="#EF2020" font-weight="bold" >5</text>
<text x="400.5" y="38.4" font-size="21" text-anchor="start" fill="#EF2020" font-weight="bold" >G</text>
<text x="415.5" y="43.7" font-size="19" text-anchor="start" fill="#EF2020" font-weight="bold" >6</text>
<text x="398.3" y="151.2" font-size="19" text-anchor="start" fill="#EF2020" font-weight="bold" >5</text>
<text x="409.5" y="161.4" font-size="22" text-anchor="start" fill="#EF2020" font-weight="bold" >F</text>
<text x="422.5" y="167.7" font-size="19" text-anchor="start" fill="#EF2020" font-weight="bold" >3,</text>
<text x="448.7" y="151.2" font-size="19" text-anchor="start" fill="#EF2020" font-weight="bold" >3</text>
<text x="460.8" y="161.4" font-size="22" text-anchor="start" fill="#EF2020" font-weight="bold" >K</text>
<text x="477.2" y="167.7" font-size="19" text-anchor="start" fill="#EF2020" font-weight="bold" >8,</text>
<text x="496.6" y="147.8" font-size="19" text-anchor="start" fill="#EF2020" font-weight="bold" >5</text>
<text x="507.8" y="161.4" font-size="22" text-anchor="start" fill="#EF2020" font-weight="bold" >D</text>
<text x="524.4" y="170.0" font-size="21" text-anchor="start" fill="#EF2020" font-weight="bold" >2</text>
<text x="441.5" y="260.0" font-size="19" text-anchor="start" fill="#EF2020" font-weight="bold" >5</text>
<text x="453.2" y="270.0" font-size="21" text-anchor="start" fill="#EF2020" font-weight="bold" >F</text>
<text x="465.7" y="276.8" font-size="19" text-anchor="start" fill="#EF2020" font-weight="bold" >4,</text>
<text x="492.4" y="260.9" font-size="19" text-anchor="start" fill="#EF2020" font-weight="bold" >5</text>
<text x="503.3" y="270.9" font-size="21" text-anchor="start" fill="#EF2020" font-weight="bold" >S</text>
<text x="515.0" y="276.8" font-size="19" text-anchor="start" fill="#EF2020" font-weight="bold" >2,</text>
<text x="534.2" y="256.7" font-size="19" text-anchor="start" fill="#EF2020" font-weight="bold" >5</text>
<text x="546.7" y="270.9" font-size="21" text-anchor="start" fill="#EF2020" font-weight="bold" >D</text>
<text x="563.4" y="279.3" font-size="19" text-anchor="start" fill="#EF2020" font-weight="bold" >1</text>
<text x="624.4" y="274.3" font-size="19" text-anchor="start" fill="#EF2020" font-weight="bold" >5</text>
<text x="636.0" y="285.1" font-size="21" text-anchor="start" fill="#EF2020" font-weight="bold" >F</text>
<text x="648.6" y="290.0" font-size="19" text-anchor="start" fill="#EF2020" font-weight="bold" >5</text>
<rect x="821" y="6" width="652" height="542.5" fill="#fff" stroke="none"/>
<g clip-path="url(#clipR)">
<polyline points="814.09,517.51 819.72,517.34 825.38,517.16 831.09,516.98 836.84,516.79 842.63,516.60 848.46,516.41 854.33,516.21 860.25,516.00 866.21,515.79 872.21,515.58 878.26,515.36 884.35,515.14 890.49,514.92 896.67,514.69 902.90,514.45 909.18,514.21 915.50,513.97 921.87,513.72 928.29,513.47 934.76,513.21 941.27,512.95 947.84,512.68 954.46,512.41 961.13,512.13 967.85,511.84 974.62,511.55 981.44,511.25 988.32,510.95 995.26,510.63 1002.24,510.31 1009.29,509.98 1016.39,509.65 1023.54,509.31 1030.76,508.96 1038.03,508.60 1045.36,508.24 1052.75,507.90 1060.20,507.58 1067.71,507.25 1075.29,506.92 1082.92,506.57 1090.62,506.20 1098.38,505.78 1106.21,505.32 1114.11,504.79 1122.07,504.18 1130.10,503.49 1138.19,502.51 1146.36,501.13 1154.60,499.47 1162.90,497.63 1171.28,495.33 1179.74,492.59 1188.26,489.17 1196.86,485.35 1205.54,481.22 1214.29,476.31 1223.12,470.34 1232.03,461.57 1241.02,450.77 1250.09,437.95 1259.25,425.60 1268.48,408.44 1277.80,387.67 1287.21,363.66 1296.70,333.75 1306.28,301.67 1315.95,267.31 1325.71,228.16 1335.56,189.05 1345.51,149.58 1355.55,114.97 1365.68,84.84 1375.91,57.81 1386.24,35.80 1396.67,21.83 1407.20,12.80 1417.83,11.80 1428.57,11.10 1439.42,13.10 1450.37,15.09 1461.43,17.20 1472.60,15.60" fill="none" stroke="#404040" stroke-width="3" stroke-linejoin="round" stroke-linecap="round" />
<rect x="809.34" y="512.76" width="9.50" height="9.50" fill="#000000"/>
<rect x="814.97" y="512.59" width="9.50" height="9.50" fill="#000000"/>
<rect x="820.63" y="512.41" width="9.50" height="9.50" fill="#000000"/>
<rect x="826.34" y="512.23" width="9.50" height="9.50" fill="#000000"/>
<rect x="832.09" y="512.04" width="9.50" height="9.50" fill="#000000"/>
<rect x="837.88" y="511.85" width="9.50" height="9.50" fill="#000000"/>
<rect x="843.71" y="511.66" width="9.50" height="9.50" fill="#000000"/>
<rect x="849.58" y="511.46" width="9.50" height="9.50" fill="#000000"/>
<rect x="855.50" y="511.25" width="9.50" height="9.50" fill="#000000"/>
<rect x="861.46" y="511.04" width="9.50" height="9.50" fill="#000000"/>
<rect x="867.46" y="510.83" width="9.50" height="9.50" fill="#000000"/>
<rect x="873.51" y="510.61" width="9.50" height="9.50" fill="#000000"/>
<rect x="879.60" y="510.39" width="9.50" height="9.50" fill="#000000"/>
<rect x="885.74" y="510.17" width="9.50" height="9.50" fill="#000000"/>
<rect x="891.92" y="509.94" width="9.50" height="9.50" fill="#000000"/>
<rect x="898.15" y="509.70" width="9.50" height="9.50" fill="#000000"/>
<rect x="904.43" y="509.46" width="9.50" height="9.50" fill="#000000"/>
<rect x="910.75" y="509.22" width="9.50" height="9.50" fill="#000000"/>
<rect x="917.12" y="508.97" width="9.50" height="9.50" fill="#000000"/>
<rect x="923.54" y="508.72" width="9.50" height="9.50" fill="#000000"/>
<rect x="930.01" y="508.46" width="9.50" height="9.50" fill="#000000"/>
<rect x="936.52" y="508.20" width="9.50" height="9.50" fill="#000000"/>
<rect x="943.09" y="507.93" width="9.50" height="9.50" fill="#000000"/>
<rect x="949.71" y="507.66" width="9.50" height="9.50" fill="#000000"/>
<rect x="956.38" y="507.38" width="9.50" height="9.50" fill="#000000"/>
<rect x="963.10" y="507.09" width="9.50" height="9.50" fill="#000000"/>
<rect x="969.87" y="506.80" width="9.50" height="9.50" fill="#000000"/>
<rect x="976.69" y="506.50" width="9.50" height="9.50" fill="#000000"/>
<rect x="983.57" y="506.20" width="9.50" height="9.50" fill="#000000"/>
<rect x="990.51" y="505.88" width="9.50" height="9.50" fill="#000000"/>
<rect x="997.49" y="505.56" width="9.50" height="9.50" fill="#000000"/>
<rect x="1004.54" y="505.23" width="9.50" height="9.50" fill="#000000"/>
<rect x="1011.64" y="504.90" width="9.50" height="9.50" fill="#000000"/>
<rect x="1018.79" y="504.56" width="9.50" height="9.50" fill="#000000"/>
<rect x="1026.01" y="504.21" width="9.50" height="9.50" fill="#000000"/>
<rect x="1033.28" y="503.85" width="9.50" height="9.50" fill="#000000"/>
<rect x="1040.61" y="503.49" width="9.50" height="9.50" fill="#000000"/>
<rect x="1048.00" y="503.15" width="9.50" height="9.50" fill="#000000"/>
<rect x="1055.45" y="502.83" width="9.50" height="9.50" fill="#000000"/>
<rect x="1062.96" y="502.50" width="9.50" height="9.50" fill="#000000"/>
<rect x="1070.54" y="502.17" width="9.50" height="9.50" fill="#000000"/>
<rect x="1078.17" y="501.82" width="9.50" height="9.50" fill="#000000"/>
<rect x="1085.87" y="501.45" width="9.50" height="9.50" fill="#000000"/>
<rect x="1093.63" y="501.03" width="9.50" height="9.50" fill="#000000"/>
<rect x="1101.46" y="500.57" width="9.50" height="9.50" fill="#000000"/>
<rect x="1109.36" y="500.04" width="9.50" height="9.50" fill="#000000"/>
<rect x="1117.32" y="499.43" width="9.50" height="9.50" fill="#000000"/>
<rect x="1125.35" y="498.74" width="9.50" height="9.50" fill="#000000"/>
<rect x="1133.44" y="497.76" width="9.50" height="9.50" fill="#000000"/>
<rect x="1141.61" y="496.38" width="9.50" height="9.50" fill="#000000"/>
<rect x="1149.85" y="494.72" width="9.50" height="9.50" fill="#000000"/>
<rect x="1158.15" y="492.88" width="9.50" height="9.50" fill="#000000"/>
<rect x="1166.53" y="490.58" width="9.50" height="9.50" fill="#000000"/>
<rect x="1174.99" y="487.84" width="9.50" height="9.50" fill="#000000"/>
<rect x="1183.51" y="484.42" width="9.50" height="9.50" fill="#000000"/>
<rect x="1192.11" y="480.60" width="9.50" height="9.50" fill="#000000"/>
<rect x="1200.79" y="476.47" width="9.50" height="9.50" fill="#000000"/>
<rect x="1209.54" y="471.56" width="9.50" height="9.50" fill="#000000"/>
<rect x="1218.37" y="465.59" width="9.50" height="9.50" fill="#000000"/>
<rect x="1227.28" y="456.82" width="9.50" height="9.50" fill="#000000"/>
<rect x="1236.27" y="446.02" width="9.50" height="9.50" fill="#000000"/>
<rect x="1245.34" y="433.20" width="9.50" height="9.50" fill="#000000"/>
<rect x="1254.50" y="420.85" width="9.50" height="9.50" fill="#000000"/>
<rect x="1263.73" y="403.69" width="9.50" height="9.50" fill="#000000"/>
<rect x="1273.05" y="382.92" width="9.50" height="9.50" fill="#000000"/>
<rect x="1282.46" y="358.91" width="9.50" height="9.50" fill="#000000"/>
<rect x="1291.95" y="329.00" width="9.50" height="9.50" fill="#000000"/>
<rect x="1301.53" y="296.92" width="9.50" height="9.50" fill="#000000"/>
<rect x="1311.20" y="262.56" width="9.50" height="9.50" fill="#000000"/>
<rect x="1320.96" y="223.41" width="9.50" height="9.50" fill="#000000"/>
<rect x="1330.81" y="184.30" width="9.50" height="9.50" fill="#000000"/>
<rect x="1340.76" y="144.83" width="9.50" height="9.50" fill="#000000"/>
<rect x="1350.80" y="110.22" width="9.50" height="9.50" fill="#000000"/>
<rect x="1360.93" y="80.09" width="9.50" height="9.50" fill="#000000"/>
<rect x="1371.16" y="53.06" width="9.50" height="9.50" fill="#000000"/>
<rect x="1381.49" y="31.05" width="9.50" height="9.50" fill="#000000"/>
<rect x="1391.92" y="17.08" width="9.50" height="9.50" fill="#000000"/>
<rect x="1402.45" y="8.05" width="9.50" height="9.50" fill="#000000"/>
<rect x="1413.08" y="7.05" width="9.50" height="9.50" fill="#000000"/>
<rect x="1423.82" y="6.35" width="9.50" height="9.50" fill="#000000"/>
<rect x="1434.67" y="8.35" width="9.50" height="9.50" fill="#000000"/>
<rect x="1445.62" y="10.34" width="9.50" height="9.50" fill="#000000"/>
<rect x="1456.68" y="12.45" width="9.50" height="9.50" fill="#000000"/>
<rect x="1467.85" y="10.85" width="9.50" height="9.50" fill="#000000"/>
<polyline points="814.09,518.69 819.72,518.54 825.38,518.38 831.09,518.22 836.84,518.05 842.63,517.88 848.46,517.70 854.33,517.52 860.25,517.33 866.21,517.14 872.21,516.94 878.26,516.74 884.35,516.54 890.49,516.32 896.67,516.11 902.90,515.88 909.18,515.66 915.50,515.43 921.87,515.19 928.29,514.95 934.76,514.70 941.27,514.45 947.84,514.19 954.46,513.93 961.13,513.65 967.85,513.37 974.62,513.07 981.44,512.77 988.32,512.47 995.26,512.15 1002.24,511.83 1009.29,511.49 1016.39,511.16 1023.54,510.81 1030.76,510.46 1038.03,510.10 1045.36,509.74 1052.75,509.40 1060.20,509.07 1067.71,508.75 1075.29,508.41 1082.92,508.06 1090.62,507.68 1098.38,507.27 1106.21,506.80 1114.11,506.28 1122.07,505.68 1130.10,504.99 1138.19,504.03 1146.36,502.71 1154.60,501.12 1162.90,499.35 1171.28,497.17 1179.74,494.59 1188.26,491.54 1196.86,487.74 1205.54,482.99 1214.29,477.81 1223.12,471.84 1232.03,463.07 1241.02,452.97 1250.09,440.65 1259.25,427.91 1268.48,410.43 1277.80,391.44 1287.21,368.23 1296.70,344.50 1306.28,316.06 1315.95,282.52 1325.71,245.96 1335.56,210.53 1345.51,177.98 1355.55,143.18 1365.68,110.32 1375.91,86.89 1386.24,66.40 1396.67,52.13 1407.20,43.90 1417.83,40.10 1428.57,40.10 1439.42,41.80 1450.37,41.80 1461.43,45.00 1472.60,45.80" fill="none" stroke="#EA3030" stroke-width="3" stroke-linejoin="round" stroke-linecap="round" />
<circle cx="814.09" cy="518.69" r="5.75" fill="#FF0000"/>
<circle cx="819.72" cy="518.54" r="5.75" fill="#FF0000"/>
<circle cx="825.38" cy="518.38" r="5.75" fill="#FF0000"/>
<circle cx="831.09" cy="518.22" r="5.75" fill="#FF0000"/>
<circle cx="836.84" cy="518.05" r="5.75" fill="#FF0000"/>
<circle cx="842.63" cy="517.88" r="5.75" fill="#FF0000"/>
<circle cx="848.46" cy="517.70" r="5.75" fill="#FF0000"/>
<circle cx="854.33" cy="517.52" r="5.75" fill="#FF0000"/>
<circle cx="860.25" cy="517.33" r="5.75" fill="#FF0000"/>
<circle cx="866.21" cy="517.14" r="5.75" fill="#FF0000"/>
<circle cx="872.21" cy="516.94" r="5.75" fill="#FF0000"/>
<circle cx="878.26" cy="516.74" r="5.75" fill="#FF0000"/>
<circle cx="884.35" cy="516.54" r="5.75" fill="#FF0000"/>
<circle cx="890.49" cy="516.32" r="5.75" fill="#FF0000"/>
<circle cx="896.67" cy="516.11" r="5.75" fill="#FF0000"/>
<circle cx="902.90" cy="515.88" r="5.75" fill="#FF0000"/>
<circle cx="909.18" cy="515.66" r="5.75" fill="#FF0000"/>
<circle cx="915.50" cy="515.43" r="5.75" fill="#FF0000"/>
<circle cx="921.87" cy="515.19" r="5.75" fill="#FF0000"/>
<circle cx="928.29" cy="514.95" r="5.75" fill="#FF0000"/>
<circle cx="934.76" cy="514.70" r="5.75" fill="#FF0000"/>
<circle cx="941.27" cy="514.45" r="5.75" fill="#FF0000"/>
<circle cx="947.84" cy="514.19" r="5.75" fill="#FF0000"/>
<circle cx="954.46" cy="513.93" r="5.75" fill="#FF0000"/>
<circle cx="961.13" cy="513.65" r="5.75" fill="#FF0000"/>
<circle cx="967.85" cy="513.37" r="5.75" fill="#FF0000"/>
<circle cx="974.62" cy="513.07" r="5.75" fill="#FF0000"/>
<circle cx="981.44" cy="512.77" r="5.75" fill="#FF0000"/>
<circle cx="988.32" cy="512.47" r="5.75" fill="#FF0000"/>
<circle cx="995.26" cy="512.15" r="5.75" fill="#FF0000"/>
<circle cx="1002.24" cy="511.83" r="5.75" fill="#FF0000"/>
<circle cx="1009.29" cy="511.49" r="5.75" fill="#FF0000"/>
<circle cx="1016.39" cy="511.16" r="5.75" fill="#FF0000"/>
<circle cx="1023.54" cy="510.81" r="5.75" fill="#FF0000"/>
<circle cx="1030.76" cy="510.46" r="5.75" fill="#FF0000"/>
<circle cx="1038.03" cy="510.10" r="5.75" fill="#FF0000"/>
<circle cx="1045.36" cy="509.74" r="5.75" fill="#FF0000"/>
<circle cx="1052.75" cy="509.40" r="5.75" fill="#FF0000"/>
<circle cx="1060.20" cy="509.07" r="5.75" fill="#FF0000"/>
<circle cx="1067.71" cy="508.75" r="5.75" fill="#FF0000"/>
<circle cx="1075.29" cy="508.41" r="5.75" fill="#FF0000"/>
<circle cx="1082.92" cy="508.06" r="5.75" fill="#FF0000"/>
<circle cx="1090.62" cy="507.68" r="5.75" fill="#FF0000"/>
<circle cx="1098.38" cy="507.27" r="5.75" fill="#FF0000"/>
<circle cx="1106.21" cy="506.80" r="5.75" fill="#FF0000"/>
<circle cx="1114.11" cy="506.28" r="5.75" fill="#FF0000"/>
<circle cx="1122.07" cy="505.68" r="5.75" fill="#FF0000"/>
<circle cx="1130.10" cy="504.99" r="5.75" fill="#FF0000"/>
<circle cx="1138.19" cy="504.03" r="5.75" fill="#FF0000"/>
<circle cx="1146.36" cy="502.71" r="5.75" fill="#FF0000"/>
<circle cx="1154.60" cy="501.12" r="5.75" fill="#FF0000"/>
<circle cx="1162.90" cy="499.35" r="5.75" fill="#FF0000"/>
<circle cx="1171.28" cy="497.17" r="5.75" fill="#FF0000"/>
<circle cx="1179.74" cy="494.59" r="5.75" fill="#FF0000"/>
<circle cx="1188.26" cy="491.54" r="5.75" fill="#FF0000"/>
<circle cx="1196.86" cy="487.74" r="5.75" fill="#FF0000"/>
<circle cx="1205.54" cy="482.99" r="5.75" fill="#FF0000"/>
<circle cx="1214.29" cy="477.81" r="5.75" fill="#FF0000"/>
<circle cx="1223.12" cy="471.84" r="5.75" fill="#FF0000"/>
<circle cx="1232.03" cy="463.07" r="5.75" fill="#FF0000"/>
<circle cx="1241.02" cy="452.97" r="5.75" fill="#FF0000"/>
<circle cx="1250.09" cy="440.65" r="5.75" fill="#FF0000"/>
<circle cx="1259.25" cy="427.91" r="5.75" fill="#FF0000"/>
<circle cx="1268.48" cy="410.43" r="5.75" fill="#FF0000"/>
<circle cx="1277.80" cy="391.44" r="5.75" fill="#FF0000"/>
<circle cx="1287.21" cy="368.23" r="5.75" fill="#FF0000"/>
<circle cx="1296.70" cy="344.50" r="5.75" fill="#FF0000"/>
<circle cx="1306.28" cy="316.06" r="5.75" fill="#FF0000"/>
<circle cx="1315.95" cy="282.52" r="5.75" fill="#FF0000"/>
<circle cx="1325.71" cy="245.96" r="5.75" fill="#FF0000"/>
<circle cx="1335.56" cy="210.53" r="5.75" fill="#FF0000"/>
<circle cx="1345.51" cy="177.98" r="5.75" fill="#FF0000"/>
<circle cx="1355.55" cy="143.18" r="5.75" fill="#FF0000"/>
<circle cx="1365.68" cy="110.32" r="5.75" fill="#FF0000"/>
<circle cx="1375.91" cy="86.89" r="5.75" fill="#FF0000"/>
<circle cx="1386.24" cy="66.40" r="5.75" fill="#FF0000"/>
<circle cx="1396.67" cy="52.13" r="5.75" fill="#FF0000"/>
<circle cx="1407.20" cy="43.90" r="5.75" fill="#FF0000"/>
<circle cx="1417.83" cy="40.10" r="5.75" fill="#FF0000"/>
<circle cx="1428.57" cy="40.10" r="5.75" fill="#FF0000"/>
<circle cx="1439.42" cy="41.80" r="5.75" fill="#FF0000"/>
<circle cx="1450.37" cy="41.80" r="5.75" fill="#FF0000"/>
<circle cx="1461.43" cy="45.00" r="5.75" fill="#FF0000"/>
<circle cx="1472.60" cy="45.80" r="5.75" fill="#FF0000"/>
<polyline points="814.09,524.55 819.72,524.51 825.38,524.47 831.09,524.42 836.84,524.38 842.63,524.33 848.46,524.29 854.33,524.24 860.25,524.19 866.21,524.14 872.21,524.09 878.26,524.04 884.35,523.99 890.49,523.94 896.67,523.89 902.90,523.83 909.18,523.78 915.50,523.72 921.87,523.66 928.29,523.61 934.76,523.55 941.27,523.49 947.84,523.43 954.46,523.37 961.13,523.32 967.85,523.26 974.62,523.21 981.44,523.15 988.32,523.09 995.26,523.03 1002.24,522.97 1009.29,522.89 1016.39,522.82 1023.54,522.73 1030.76,522.64 1038.03,522.53 1045.36,522.41 1052.75,522.28 1060.20,522.13 1067.71,521.96 1075.29,521.76 1082.92,521.54 1090.62,521.29 1098.38,521.01 1106.21,520.69 1114.11,520.34 1122.07,519.94 1130.10,519.49 1138.19,518.85 1146.36,517.89 1154.60,516.67 1162.90,515.25 1171.28,513.69 1179.74,512.05 1188.26,510.14 1196.86,507.86 1205.54,505.51 1214.29,502.98 1223.12,499.71 1232.03,495.20 1241.02,489.99 1250.09,484.07 1259.25,478.18 1268.48,471.21 1277.80,459.27 1287.21,446.14 1296.70,430.50 1306.28,413.84 1315.95,394.70 1325.71,375.68 1335.56,353.58 1345.51,334.59 1355.55,318.67 1365.68,307.14 1375.91,295.48 1386.24,288.23 1396.67,284.60 1407.20,284.60 1417.83,287.30 1428.57,288.20 1439.42,291.81 1450.37,296.24 1461.43,300.71 1472.60,302.50" fill="none" stroke="#1A6FDF" stroke-width="3" stroke-linejoin="round" stroke-linecap="round" />
<polygon points="814.09,518.85 820.59,530.25 807.59,530.25" fill="#00FF00"/>
<polygon points="819.72,518.81 826.22,530.21 813.22,530.21" fill="#00FF00"/>
<polygon points="825.38,518.77 831.88,530.17 818.88,530.17" fill="#00FF00"/>
<polygon points="831.09,518.72 837.59,530.12 824.59,530.12" fill="#00FF00"/>
<polygon points="836.84,518.68 843.34,530.08 830.34,530.08" fill="#00FF00"/>
<polygon points="842.63,518.63 849.13,530.03 836.13,530.03" fill="#00FF00"/>
<polygon points="848.46,518.59 854.96,529.99 841.96,529.99" fill="#00FF00"/>
<polygon points="854.33,518.54 860.83,529.94 847.83,529.94" fill="#00FF00"/>
<polygon points="860.25,518.49 866.75,529.89 853.75,529.89" fill="#00FF00"/>
<polygon points="866.21,518.44 872.71,529.84 859.71,529.84" fill="#00FF00"/>
<polygon points="872.21,518.39 878.71,529.79 865.71,529.79" fill="#00FF00"/>
<polygon points="878.26,518.34 884.76,529.74 871.76,529.74" fill="#00FF00"/>
<polygon points="884.35,518.29 890.85,529.69 877.85,529.69" fill="#00FF00"/>
<polygon points="890.49,518.24 896.99,529.64 883.99,529.64" fill="#00FF00"/>
<polygon points="896.67,518.19 903.17,529.59 890.17,529.59" fill="#00FF00"/>
<polygon points="902.90,518.13 909.40,529.53 896.40,529.53" fill="#00FF00"/>
<polygon points="909.18,518.08 915.68,529.48 902.68,529.48" fill="#00FF00"/>
<polygon points="915.50,518.02 922.00,529.42 909.00,529.42" fill="#00FF00"/>
<polygon points="921.87,517.96 928.37,529.36 915.37,529.36" fill="#00FF00"/>
<polygon points="928.29,517.91 934.79,529.31 921.79,529.31" fill="#00FF00"/>
<polygon points="934.76,517.85 941.26,529.25 928.26,529.25" fill="#00FF00"/>
<polygon points="941.27,517.79 947.77,529.19 934.77,529.19" fill="#00FF00"/>
<polygon points="947.84,517.73 954.34,529.13 941.34,529.13" fill="#00FF00"/>
<polygon points="954.46,517.67 960.96,529.07 947.96,529.07" fill="#00FF00"/>
<polygon points="961.13,517.62 967.63,529.02 954.63,529.02" fill="#00FF00"/>
<polygon points="967.85,517.56 974.35,528.96 961.35,528.96" fill="#00FF00"/>
<polygon points="974.62,517.51 981.12,528.91 968.12,528.91" fill="#00FF00"/>
<polygon points="981.44,517.45 987.94,528.85 974.94,528.85" fill="#00FF00"/>
<polygon points="988.32,517.39 994.82,528.79 981.82,528.79" fill="#00FF00"/>
<polygon points="995.26,517.33 1001.76,528.73 988.76,528.73" fill="#00FF00"/>
<polygon points="1002.24,517.27 1008.74,528.67 995.74,528.67" fill="#00FF00"/>
<polygon points="1009.29,517.19 1015.79,528.59 1002.79,528.59" fill="#00FF00"/>
<polygon points="1016.39,517.12 1022.89,528.52 1009.89,528.52" fill="#00FF00"/>
<polygon points="1023.54,517.03 1030.04,528.43 1017.04,528.43" fill="#00FF00"/>
<polygon points="1030.76,516.94 1037.26,528.34 1024.26,528.34" fill="#00FF00"/>
<polygon points="1038.03,516.83 1044.53,528.23 1031.53,528.23" fill="#00FF00"/>
<polygon points="1045.36,516.71 1051.86,528.11 1038.86,528.11" fill="#00FF00"/>
<polygon points="1052.75,516.58 1059.25,527.98 1046.25,527.98" fill="#00FF00"/>
<polygon points="1060.20,516.43 1066.70,527.83 1053.70,527.83" fill="#00FF00"/>
<polygon points="1067.71,516.26 1074.21,527.66 1061.21,527.66" fill="#00FF00"/>
<polygon points="1075.29,516.06 1081.79,527.46 1068.79,527.46" fill="#00FF00"/>
<polygon points="1082.92,515.84 1089.42,527.24 1076.42,527.24" fill="#00FF00"/>
<polygon points="1090.62,515.59 1097.12,526.99 1084.12,526.99" fill="#00FF00"/>
<polygon points="1098.38,515.31 1104.88,526.71 1091.88,526.71" fill="#00FF00"/>
<polygon points="1106.21,514.99 1112.71,526.39 1099.71,526.39" fill="#00FF00"/>
<polygon points="1114.11,514.64 1120.61,526.04 1107.61,526.04" fill="#00FF00"/>
<polygon points="1122.07,514.24 1128.57,525.64 1115.57,525.64" fill="#00FF00"/>
<polygon points="1130.10,513.79 1136.60,525.19 1123.60,525.19" fill="#00FF00"/>
<polygon points="1138.19,513.15 1144.69,524.55 1131.69,524.55" fill="#00FF00"/>
<polygon points="1146.36,512.19 1152.86,523.59 1139.86,523.59" fill="#00FF00"/>
<polygon points="1154.60,510.97 1161.10,522.37 1148.10,522.37" fill="#00FF00"/>
<polygon points="1162.90,509.55 1169.40,520.95 1156.40,520.95" fill="#00FF00"/>
<polygon points="1171.28,507.99 1177.78,519.39 1164.78,519.39" fill="#00FF00"/>
<polygon points="1179.74,506.35 1186.24,517.75 1173.24,517.75" fill="#00FF00"/>
<polygon points="1188.26,504.44 1194.76,515.84 1181.76,515.84" fill="#00FF00"/>
<polygon points="1196.86,502.16 1203.36,513.56 1190.36,513.56" fill="#00FF00"/>
<polygon points="1205.54,499.81 1212.04,511.21 1199.04,511.21" fill="#00FF00"/>
<polygon points="1214.29,497.28 1220.79,508.68 1207.79,508.68" fill="#00FF00"/>
<polygon points="1223.12,494.01 1229.62,505.41 1216.62,505.41" fill="#00FF00"/>
<polygon points="1232.03,489.50 1238.53,500.90 1225.53,500.90" fill="#00FF00"/>
<polygon points="1241.02,484.29 1247.52,495.69 1234.52,495.69" fill="#00FF00"/>
<polygon points="1250.09,478.37 1256.59,489.77 1243.59,489.77" fill="#00FF00"/>
<polygon points="1259.25,472.48 1265.75,483.88 1252.75,483.88" fill="#00FF00"/>
<polygon points="1268.48,465.51 1274.98,476.91 1261.98,476.91" fill="#00FF00"/>
<polygon points="1277.80,453.57 1284.30,464.97 1271.30,464.97" fill="#00FF00"/>
<polygon points="1287.21,440.44 1293.71,451.84 1280.71,451.84" fill="#00FF00"/>
<polygon points="1296.70,424.80 1303.20,436.20 1290.20,436.20" fill="#00FF00"/>
<polygon points="1306.28,408.14 1312.78,419.54 1299.78,419.54" fill="#00FF00"/>
<polygon points="1315.95,389.00 1322.45,400.40 1309.45,400.40" fill="#00FF00"/>
<polygon points="1325.71,369.98 1332.21,381.38 1319.21,381.38" fill="#00FF00"/>
<polygon points="1335.56,347.88 1342.06,359.28 1329.06,359.28" fill="#00FF00"/>
<polygon points="1345.51,328.89 1352.01,340.29 1339.01,340.29" fill="#00FF00"/>
<polygon points="1355.55,312.97 1362.05,324.37 1349.05,324.37" fill="#00FF00"/>
<polygon points="1365.68,301.44 1372.18,312.84 1359.18,312.84" fill="#00FF00"/>
<polygon points="1375.91,289.78 1382.41,301.18 1369.41,301.18" fill="#00FF00"/>
<polygon points="1386.24,282.53 1392.74,293.93 1379.74,293.93" fill="#00FF00"/>
<polygon points="1396.67,278.90 1403.17,290.30 1390.17,290.30" fill="#00FF00"/>
<polygon points="1407.20,278.90 1413.70,290.30 1400.70,290.30" fill="#00FF00"/>
<polygon points="1417.83,281.60 1424.33,293.00 1411.33,293.00" fill="#00FF00"/>
<polygon points="1428.57,282.50 1435.07,293.90 1422.07,293.90" fill="#00FF00"/>
<polygon points="1439.42,286.11 1445.92,297.51 1432.92,297.51" fill="#00FF00"/>
<polygon points="1450.37,290.54 1456.87,301.94 1443.87,301.94" fill="#00FF00"/>
<polygon points="1461.43,295.01 1467.93,306.41 1454.93,306.41" fill="#00FF00"/>
<polygon points="1472.60,296.80 1479.10,308.20 1466.10,308.20" fill="#00FF00"/>
<polyline points="814.09,517.51 819.72,517.34 825.38,517.16 831.09,516.98 836.84,516.79 842.63,516.60 848.46,516.41 854.33,516.21 860.25,516.00 866.21,515.79 872.21,515.58 878.26,515.36 884.35,515.14 890.49,514.92 896.67,514.69 902.90,514.45 909.18,514.21 915.50,513.97 921.87,513.72 928.29,513.47 934.76,513.21 941.27,512.95 947.84,512.68 954.46,512.41 961.13,512.14 967.85,511.86 974.62,511.57 981.44,511.27 988.32,510.97 995.26,510.66 1002.24,510.34 1009.29,510.02 1016.39,509.68 1023.54,509.33 1030.76,508.97 1038.03,508.60 1045.36,508.23 1052.75,507.86 1060.20,507.51 1067.71,507.15 1075.29,506.77 1082.92,506.38 1090.62,505.96 1098.38,505.49 1106.21,504.97 1114.11,504.39 1122.07,503.74 1130.10,502.99 1138.19,501.97 1146.36,500.57 1154.60,498.93 1162.90,497.15 1171.28,494.99 1179.74,492.67 1188.26,490.48 1196.86,487.69 1205.54,483.74 1214.29,478.81 1223.12,472.79 1232.03,466.06 1241.02,457.98 1250.09,448.82 1259.25,437.05 1268.48,423.64 1277.80,408.34 1287.21,391.18 1296.70,370.00 1306.28,349.04 1315.95,327.89 1325.71,306.98 1335.56,287.07 1345.51,269.99 1355.55,257.07 1365.68,245.72 1375.91,236.26 1386.24,230.91 1396.67,230.00 1407.20,232.70 1417.83,234.50 1428.57,235.40 1439.42,236.25 1450.37,237.10 1461.43,239.00 1472.60,239.80" fill="none" stroke="#37AD6B" stroke-width="3" stroke-linejoin="round" stroke-linecap="round" />
<polygon points="814.09,523.21 820.59,511.81 807.59,511.81" fill="#0000FF"/>
<polygon points="819.72,523.04 826.22,511.64 813.22,511.64" fill="#0000FF"/>
<polygon points="825.38,522.86 831.88,511.46 818.88,511.46" fill="#0000FF"/>
<polygon points="831.09,522.68 837.59,511.28 824.59,511.28" fill="#0000FF"/>
<polygon points="836.84,522.49 843.34,511.09 830.34,511.09" fill="#0000FF"/>
<polygon points="842.63,522.30 849.13,510.90 836.13,510.90" fill="#0000FF"/>
<polygon points="848.46,522.11 854.96,510.71 841.96,510.71" fill="#0000FF"/>
<polygon points="854.33,521.91 860.83,510.51 847.83,510.51" fill="#0000FF"/>
<polygon points="860.25,521.70 866.75,510.30 853.75,510.30" fill="#0000FF"/>
<polygon points="866.21,521.49 872.71,510.09 859.71,510.09" fill="#0000FF"/>
<polygon points="872.21,521.28 878.71,509.88 865.71,509.88" fill="#0000FF"/>
<polygon points="878.26,521.06 884.76,509.66 871.76,509.66" fill="#0000FF"/>
<polygon points="884.35,520.84 890.85,509.44 877.85,509.44" fill="#0000FF"/>
<polygon points="890.49,520.62 896.99,509.22 883.99,509.22" fill="#0000FF"/>
<polygon points="896.67,520.39 903.17,508.99 890.17,508.99" fill="#0000FF"/>
<polygon points="902.90,520.15 909.40,508.75 896.40,508.75" fill="#0000FF"/>
<polygon points="909.18,519.91 915.68,508.51 902.68,508.51" fill="#0000FF"/>
<polygon points="915.50,519.67 922.00,508.27 909.00,508.27" fill="#0000FF"/>
<polygon points="921.87,519.42 928.37,508.02 915.37,508.02" fill="#0000FF"/>
<polygon points="928.29,519.17 934.79,507.77 921.79,507.77" fill="#0000FF"/>
<polygon points="934.76,518.91 941.26,507.51 928.26,507.51" fill="#0000FF"/>
<polygon points="941.27,518.65 947.77,507.25 934.77,507.25" fill="#0000FF"/>
<polygon points="947.84,518.38 954.34,506.98 941.34,506.98" fill="#0000FF"/>
<polygon points="954.46,518.11 960.96,506.71 947.96,506.71" fill="#0000FF"/>
<polygon points="961.13,517.84 967.63,506.44 954.63,506.44" fill="#0000FF"/>
<polygon points="967.85,517.56 974.35,506.16 961.35,506.16" fill="#0000FF"/>
<polygon points="974.62,517.27 981.12,505.87 968.12,505.87" fill="#0000FF"/>
<polygon points="981.44,516.97 987.94,505.57 974.94,505.57" fill="#0000FF"/>
<polygon points="988.32,516.67 994.82,505.27 981.82,505.27" fill="#0000FF"/>
<polygon points="995.26,516.36 1001.76,504.96 988.76,504.96" fill="#0000FF"/>
<polygon points="1002.24,516.04 1008.74,504.64 995.74,504.64" fill="#0000FF"/>
<polygon points="1009.29,515.72 1015.79,504.32 1002.79,504.32" fill="#0000FF"/>
<polygon points="1016.39,515.38 1022.89,503.98 1009.89,503.98" fill="#0000FF"/>
<polygon points="1023.54,515.03 1030.04,503.63 1017.04,503.63" fill="#0000FF"/>
<polygon points="1030.76,514.67 1037.26,503.27 1024.26,503.27" fill="#0000FF"/>
<polygon points="1038.03,514.30 1044.53,502.90 1031.53,502.90" fill="#0000FF"/>
<polygon points="1045.36,513.93 1051.86,502.53 1038.86,502.53" fill="#0000FF"/>
<polygon points="1052.75,513.56 1059.25,502.16 1046.25,502.16" fill="#0000FF"/>
<polygon points="1060.20,513.21 1066.70,501.81 1053.70,501.81" fill="#0000FF"/>
<polygon points="1067.71,512.85 1074.21,501.45 1061.21,501.45" fill="#0000FF"/>
<polygon points="1075.29,512.47 1081.79,501.07 1068.79,501.07" fill="#0000FF"/>
<polygon points="1082.92,512.08 1089.42,500.68 1076.42,500.68" fill="#0000FF"/>
<polygon points="1090.62,511.66 1097.12,500.26 1084.12,500.26" fill="#0000FF"/>
<polygon points="1098.38,511.19 1104.88,499.79 1091.88,499.79" fill="#0000FF"/>
<polygon points="1106.21,510.67 1112.71,499.27 1099.71,499.27" fill="#0000FF"/>
<polygon points="1114.11,510.09 1120.61,498.69 1107.61,498.69" fill="#0000FF"/>
<polygon points="1122.07,509.44 1128.57,498.04 1115.57,498.04" fill="#0000FF"/>
<polygon points="1130.10,508.69 1136.60,497.29 1123.60,497.29" fill="#0000FF"/>
<polygon points="1138.19,507.67 1144.69,496.27 1131.69,496.27" fill="#0000FF"/>
<polygon points="1146.36,506.27 1152.86,494.87 1139.86,494.87" fill="#0000FF"/>
<polygon points="1154.60,504.63 1161.10,493.23 1148.10,493.23" fill="#0000FF"/>
<polygon points="1162.90,502.85 1169.40,491.45 1156.40,491.45" fill="#0000FF"/>
<polygon points="1171.28,500.69 1177.78,489.29 1164.78,489.29" fill="#0000FF"/>
<polygon points="1179.74,498.37 1186.24,486.97 1173.24,486.97" fill="#0000FF"/>
<polygon points="1188.26,496.18 1194.76,484.78 1181.76,484.78" fill="#0000FF"/>
<polygon points="1196.86,493.39 1203.36,481.99 1190.36,481.99" fill="#0000FF"/>
<polygon points="1205.54,489.44 1212.04,478.04 1199.04,478.04" fill="#0000FF"/>
<polygon points="1214.29,484.51 1220.79,473.11 1207.79,473.11" fill="#0000FF"/>
<polygon points="1223.12,478.49 1229.62,467.09 1216.62,467.09" fill="#0000FF"/>
<polygon points="1232.03,471.76 1238.53,460.36 1225.53,460.36" fill="#0000FF"/>
<polygon points="1241.02,463.68 1247.52,452.28 1234.52,452.28" fill="#0000FF"/>
<polygon points="1250.09,454.52 1256.59,443.12 1243.59,443.12" fill="#0000FF"/>
<polygon points="1259.25,442.75 1265.75,431.35 1252.75,431.35" fill="#0000FF"/>
<polygon points="1268.48,429.34 1274.98,417.94 1261.98,417.94" fill="#0000FF"/>
<polygon points="1277.80,414.04 1284.30,402.64 1271.30,402.64" fill="#0000FF"/>
<polygon points="1287.21,396.88 1293.71,385.48 1280.71,385.48" fill="#0000FF"/>
<polygon points="1296.70,375.70 1303.20,364.30 1290.20,364.30" fill="#0000FF"/>
<polygon points="1306.28,354.74 1312.78,343.34 1299.78,343.34" fill="#0000FF"/>
<polygon points="1315.95,333.59 1322.45,322.19 1309.45,322.19" fill="#0000FF"/>
<polygon points="1325.71,312.68 1332.21,301.28 1319.21,301.28" fill="#0000FF"/>
<polygon points="1335.56,292.77 1342.06,281.37 1329.06,281.37" fill="#0000FF"/>
<polygon points="1345.51,275.69 1352.01,264.29 1339.01,264.29" fill="#0000FF"/>
<polygon points="1355.55,262.77 1362.05,251.37 1349.05,251.37" fill="#0000FF"/>
<polygon points="1365.68,251.42 1372.18,240.02 1359.18,240.02" fill="#0000FF"/>
<polygon points="1375.91,241.96 1382.41,230.56 1369.41,230.56" fill="#0000FF"/>
<polygon points="1386.24,236.61 1392.74,225.21 1379.74,225.21" fill="#0000FF"/>
<polygon points="1396.67,235.70 1403.17,224.30 1390.17,224.30" fill="#0000FF"/>
<polygon points="1407.20,238.40 1413.70,227.00 1400.70,227.00" fill="#0000FF"/>
<polygon points="1417.83,240.20 1424.33,228.80 1411.33,228.80" fill="#0000FF"/>
<polygon points="1428.57,241.10 1435.07,229.70 1422.07,229.70" fill="#0000FF"/>
<polygon points="1439.42,241.95 1445.92,230.55 1432.92,230.55" fill="#0000FF"/>
<polygon points="1450.37,242.80 1456.87,231.40 1443.87,231.40" fill="#0000FF"/>
<polygon points="1461.43,244.70 1467.93,233.30 1454.93,233.30" fill="#0000FF"/>
<polygon points="1472.60,245.50 1479.10,234.10 1466.10,234.10" fill="#0000FF"/>
<polyline points="814.09,526.16 819.72,526.03 825.38,525.90 831.09,525.77 836.84,525.63 842.63,525.50 848.46,525.37 854.33,525.23 860.25,525.10 866.21,524.97 872.21,524.84 878.26,524.70 884.35,524.57 890.49,524.44 896.67,524.30 902.90,524.17 909.18,524.04 915.50,523.90 921.87,523.77 928.29,523.64 934.76,523.51 941.27,523.37 947.84,523.25 954.46,523.13 961.13,523.02 967.85,522.91 974.62,522.80 981.44,522.69 988.32,522.58 995.26,522.47 1002.24,522.35 1009.29,522.22 1016.39,522.07 1023.54,521.92 1030.76,521.75 1038.03,521.56 1045.36,521.34 1052.75,521.11 1060.20,520.84 1067.71,520.55 1075.29,520.22 1082.92,519.86 1090.62,519.44 1098.38,518.98 1106.21,518.45 1114.11,517.87 1122.07,517.22 1130.10,516.49 1138.19,515.40 1146.36,513.78 1154.60,511.77 1162.90,509.53 1171.28,507.24 1179.74,505.06 1188.26,503.12 1196.86,500.97 1205.54,497.74 1214.29,493.30 1223.12,488.20 1232.03,482.77 1241.02,476.98 1250.09,469.60 1259.25,459.32 1268.48,446.34 1277.80,430.41 1287.21,406.24 1296.70,381.00 1306.28,355.05 1315.95,327.85 1325.71,295.97 1335.56,263.62 1345.51,231.68 1355.55,202.43 1365.68,181.12 1375.91,164.01 1386.24,153.24 1396.67,147.01 1407.20,144.30 1417.83,147.90 1428.57,148.75 1439.42,151.40 1450.37,154.09 1461.43,158.61 1472.60,160.40" fill="none" stroke="#B177DE" stroke-width="3" stroke-linejoin="round" stroke-linecap="round" />
<polygon points="814.09,519.36 820.89,526.16 814.09,532.96 807.29,526.16" fill="#00FFFF"/>
<polygon points="819.72,519.23 826.52,526.03 819.72,532.83 812.92,526.03" fill="#00FFFF"/>
<polygon points="825.38,519.10 832.18,525.90 825.38,532.70 818.58,525.90" fill="#00FFFF"/>
<polygon points="831.09,518.97 837.89,525.77 831.09,532.57 824.29,525.77" fill="#00FFFF"/>
<polygon points="836.84,518.83 843.64,525.63 836.84,532.43 830.04,525.63" fill="#00FFFF"/>
<polygon points="842.63,518.70 849.43,525.50 842.63,532.30 835.83,525.50" fill="#00FFFF"/>
<polygon points="848.46,518.57 855.26,525.37 848.46,532.17 841.66,525.37" fill="#00FFFF"/>
<polygon points="854.33,518.43 861.13,525.23 854.33,532.03 847.53,525.23" fill="#00FFFF"/>
<polygon points="860.25,518.30 867.05,525.10 860.25,531.90 853.45,525.10" fill="#00FFFF"/>
<polygon points="866.21,518.17 873.01,524.97 866.21,531.77 859.41,524.97" fill="#00FFFF"/>
<polygon points="872.21,518.04 879.01,524.84 872.21,531.64 865.41,524.84" fill="#00FFFF"/>
<polygon points="878.26,517.90 885.06,524.70 878.26,531.50 871.46,524.70" fill="#00FFFF"/>
<polygon points="884.35,517.77 891.15,524.57 884.35,531.37 877.55,524.57" fill="#00FFFF"/>
<polygon points="890.49,517.64 897.29,524.44 890.49,531.24 883.69,524.44" fill="#00FFFF"/>
<polygon points="896.67,517.50 903.47,524.30 896.67,531.10 889.87,524.30" fill="#00FFFF"/>
<polygon points="902.90,517.37 909.70,524.17 902.90,530.97 896.10,524.17" fill="#00FFFF"/>
<polygon points="909.18,517.24 915.98,524.04 909.18,530.84 902.38,524.04" fill="#00FFFF"/>
<polygon points="915.50,517.10 922.30,523.90 915.50,530.70 908.70,523.90" fill="#00FFFF"/>
<polygon points="921.87,516.97 928.67,523.77 921.87,530.57 915.07,523.77" fill="#00FFFF"/>
<polygon points="928.29,516.84 935.09,523.64 928.29,530.44 921.49,523.64" fill="#00FFFF"/>
<polygon points="934.76,516.71 941.56,523.51 934.76,530.31 927.96,523.51" fill="#00FFFF"/>
<polygon points="941.27,516.57 948.07,523.37 941.27,530.17 934.47,523.37" fill="#00FFFF"/>
<polygon points="947.84,516.45 954.64,523.25 947.84,530.05 941.04,523.25" fill="#00FFFF"/>
<polygon points="954.46,516.33 961.26,523.13 954.46,529.93 947.66,523.13" fill="#00FFFF"/>
<polygon points="961.13,516.22 967.93,523.02 961.13,529.82 954.33,523.02" fill="#00FFFF"/>
<polygon points="967.85,516.11 974.65,522.91 967.85,529.71 961.05,522.91" fill="#00FFFF"/>
<polygon points="974.62,516.00 981.42,522.80 974.62,529.60 967.82,522.80" fill="#00FFFF"/>
<polygon points="981.44,515.89 988.24,522.69 981.44,529.49 974.64,522.69" fill="#00FFFF"/>
<polygon points="988.32,515.78 995.12,522.58 988.32,529.38 981.52,522.58" fill="#00FFFF"/>
<polygon points="995.26,515.67 1002.06,522.47 995.26,529.27 988.46,522.47" fill="#00FFFF"/>
<polygon points="1002.24,515.55 1009.04,522.35 1002.24,529.15 995.44,522.35" fill="#00FFFF"/>
<polygon points="1009.29,515.42 1016.09,522.22 1009.29,529.02 1002.49,522.22" fill="#00FFFF"/>
<polygon points="1016.39,515.27 1023.19,522.07 1016.39,528.87 1009.59,522.07" fill="#00FFFF"/>
<polygon points="1023.54,515.12 1030.34,521.92 1023.54,528.72 1016.74,521.92" fill="#00FFFF"/>
<polygon points="1030.76,514.95 1037.56,521.75 1030.76,528.55 1023.96,521.75" fill="#00FFFF"/>
<polygon points="1038.03,514.76 1044.83,521.56 1038.03,528.36 1031.23,521.56" fill="#00FFFF"/>
<polygon points="1045.36,514.54 1052.16,521.34 1045.36,528.14 1038.56,521.34" fill="#00FFFF"/>
<polygon points="1052.75,514.31 1059.55,521.11 1052.75,527.91 1045.95,521.11" fill="#00FFFF"/>
<polygon points="1060.20,514.04 1067.00,520.84 1060.20,527.64 1053.40,520.84" fill="#00FFFF"/>
<polygon points="1067.71,513.75 1074.51,520.55 1067.71,527.35 1060.91,520.55" fill="#00FFFF"/>
<polygon points="1075.29,513.42 1082.09,520.22 1075.29,527.02 1068.49,520.22" fill="#00FFFF"/>
<polygon points="1082.92,513.06 1089.72,519.86 1082.92,526.66 1076.12,519.86" fill="#00FFFF"/>
<polygon points="1090.62,512.64 1097.42,519.44 1090.62,526.24 1083.82,519.44" fill="#00FFFF"/>
<polygon points="1098.38,512.18 1105.18,518.98 1098.38,525.78 1091.58,518.98" fill="#00FFFF"/>
<polygon points="1106.21,511.65 1113.01,518.45 1106.21,525.25 1099.41,518.45" fill="#00FFFF"/>
<polygon points="1114.11,511.07 1120.91,517.87 1114.11,524.67 1107.31,517.87" fill="#00FFFF"/>
<polygon points="1122.07,510.42 1128.87,517.22 1122.07,524.02 1115.27,517.22" fill="#00FFFF"/>
<polygon points="1130.10,509.69 1136.90,516.49 1130.10,523.29 1123.30,516.49" fill="#00FFFF"/>
<polygon points="1138.19,508.60 1144.99,515.40 1138.19,522.20 1131.39,515.40" fill="#00FFFF"/>
<polygon points="1146.36,506.98 1153.16,513.78 1146.36,520.58 1139.56,513.78" fill="#00FFFF"/>
<polygon points="1154.60,504.97 1161.40,511.77 1154.60,518.57 1147.80,511.77" fill="#00FFFF"/>
<polygon points="1162.90,502.73 1169.70,509.53 1162.90,516.33 1156.10,509.53" fill="#00FFFF"/>
<polygon points="1171.28,500.44 1178.08,507.24 1171.28,514.04 1164.48,507.24" fill="#00FFFF"/>
<polygon points="1179.74,498.26 1186.54,505.06 1179.74,511.86 1172.94,505.06" fill="#00FFFF"/>
<polygon points="1188.26,496.32 1195.06,503.12 1188.26,509.92 1181.46,503.12" fill="#00FFFF"/>
<polygon points="1196.86,494.17 1203.66,500.97 1196.86,507.77 1190.06,500.97" fill="#00FFFF"/>
<polygon points="1205.54,490.94 1212.34,497.74 1205.54,504.54 1198.74,497.74" fill="#00FFFF"/>
<polygon points="1214.29,486.50 1221.09,493.30 1214.29,500.10 1207.49,493.30" fill="#00FFFF"/>
<polygon points="1223.12,481.40 1229.92,488.20 1223.12,495.00 1216.32,488.20" fill="#00FFFF"/>
<polygon points="1232.03,475.97 1238.83,482.77 1232.03,489.57 1225.23,482.77" fill="#00FFFF"/>
<polygon points="1241.02,470.18 1247.82,476.98 1241.02,483.78 1234.22,476.98" fill="#00FFFF"/>
<polygon points="1250.09,462.80 1256.89,469.60 1250.09,476.40 1243.29,469.60" fill="#00FFFF"/>
<polygon points="1259.25,452.52 1266.05,459.32 1259.25,466.12 1252.45,459.32" fill="#00FFFF"/>
<polygon points="1268.48,439.54 1275.28,446.34 1268.48,453.14 1261.68,446.34" fill="#00FFFF"/>
<polygon points="1277.80,423.61 1284.60,430.41 1277.80,437.21 1271.00,430.41" fill="#00FFFF"/>
<polygon points="1287.21,399.44 1294.01,406.24 1287.21,413.04 1280.41,406.24" fill="#00FFFF"/>
<polygon points="1296.70,374.20 1303.50,381.00 1296.70,387.80 1289.90,381.00" fill="#00FFFF"/>
<polygon points="1306.28,348.25 1313.08,355.05 1306.28,361.85 1299.48,355.05" fill="#00FFFF"/>
<polygon points="1315.95,321.05 1322.75,327.85 1315.95,334.65 1309.15,327.85" fill="#00FFFF"/>
<polygon points="1325.71,289.17 1332.51,295.97 1325.71,302.77 1318.91,295.97" fill="#00FFFF"/>
<polygon points="1335.56,256.82 1342.36,263.62 1335.56,270.42 1328.76,263.62" fill="#00FFFF"/>
<polygon points="1345.51,224.88 1352.31,231.68 1345.51,238.48 1338.71,231.68" fill="#00FFFF"/>
<polygon points="1355.55,195.63 1362.35,202.43 1355.55,209.23 1348.75,202.43" fill="#00FFFF"/>
<polygon points="1365.68,174.32 1372.48,181.12 1365.68,187.92 1358.88,181.12" fill="#00FFFF"/>
<polygon points="1375.91,157.21 1382.71,164.01 1375.91,170.81 1369.11,164.01" fill="#00FFFF"/>
<polygon points="1386.24,146.44 1393.04,153.24 1386.24,160.04 1379.44,153.24" fill="#00FFFF"/>
<polygon points="1396.67,140.21 1403.47,147.01 1396.67,153.81 1389.87,147.01" fill="#00FFFF"/>
<polygon points="1407.20,137.50 1414.00,144.30 1407.20,151.10 1400.40,144.30" fill="#00FFFF"/>
<polygon points="1417.83,141.10 1424.63,147.90 1417.83,154.70 1411.03,147.90" fill="#00FFFF"/>
<polygon points="1428.57,141.95 1435.37,148.75 1428.57,155.55 1421.77,148.75" fill="#00FFFF"/>
<polygon points="1439.42,144.60 1446.22,151.40 1439.42,158.20 1432.62,151.40" fill="#00FFFF"/>
<polygon points="1450.37,147.29 1457.17,154.09 1450.37,160.89 1443.57,154.09" fill="#00FFFF"/>
<polygon points="1461.43,151.81 1468.23,158.61 1461.43,165.41 1454.63,158.61" fill="#00FFFF"/>
<polygon points="1472.60,153.60 1479.40,160.40 1472.60,167.20 1465.80,160.40" fill="#00FFFF"/>
<polyline points="814.09,526.80 819.72,526.80 825.38,526.80 831.09,526.79 836.84,526.78 842.63,526.76 848.46,526.74 854.33,526.72 860.25,526.69 866.21,526.66 872.21,526.62 878.26,526.58 884.35,526.53 890.49,526.48 896.67,526.43 902.90,526.37 909.18,526.32 915.50,526.25 921.87,526.19 928.29,526.12 934.76,526.06 941.27,525.99 947.84,525.90 954.46,525.81 961.13,525.69 967.85,525.56 974.62,525.42 981.44,525.26 988.32,525.09 995.26,524.91 1002.24,524.71 1009.29,524.50 1016.39,524.28 1023.54,524.06 1030.76,523.82 1038.03,523.57 1045.36,523.31 1052.75,523.04 1060.20,522.75 1067.71,522.43 1075.29,522.08 1082.92,521.71 1090.62,521.29 1098.38,520.84 1106.21,520.34 1114.11,519.78 1122.07,519.17 1130.10,518.49 1138.19,517.64 1146.36,516.53 1154.60,515.18 1162.90,513.64 1171.28,511.92 1179.74,510.06 1188.26,507.85 1196.86,505.11 1205.54,501.89 1214.29,498.10 1223.12,493.74 1232.03,488.83 1241.02,483.12 1250.09,476.09 1259.25,466.26 1268.48,457.26 1277.80,443.32 1287.21,427.18 1296.70,406.00 1306.28,383.05 1315.95,355.85 1325.71,326.47 1335.56,296.52 1345.51,263.48 1355.55,234.64 1365.68,209.75 1375.91,191.73 1386.24,179.14 1396.67,173.77 1407.20,168.40 1417.83,164.80 1428.57,164.80 1439.42,167.50 1450.37,170.99 1461.43,172.90 1472.60,171.00" fill="none" stroke="#CC9900" stroke-width="3" stroke-linejoin="round" stroke-linecap="round" />
<polygon points="808.39,526.80 819.79,520.30 819.79,533.30" fill="#FF00FF"/>
<polygon points="814.02,526.80 825.42,520.30 825.42,533.30" fill="#FF00FF"/>
<polygon points="819.68,526.80 831.08,520.30 831.08,533.30" fill="#FF00FF"/>
<polygon points="825.39,526.79 836.79,520.29 836.79,533.29" fill="#FF00FF"/>
<polygon points="831.14,526.78 842.54,520.28 842.54,533.28" fill="#FF00FF"/>
<polygon points="836.93,526.76 848.33,520.26 848.33,533.26" fill="#FF00FF"/>
<polygon points="842.76,526.74 854.16,520.24 854.16,533.24" fill="#FF00FF"/>
<polygon points="848.63,526.72 860.03,520.22 860.03,533.22" fill="#FF00FF"/>
<polygon points="854.55,526.69 865.95,520.19 865.95,533.19" fill="#FF00FF"/>
<polygon points="860.51,526.66 871.91,520.16 871.91,533.16" fill="#FF00FF"/>
<polygon points="866.51,526.62 877.91,520.12 877.91,533.12" fill="#FF00FF"/>
<polygon points="872.56,526.58 883.96,520.08 883.96,533.08" fill="#FF00FF"/>
<polygon points="878.65,526.53 890.05,520.03 890.05,533.03" fill="#FF00FF"/>
<polygon points="884.79,526.48 896.19,519.98 896.19,532.98" fill="#FF00FF"/>
<polygon points="890.97,526.43 902.37,519.93 902.37,532.93" fill="#FF00FF"/>
<polygon points="897.20,526.37 908.60,519.87 908.60,532.87" fill="#FF00FF"/>
<polygon points="903.48,526.32 914.88,519.82 914.88,532.82" fill="#FF00FF"/>
<polygon points="909.80,526.25 921.20,519.75 921.20,532.75" fill="#FF00FF"/>
<polygon points="916.17,526.19 927.57,519.69 927.57,532.69" fill="#FF00FF"/>
<polygon points="922.59,526.12 933.99,519.62 933.99,532.62" fill="#FF00FF"/>
<polygon points="929.06,526.06 940.46,519.56 940.46,532.56" fill="#FF00FF"/>
<polygon points="935.57,525.99 946.97,519.49 946.97,532.49" fill="#FF00FF"/>
<polygon points="942.14,525.90 953.54,519.40 953.54,532.40" fill="#FF00FF"/>
<polygon points="948.76,525.81 960.16,519.31 960.16,532.31" fill="#FF00FF"/>
<polygon points="955.43,525.69 966.83,519.19 966.83,532.19" fill="#FF00FF"/>
<polygon points="962.15,525.56 973.55,519.06 973.55,532.06" fill="#FF00FF"/>
<polygon points="968.92,525.42 980.32,518.92 980.32,531.92" fill="#FF00FF"/>
<polygon points="975.74,525.26 987.14,518.76 987.14,531.76" fill="#FF00FF"/>
<polygon points="982.62,525.09 994.02,518.59 994.02,531.59" fill="#FF00FF"/>
<polygon points="989.56,524.91 1000.96,518.41 1000.96,531.41" fill="#FF00FF"/>
<polygon points="996.54,524.71 1007.94,518.21 1007.94,531.21" fill="#FF00FF"/>
<polygon points="1003.59,524.50 1014.99,518.00 1014.99,531.00" fill="#FF00FF"/>
<polygon points="1010.69,524.28 1022.09,517.78 1022.09,530.78" fill="#FF00FF"/>
<polygon points="1017.84,524.06 1029.24,517.56 1029.24,530.56" fill="#FF00FF"/>
<polygon points="1025.06,523.82 1036.46,517.32 1036.46,530.32" fill="#FF00FF"/>
<polygon points="1032.33,523.57 1043.73,517.07 1043.73,530.07" fill="#FF00FF"/>
<polygon points="1039.66,523.31 1051.06,516.81 1051.06,529.81" fill="#FF00FF"/>
<polygon points="1047.05,523.04 1058.45,516.54 1058.45,529.54" fill="#FF00FF"/>
<polygon points="1054.50,522.75 1065.90,516.25 1065.90,529.25" fill="#FF00FF"/>
<polygon points="1062.01,522.43 1073.41,515.93 1073.41,528.93" fill="#FF00FF"/>
<polygon points="1069.59,522.08 1080.99,515.58 1080.99,528.58" fill="#FF00FF"/>
<polygon points="1077.22,521.71 1088.62,515.21 1088.62,528.21" fill="#FF00FF"/>
<polygon points="1084.92,521.29 1096.32,514.79 1096.32,527.79" fill="#FF00FF"/>
<polygon points="1092.68,520.84 1104.08,514.34 1104.08,527.34" fill="#FF00FF"/>
<polygon points="1100.51,520.34 1111.91,513.84 1111.91,526.84" fill="#FF00FF"/>
<polygon points="1108.41,519.78 1119.81,513.28 1119.81,526.28" fill="#FF00FF"/>
<polygon points="1116.37,519.17 1127.77,512.67 1127.77,525.67" fill="#FF00FF"/>
<polygon points="1124.40,518.49 1135.80,511.99 1135.80,524.99" fill="#FF00FF"/>
<polygon points="1132.49,517.64 1143.89,511.14 1143.89,524.14" fill="#FF00FF"/>
<polygon points="1140.66,516.53 1152.06,510.03 1152.06,523.03" fill="#FF00FF"/>
<polygon points="1148.90,515.18 1160.30,508.68 1160.30,521.68" fill="#FF00FF"/>
<polygon points="1157.20,513.64 1168.60,507.14 1168.60,520.14" fill="#FF00FF"/>
<polygon points="1165.58,511.92 1176.98,505.42 1176.98,518.42" fill="#FF00FF"/>
<polygon points="1174.04,510.06 1185.44,503.56 1185.44,516.56" fill="#FF00FF"/>
<polygon points="1182.56,507.85 1193.96,501.35 1193.96,514.35" fill="#FF00FF"/>
<polygon points="1191.16,505.11 1202.56,498.61 1202.56,511.61" fill="#FF00FF"/>
<polygon points="1199.84,501.89 1211.24,495.39 1211.24,508.39" fill="#FF00FF"/>
<polygon points="1208.59,498.10 1219.99,491.60 1219.99,504.60" fill="#FF00FF"/>
<polygon points="1217.42,493.74 1228.82,487.24 1228.82,500.24" fill="#FF00FF"/>
<polygon points="1226.33,488.83 1237.73,482.33 1237.73,495.33" fill="#FF00FF"/>
<polygon points="1235.32,483.12 1246.72,476.62 1246.72,489.62" fill="#FF00FF"/>
<polygon points="1244.39,476.09 1255.79,469.59 1255.79,482.59" fill="#FF00FF"/>
<polygon points="1253.55,466.26 1264.95,459.76 1264.95,472.76" fill="#FF00FF"/>
<polygon points="1262.78,457.26 1274.18,450.76 1274.18,463.76" fill="#FF00FF"/>
<polygon points="1272.10,443.32 1283.50,436.82 1283.50,449.82" fill="#FF00FF"/>
<polygon points="1281.51,427.18 1292.91,420.68 1292.91,433.68" fill="#FF00FF"/>
<polygon points="1291.00,406.00 1302.40,399.50 1302.40,412.50" fill="#FF00FF"/>
<polygon points="1300.58,383.05 1311.98,376.55 1311.98,389.55" fill="#FF00FF"/>
<polygon points="1310.25,355.85 1321.65,349.35 1321.65,362.35" fill="#FF00FF"/>
<polygon points="1320.01,326.47 1331.41,319.97 1331.41,332.97" fill="#FF00FF"/>
<polygon points="1329.86,296.52 1341.26,290.02 1341.26,303.02" fill="#FF00FF"/>
<polygon points="1339.81,263.48 1351.21,256.98 1351.21,269.98" fill="#FF00FF"/>
<polygon points="1349.85,234.64 1361.25,228.14 1361.25,241.14" fill="#FF00FF"/>
<polygon points="1359.98,209.75 1371.38,203.25 1371.38,216.25" fill="#FF00FF"/>
<polygon points="1370.21,191.73 1381.61,185.23 1381.61,198.23" fill="#FF00FF"/>
<polygon points="1380.54,179.14 1391.94,172.64 1391.94,185.64" fill="#FF00FF"/>
<polygon points="1390.97,173.77 1402.37,167.27 1402.37,180.27" fill="#FF00FF"/>
<polygon points="1401.50,168.40 1412.90,161.90 1412.90,174.90" fill="#FF00FF"/>
<polygon points="1412.13,164.80 1423.53,158.30 1423.53,171.30" fill="#FF00FF"/>
<polygon points="1422.87,164.80 1434.27,158.30 1434.27,171.30" fill="#FF00FF"/>
<polygon points="1433.72,167.50 1445.12,161.00 1445.12,174.00" fill="#FF00FF"/>
<polygon points="1444.67,170.99 1456.07,164.49 1456.07,177.49" fill="#FF00FF"/>
<polygon points="1455.73,172.90 1467.13,166.40 1467.13,179.40" fill="#FF00FF"/>
<polygon points="1466.90,171.00 1478.30,164.50 1478.30,177.50" fill="#FF00FF"/>
</g>
<rect x="821" y="6" width="652" height="542.5" fill="none" stroke="#000" stroke-width="4"/>
<line x1="1366.8" y1="79" x2="1244.80" y2="527.84" stroke="#FF0000" stroke-width="3.3"/>
<polygon points="1238.5,551 1238.57,524.07 1252.07,527.75" fill="#FF0000"/>
<line x1="1366" y1="108" x2="1247.50" y2="528.90" stroke="#FF0000" stroke-width="3.3"/>
<polygon points="1241,552 1241.31,525.08 1254.78,528.87" fill="#FF0000"/>
<line x1="1374.6" y1="148.75" x2="1247.58" y2="530.23" stroke="#FF0000" stroke-width="3.3"/>
<polygon points="1240,553 1241.57,526.12 1254.86,530.54" fill="#FF0000"/>
<line x1="1384.5" y1="173.75" x2="1244.79" y2="528.67" stroke="#FF0000" stroke-width="3.3"/>
<polygon points="1236,551 1239.01,524.24 1252.04,529.37" fill="#FF0000"/>
<line x1="1377.3" y1="212.5" x2="1221.40" y2="525.62" stroke="#FF0000" stroke-width="3.3"/>
<polygon points="1210.7,547.1 1216.02,520.71 1228.55,526.95" fill="#FF0000"/>
<line x1="1374.6" y1="286" x2="1242.43" y2="529.90" stroke="#FF0000" stroke-width="3.3"/>
<polygon points="1231,551 1237.23,524.81 1249.54,531.48" fill="#FF0000"/>
<line x1="821.0" y1="548.5" x2="821.0" y2="564" stroke="#000" stroke-width="4"/>
<text x="821.0" y="605.0" font-size="36" text-anchor="middle" fill="#000" font-weight="bold" >4.4</text>
<line x1="857.2" y1="548.5" x2="857.2" y2="555" stroke="#000" stroke-width="4"/>
<line x1="893.4" y1="548.5" x2="893.4" y2="564" stroke="#000" stroke-width="4"/>
<text x="893.4" y="605.0" font-size="36" text-anchor="middle" fill="#000" font-weight="bold" >4.6</text>
<line x1="929.7" y1="548.5" x2="929.7" y2="555" stroke="#000" stroke-width="4"/>
<line x1="965.9" y1="548.5" x2="965.9" y2="564" stroke="#000" stroke-width="4"/>
<text x="965.9" y="605.0" font-size="36" text-anchor="middle" fill="#000" font-weight="bold" >4.8</text>
<line x1="1002.1" y1="548.5" x2="1002.1" y2="555" stroke="#000" stroke-width="4"/>
<line x1="1038.3" y1="548.5" x2="1038.3" y2="564" stroke="#000" stroke-width="4"/>
<text x="1038.3" y="605.0" font-size="36" text-anchor="middle" fill="#000" font-weight="bold" >5.0</text>
<line x1="1074.5" y1="548.5" x2="1074.5" y2="555" stroke="#000" stroke-width="4"/>
<line x1="1110.8" y1="548.5" x2="1110.8" y2="564" stroke="#000" stroke-width="4"/>
<text x="1110.8" y="605.0" font-size="36" text-anchor="middle" fill="#000" font-weight="bold" >5.2</text>
<line x1="1147.0" y1="548.5" x2="1147.0" y2="555" stroke="#000" stroke-width="4"/>
<line x1="1183.2" y1="548.5" x2="1183.2" y2="564" stroke="#000" stroke-width="4"/>
<text x="1183.2" y="605.0" font-size="36" text-anchor="middle" fill="#000" font-weight="bold" >5.4</text>
<line x1="1219.4" y1="548.5" x2="1219.4" y2="555" stroke="#000" stroke-width="4"/>
<line x1="1255.6" y1="548.5" x2="1255.6" y2="564" stroke="#000" stroke-width="4"/>
<text x="1255.6" y="605.0" font-size="36" text-anchor="middle" fill="#000" font-weight="bold" >5.6</text>
<line x1="1291.9" y1="548.5" x2="1291.9" y2="555" stroke="#000" stroke-width="4"/>
<line x1="1328.1" y1="548.5" x2="1328.1" y2="564" stroke="#000" stroke-width="4"/>
<text x="1328.1" y="605.0" font-size="36" text-anchor="middle" fill="#000" font-weight="bold" >5.8</text>
<line x1="1364.3" y1="548.5" x2="1364.3" y2="555" stroke="#000" stroke-width="4"/>
<line x1="1400.5" y1="548.5" x2="1400.5" y2="564" stroke="#000" stroke-width="4"/>
<text x="1400.5" y="605.0" font-size="36" text-anchor="middle" fill="#000" font-weight="bold" >6.0</text>
<line x1="1436.7" y1="548.5" x2="1436.7" y2="555" stroke="#000" stroke-width="4"/>
<line x1="1473.0" y1="548.5" x2="1473.0" y2="564" stroke="#000" stroke-width="4"/>
<text x="1473.0" y="605.0" font-size="36" text-anchor="middle" fill="#000" font-weight="bold" >6.2</text>
<text x="1083.00" y="659.00" font-size="42" font-weight="bold" textLength="22.50" lengthAdjust="spacingAndGlyphs">h</text>
<text x="1107.40" y="659.00" font-size="42" font-weight="normal" textLength="21.80" lengthAdjust="spacingAndGlyphs">&#957;</text>
<text x="1138.90" y="659.00" font-size="45" font-weight="normal" textLength="12.70" lengthAdjust="spacingAndGlyphs">(</text>
<text x="1155.50" y="659.00" font-size="42" font-weight="bold" textLength="38.10" lengthAdjust="spacingAndGlyphs">ev</text>
<text x="1197.20" y="659.00" font-size="45" font-weight="normal" textLength="12.70" lengthAdjust="spacingAndGlyphs">)</text>
<g transform="translate(795.5,414.3) rotate(-90)">
<text x="-2.26" y="-1.90" font-size="46" font-weight="normal" textLength="13.00" lengthAdjust="spacingAndGlyphs">(</text>
<text x="15.60" y="0.00" font-size="42" font-weight="bold" textLength="62.50" lengthAdjust="spacingAndGlyphs">&#945;h&#957;</text>
<text x="83.60" y="-1.90" font-size="46" font-weight="normal" textLength="13.00" lengthAdjust="spacingAndGlyphs">)</text>
<text x="99.30" y="-19.50" font-size="34" font-weight="bold">2</text>
<text x="131.20" y="-1.90" font-size="46" font-weight="normal" textLength="13.00" lengthAdjust="spacingAndGlyphs">(</text>
<text x="144.90" y="0.00" font-size="42" font-weight="bold" textLength="52.60" lengthAdjust="spacingAndGlyphs">cm</text>
<text x="201.60" y="-19.50" font-size="34" font-weight="bold">-1</text>
<text x="234.80" y="0.00" font-size="42" font-weight="bold" textLength="37.80" lengthAdjust="spacingAndGlyphs">ev</text>
<text x="273.10" y="-1.90" font-size="46" font-weight="normal" textLength="13.00" lengthAdjust="spacingAndGlyphs">)</text>
<text x="290.60" y="-19.50" font-size="34" font-weight="bold">2</text>
</g>
<text x="828.8" y="39.2" font-size="42.3" text-anchor="start" fill="#000" font-weight="bold" >(b)</text>
<text x="836.7" y="86.8" font-size="28" text-anchor="start" fill="#000" font-weight="bold" >HoYO:XEu</text>
<text x="980.5" y="77.5" font-size="20.5" text-anchor="start" fill="#000" font-weight="bold" >3+</text>
<line x1="836.5" y1="121.4" x2="921.8" y2="121.4" stroke="#404040" stroke-width="3.8" stroke-linecap="round"/>
<rect x="874.82" y="117.22" width="8.36" height="8.36" fill="#000000"/>
<text x="932.2" y="134.8" font-size="30.6" text-anchor="start" fill="#000" font-weight="bold" >0 mole%</text>
<line x1="836.5" y1="168.9" x2="921.8" y2="168.9" stroke="#EA3030" stroke-width="3.8" stroke-linecap="round"/>
<circle cx="879.00" cy="168.90" r="5.06" fill="#FF0000"/>
<text x="932.2" y="182.3" font-size="30.6" text-anchor="start" fill="#000" font-weight="bold" >1 mole%</text>
<line x1="836.5" y1="216.4" x2="921.8" y2="216.4" stroke="#1A6FDF" stroke-width="3.8" stroke-linecap="round"/>
<polygon points="879.00,211.38 884.72,221.42 873.28,221.42" fill="#00FF00"/>
<text x="932.2" y="229.8" font-size="30.6" text-anchor="start" fill="#000" font-weight="bold" >3 mole%</text>
<line x1="836.5" y1="263.9" x2="921.8" y2="263.9" stroke="#37AD6B" stroke-width="3.8" stroke-linecap="round"/>
<polygon points="879.00,268.92 884.72,258.88 873.28,258.88" fill="#0000FF"/>
<text x="932.2" y="277.3" font-size="30.6" text-anchor="start" fill="#000" font-weight="bold" >5 mole%</text>
<line x1="836.5" y1="311.4" x2="921.8" y2="311.4" stroke="#B177DE" stroke-width="3.8" stroke-linecap="round"/>
<polygon points="879.00,305.42 884.98,311.40 879.00,317.38 873.02,311.40" fill="#00FFFF"/>
<text x="932.2" y="324.8" font-size="30.6" text-anchor="start" fill="#000" font-weight="bold" >7 mole%</text>
<line x1="836.5" y1="358.9" x2="921.8" y2="358.9" stroke="#CC9900" stroke-width="3.8" stroke-linecap="round"/>
<polygon points="873.98,358.90 884.02,353.18 884.02,364.62" fill="#FF00FF"/>
<text x="932.2" y="372.3" font-size="30.6" text-anchor="start" fill="#000" font-weight="bold" >9 mole%</text>
</svg></body></html>
